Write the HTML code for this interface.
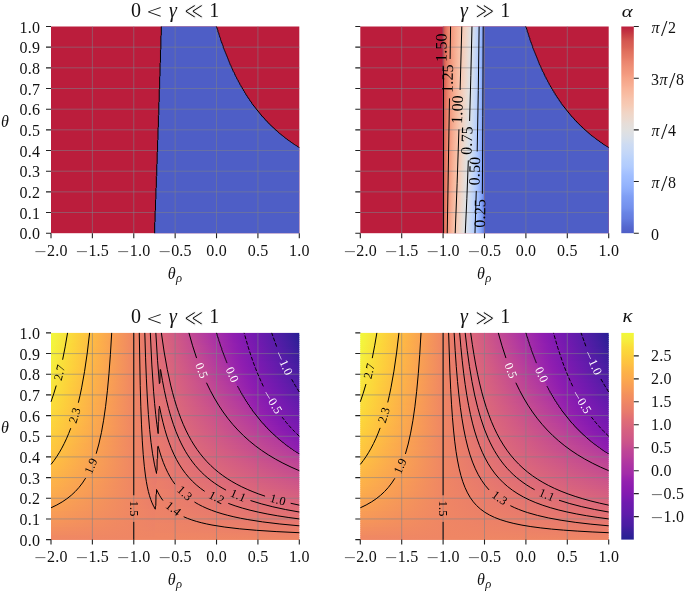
<!DOCTYPE html><html><head><meta charset="utf-8"><title>figure</title><style>html,body{margin:0;padding:0;background:#fff}svg{display:block}</style></head><body><svg width="685" height="592" viewBox="0 0 685 592" font-family='"Liberation Serif", "DejaVu Serif", serif'>
<defs><linearGradient id="Btr0" gradientUnits="userSpaceOnUse" x1="443.1" x2="484.5" y1="0" y2="0"/><linearGradient id="g1" href="#Btr0"><stop offset="0" stop-color="#bb1d3c"/><stop offset=".0127" stop-color="#cc4a49"/><stop offset=".0253" stop-color="#d2554e"/><stop offset=".0506" stop-color="#db6557"/><stop offset=".076" stop-color="#e1715f"/><stop offset=".1013" stop-color="#e67b66"/><stop offset=".1392" stop-color="#ec876f"/><stop offset=".2152" stop-color="#f39a7f"/><stop offset=".3038" stop-color="#f7ae92"/><stop offset=".4304" stop-color="#f7c3ac"/><stop offset=".5696" stop-color="#eed7ca"/><stop offset=".6582" stop-color="#e2dfde"/><stop offset=".7215" stop-color="#d6deeb"/><stop offset=".7848" stop-color="#c8d9f5"/><stop offset=".8354" stop-color="#bad1fb"/><stop offset=".8987" stop-color="#a3c0ff"/><stop offset=".9367" stop-color="#90b0fc"/><stop offset=".962" stop-color="#809ff5"/><stop offset=".9747" stop-color="#7694ef"/><stop offset=".9873" stop-color="#6984e5"/><stop offset="1" stop-color="#4e5ec6"/></linearGradient><linearGradient id="g2" href="#Btr0"><stop offset="0" stop-color="#bb1d3c"/><stop offset=".0127" stop-color="#cc4a49"/><stop offset=".0253" stop-color="#d2554e"/><stop offset=".0506" stop-color="#db6557"/><stop offset=".1013" stop-color="#e67b66"/><stop offset=".1266" stop-color="#ea846c"/><stop offset=".2405" stop-color="#f5a186"/><stop offset=".3165" stop-color="#f7b095"/><stop offset=".4051" stop-color="#f8c0a7"/><stop offset=".5316" stop-color="#f1d2c2"/><stop offset=".5949" stop-color="#ebdad0"/><stop offset=".6582" stop-color="#e2dfde"/><stop offset=".7215" stop-color="#d6deeb"/><stop offset=".8101" stop-color="#c1d5f9"/><stop offset=".8734" stop-color="#adc8ff"/><stop offset=".9114" stop-color="#9cbbfe"/><stop offset=".9494" stop-color="#89a8f9"/><stop offset=".9747" stop-color="#7694ef"/><stop offset=".9873" stop-color="#6984e5"/><stop offset="1" stop-color="#4e5ec6"/></linearGradient><linearGradient id="g3" href="#Btr0"><stop offset="0" stop-color="#bb1d3c"/><stop offset=".0127" stop-color="#cc4a49"/><stop offset=".0253" stop-color="#d2554e"/><stop offset=".0506" stop-color="#db6557"/><stop offset=".1013" stop-color="#e67b66"/><stop offset=".1266" stop-color="#ea846c"/><stop offset=".1772" stop-color="#f09278"/><stop offset=".2532" stop-color="#f5a488"/><stop offset=".3544" stop-color="#f8b89d"/><stop offset=".4177" stop-color="#f7c2aa"/><stop offset=".4937" stop-color="#f4cebb"/><stop offset=".557" stop-color="#efd5c8"/><stop offset=".6582" stop-color="#e1e0df"/><stop offset=".7342" stop-color="#d3dded"/><stop offset=".8101" stop-color="#c1d5f9"/><stop offset=".8481" stop-color="#b5cefd"/><stop offset=".9114" stop-color="#9cbbfe"/><stop offset=".9494" stop-color="#89a8f9"/><stop offset=".9747" stop-color="#7694ef"/><stop offset=".9873" stop-color="#6984e5"/><stop offset="1" stop-color="#4e5ec6"/></linearGradient><linearGradient id="g4" href="#Btr0"><stop offset="0" stop-color="#bb1d3c"/><stop offset=".0127" stop-color="#cc4a49"/><stop offset=".038" stop-color="#d85f54"/><stop offset=".076" stop-color="#e27260"/><stop offset=".1646" stop-color="#ef8f75"/><stop offset=".3038" stop-color="#f7af94"/><stop offset=".4177" stop-color="#f7c2aa"/><stop offset=".557" stop-color="#efd6c9"/><stop offset=".6203" stop-color="#e7ddd6"/><stop offset=".6582" stop-color="#e1e0df"/><stop offset=".7468" stop-color="#d0dcf0"/><stop offset=".7848" stop-color="#c6d8f6"/><stop offset=".8354" stop-color="#b9d0fc"/><stop offset=".8987" stop-color="#a1bfff"/><stop offset=".924" stop-color="#96b6fd"/><stop offset=".9367" stop-color="#8faffc"/><stop offset=".962" stop-color="#809ff5"/><stop offset=".9747" stop-color="#7694ef"/><stop offset=".9873" stop-color="#6984e5"/><stop offset="1" stop-color="#4e5ec6"/></linearGradient><linearGradient id="g5" href="#Btr0"><stop offset="0" stop-color="#bb1d3c"/><stop offset=".0127" stop-color="#cc4a49"/><stop offset=".038" stop-color="#d85f54"/><stop offset=".076" stop-color="#e27260"/><stop offset=".1519" stop-color="#ee8c73"/><stop offset=".2911" stop-color="#f7ac91"/><stop offset=".4051" stop-color="#f8c1a9"/><stop offset=".519" stop-color="#f2d2c1"/><stop offset=".6076" stop-color="#e9dbd4"/><stop offset=".6582" stop-color="#e1e0df"/><stop offset=".7215" stop-color="#d5deeb"/><stop offset=".7848" stop-color="#c6d8f6"/><stop offset=".8354" stop-color="#b9d0fc"/><stop offset=".8987" stop-color="#a1bfff"/><stop offset=".9367" stop-color="#8faffc"/><stop offset=".962" stop-color="#7f9ef5"/><stop offset=".9747" stop-color="#7593ef"/><stop offset=".9873" stop-color="#6984e5"/><stop offset="1" stop-color="#4e5ec6"/></linearGradient><linearGradient id="g6" href="#Btr0"><stop offset="0" stop-color="#bb1d3c"/><stop offset=".0127" stop-color="#cc4a49"/><stop offset=".038" stop-color="#d85f54"/><stop offset=".0886" stop-color="#e57864"/><stop offset=".1392" stop-color="#ec8970"/><stop offset=".2532" stop-color="#f5a488"/><stop offset=".3544" stop-color="#f8b99f"/><stop offset=".4051" stop-color="#f8c1a9"/><stop offset=".481" stop-color="#f5ccb8"/><stop offset=".557" stop-color="#efd6c9"/><stop offset=".6582" stop-color="#e0e0e1"/><stop offset=".7342" stop-color="#d2ddee"/><stop offset=".8101" stop-color="#c0d5f9"/><stop offset=".8734" stop-color="#abc7ff"/><stop offset=".9114" stop-color="#9bbafe"/><stop offset=".9494" stop-color="#87a7f9"/><stop offset=".9747" stop-color="#7593ef"/><stop offset=".9873" stop-color="#6984e5"/><stop offset="1" stop-color="#4e5ec6"/></linearGradient><linearGradient id="g7" href="#Btr0"><stop offset="0" stop-color="#bb1d3c"/><stop offset=".0127" stop-color="#cc4a49"/><stop offset=".038" stop-color="#d85f54"/><stop offset=".0506" stop-color="#dc6759"/><stop offset=".0886" stop-color="#e57864"/><stop offset=".1392" stop-color="#ec8970"/><stop offset=".2532" stop-color="#f6a68a"/><stop offset=".4051" stop-color="#f8c1a9"/><stop offset=".519" stop-color="#f1d2c2"/><stop offset=".6076" stop-color="#e8dcd5"/><stop offset=".6456" stop-color="#e2dfde"/><stop offset=".7089" stop-color="#d7deea"/><stop offset=".7342" stop-color="#d1ddef"/><stop offset=".8101" stop-color="#c0d5f9"/><stop offset=".8481" stop-color="#b4cdfd"/><stop offset=".9114" stop-color="#9bbafe"/><stop offset=".9494" stop-color="#87a7f9"/><stop offset=".9747" stop-color="#7593ef"/><stop offset=".9873" stop-color="#6984e5"/><stop offset="1" stop-color="#4e5ec6"/></linearGradient><linearGradient id="g8" href="#Btr0"><stop offset="0" stop-color="#bb1d3c"/><stop offset=".0127" stop-color="#cc4a49"/><stop offset=".0253" stop-color="#d45750"/><stop offset=".0506" stop-color="#dc6759"/><stop offset=".1013" stop-color="#e77d67"/><stop offset=".1266" stop-color="#eb856e"/><stop offset=".1772" stop-color="#f09479"/><stop offset=".2532" stop-color="#f6a68a"/><stop offset=".4051" stop-color="#f7c2aa"/><stop offset=".519" stop-color="#f1d2c2"/><stop offset=".6076" stop-color="#e8dcd5"/><stop offset=".6456" stop-color="#e2dfde"/><stop offset=".7215" stop-color="#d4deec"/><stop offset=".7975" stop-color="#c2d6f8"/><stop offset=".8608" stop-color="#afcafe"/><stop offset=".9114" stop-color="#9bbafe"/><stop offset=".9494" stop-color="#87a7f9"/><stop offset=".9747" stop-color="#7593ef"/><stop offset=".9873" stop-color="#6984e5"/><stop offset="1" stop-color="#4e5ec6"/></linearGradient><linearGradient id="g9" href="#Btr0"><stop offset="0" stop-color="#bb1d3c"/><stop offset=".0127" stop-color="#cc4a49"/><stop offset=".0253" stop-color="#d45750"/><stop offset=".0506" stop-color="#dc6759"/><stop offset=".1013" stop-color="#e77d67"/><stop offset=".1266" stop-color="#eb856e"/><stop offset=".1646" stop-color="#ef9177"/><stop offset=".2532" stop-color="#f6a68a"/><stop offset=".3291" stop-color="#f8b59b"/><stop offset=".4051" stop-color="#f7c2aa"/><stop offset=".519" stop-color="#f1d2c2"/><stop offset=".5823" stop-color="#ebdad0"/><stop offset=".6456" stop-color="#e2dfde"/><stop offset=".7089" stop-color="#d6deeb"/><stop offset=".7722" stop-color="#c9d9f5"/><stop offset=".8354" stop-color="#b7d0fc"/><stop offset=".8987" stop-color="#a0beff"/><stop offset=".9367" stop-color="#8dadfb"/><stop offset=".962" stop-color="#7f9ef5"/><stop offset=".9747" stop-color="#7593ef"/><stop offset=".9873" stop-color="#6984e5"/><stop offset="1" stop-color="#4e5ec6"/></linearGradient><linearGradient id="g10" href="#Btr0"><stop offset="0" stop-color="#bb1d3c"/><stop offset=".0127" stop-color="#cc4a49"/><stop offset=".0253" stop-color="#d45750"/><stop offset=".0506" stop-color="#dc6759"/><stop offset=".076" stop-color="#e27260"/><stop offset=".1013" stop-color="#e77d67"/><stop offset=".1519" stop-color="#ee8d74"/><stop offset=".2911" stop-color="#f7ae92"/><stop offset=".4051" stop-color="#f7c2aa"/><stop offset=".5443" stop-color="#efd6c9"/><stop offset=".6076" stop-color="#e7ddd6"/><stop offset=".6456" stop-color="#e1e0df"/><stop offset=".7342" stop-color="#d1ddef"/><stop offset=".7848" stop-color="#c5d7f7"/><stop offset=".8481" stop-color="#b3ccfd"/><stop offset=".8987" stop-color="#a0beff"/><stop offset=".9367" stop-color="#8dadfb"/><stop offset=".962" stop-color="#7f9ef5"/><stop offset=".9747" stop-color="#7593ef"/><stop offset=".9873" stop-color="#6883e4"/><stop offset="1" stop-color="#4e5ec6"/></linearGradient><linearGradient id="g11" href="#Btr0"><stop offset="0" stop-color="#bb1d3c"/><stop offset=".0127" stop-color="#cc4a49"/><stop offset=".0253" stop-color="#d45750"/><stop offset=".0506" stop-color="#dc6759"/><stop offset=".076" stop-color="#e27260"/><stop offset=".1139" stop-color="#e9826b"/><stop offset=".1519" stop-color="#ee8d74"/><stop offset=".2911" stop-color="#f7ae92"/><stop offset=".4051" stop-color="#f7c2aa"/><stop offset=".5443" stop-color="#efd6c9"/><stop offset=".6076" stop-color="#e7ddd6"/><stop offset=".6456" stop-color="#e1e0df"/><stop offset=".7215" stop-color="#d3dded"/><stop offset=".7975" stop-color="#c1d5f9"/><stop offset=".8481" stop-color="#b3ccfd"/><stop offset=".9114" stop-color="#9ab9fe"/><stop offset=".9494" stop-color="#86a6f8"/><stop offset=".9747" stop-color="#7593ef"/><stop offset=".9873" stop-color="#6883e4"/><stop offset="1" stop-color="#4e5ec6"/></linearGradient><linearGradient id="g12" href="#Btr0"><stop offset="0" stop-color="#bb1d3c"/><stop offset=".0127" stop-color="#cc4a49"/><stop offset=".0253" stop-color="#d45750"/><stop offset=".0506" stop-color="#dc6759"/><stop offset=".076" stop-color="#e37461"/><stop offset=".1392" stop-color="#ed8a71"/><stop offset=".2405" stop-color="#f5a488"/><stop offset=".3924" stop-color="#f8c1a9"/><stop offset=".5063" stop-color="#f2d2c1"/><stop offset=".5949" stop-color="#e9dbd4"/><stop offset=".6456" stop-color="#e1e0df"/><stop offset=".7342" stop-color="#d0dcf0"/><stop offset=".7975" stop-color="#c1d5f9"/><stop offset=".8608" stop-color="#aec9fe"/><stop offset=".9114" stop-color="#9ab9fe"/><stop offset=".9494" stop-color="#86a6f8"/><stop offset=".9747" stop-color="#7593ef"/><stop offset=".9873" stop-color="#6883e4"/><stop offset="1" stop-color="#4e5ec6"/></linearGradient><linearGradient id="g13" href="#Btr0"><stop offset="0" stop-color="#bb1d3c"/><stop offset=".0127" stop-color="#cc4a49"/><stop offset=".0253" stop-color="#d45750"/><stop offset=".0633" stop-color="#e06f5d"/><stop offset=".0886" stop-color="#e57965"/><stop offset=".1392" stop-color="#ed8a71"/><stop offset=".1772" stop-color="#f1957b"/><stop offset=".2405" stop-color="#f5a488"/><stop offset=".3291" stop-color="#f8b79c"/><stop offset=".3924" stop-color="#f8c1a9"/><stop offset=".4937" stop-color="#f3d1bf"/><stop offset=".5443" stop-color="#efd6c9"/><stop offset=".6456" stop-color="#e0e0e1"/><stop offset=".7089" stop-color="#d5deeb"/><stop offset=".7722" stop-color="#c8d9f5"/><stop offset=".8228" stop-color="#bad1fb"/><stop offset=".8608" stop-color="#adc8ff"/><stop offset=".8987" stop-color="#9fbdff"/><stop offset=".924" stop-color="#94b3fd"/><stop offset=".9494" stop-color="#86a6f8"/><stop offset=".9747" stop-color="#7491ee"/><stop offset=".9873" stop-color="#6883e4"/><stop offset="1" stop-color="#4e5ec6"/></linearGradient><linearGradient id="g14" href="#Btr0"><stop offset="0" stop-color="#bb1d3c"/><stop offset=".0127" stop-color="#cc4a49"/><stop offset=".0253" stop-color="#d45750"/><stop offset=".0633" stop-color="#e06f5d"/><stop offset=".1266" stop-color="#ec876f"/><stop offset=".1646" stop-color="#f09278"/><stop offset=".2405" stop-color="#f5a488"/><stop offset=".3418" stop-color="#f8b99f"/><stop offset=".3924" stop-color="#f8c1a9"/><stop offset=".5063" stop-color="#f1d2c2"/><stop offset=".5949" stop-color="#e8dcd5"/><stop offset=".6329" stop-color="#e2dfde"/><stop offset=".6962" stop-color="#d7deea"/><stop offset=".7722" stop-color="#c6d8f6"/><stop offset=".8481" stop-color="#b1cbfe"/><stop offset=".8987" stop-color="#9fbdff"/><stop offset=".9494" stop-color="#86a6f8"/><stop offset=".9747" stop-color="#7491ee"/><stop offset=".9873" stop-color="#6883e4"/><stop offset="1" stop-color="#4e5ec6"/></linearGradient><linearGradient id="g15" href="#Btr0"><stop offset="0" stop-color="#bb1d3c"/><stop offset=".0127" stop-color="#cc4a49"/><stop offset=".0253" stop-color="#d45750"/><stop offset=".038" stop-color="#d96155"/><stop offset=".0633" stop-color="#e06f5d"/><stop offset=".1013" stop-color="#e87f68"/><stop offset=".1266" stop-color="#ec876f"/><stop offset=".1646" stop-color="#f09278"/><stop offset=".2405" stop-color="#f5a488"/><stop offset=".3291" stop-color="#f8b79c"/><stop offset=".3924" stop-color="#f7c2aa"/><stop offset=".5063" stop-color="#f1d2c2"/><stop offset=".5949" stop-color="#e8dcd5"/><stop offset=".6329" stop-color="#e2dfde"/><stop offset=".7215" stop-color="#d2ddee"/><stop offset=".7975" stop-color="#c0d5f9"/><stop offset=".8608" stop-color="#adc8ff"/><stop offset=".9114" stop-color="#99b8fe"/><stop offset=".9494" stop-color="#85a4f8"/><stop offset=".962" stop-color="#7e9cf4"/><stop offset=".9747" stop-color="#7491ee"/><stop offset=".9873" stop-color="#6883e4"/><stop offset="1" stop-color="#4e5ec6"/></linearGradient><linearGradient id="g16" href="#Btr0"><stop offset="0" stop-color="#bb1d3c"/><stop offset=".0127" stop-color="#cc4a49"/><stop offset=".0253" stop-color="#d45750"/><stop offset=".038" stop-color="#d96155"/><stop offset=".0633" stop-color="#e06f5d"/><stop offset=".1013" stop-color="#e87f68"/><stop offset=".1519" stop-color="#ef8f75"/><stop offset=".2152" stop-color="#f4a084"/><stop offset=".2785" stop-color="#f7ae92"/><stop offset=".3924" stop-color="#f7c2aa"/><stop offset=".5063" stop-color="#f1d2c2"/><stop offset=".557" stop-color="#ecd9cf"/><stop offset=".6329" stop-color="#e2dfde"/><stop offset=".7089" stop-color="#d4deec"/><stop offset=".7975" stop-color="#c0d5f9"/><stop offset=".8608" stop-color="#adc8ff"/><stop offset=".9114" stop-color="#99b8fe"/><stop offset=".9494" stop-color="#85a4f8"/><stop offset=".962" stop-color="#7e9cf4"/><stop offset=".9747" stop-color="#7491ee"/><stop offset=".9873" stop-color="#6883e4"/><stop offset="1" stop-color="#4e5ec6"/></linearGradient><linearGradient id="g17" href="#Btr0"><stop offset="0" stop-color="#bb1d3c"/><stop offset=".0127" stop-color="#cc4a49"/><stop offset=".0253" stop-color="#d45750"/><stop offset=".038" stop-color="#d96155"/><stop offset=".0506" stop-color="#dd695a"/><stop offset=".1139" stop-color="#ea846c"/><stop offset=".1899" stop-color="#f39a7f"/><stop offset=".2405" stop-color="#f6a68a"/><stop offset=".3291" stop-color="#f8b89d"/><stop offset=".3924" stop-color="#f7c2aa"/><stop offset=".5316" stop-color="#efd6c9"/><stop offset=".5949" stop-color="#e7ddd6"/><stop offset=".6329" stop-color="#e1e0df"/><stop offset=".7215" stop-color="#d1ddef"/><stop offset=".7975" stop-color="#c0d5f9"/><stop offset=".8481" stop-color="#b0cbfe"/><stop offset=".8987" stop-color="#9ebcfe"/><stop offset=".9367" stop-color="#8cacfb"/><stop offset=".962" stop-color="#7e9cf4"/><stop offset=".9747" stop-color="#7491ee"/><stop offset=".9873" stop-color="#6883e4"/><stop offset="1" stop-color="#4e5ec6"/></linearGradient><linearGradient id="g18" href="#Btr0"><stop offset="0" stop-color="#bb1d3c"/><stop offset=".0127" stop-color="#cc4a49"/><stop offset=".0253" stop-color="#d45750"/><stop offset=".038" stop-color="#d96155"/><stop offset=".0506" stop-color="#dd695a"/><stop offset=".076" stop-color="#e37461"/><stop offset=".1392" stop-color="#ee8c73"/><stop offset=".1772" stop-color="#f2977c"/><stop offset=".2785" stop-color="#f7ae92"/><stop offset=".3797" stop-color="#f8c1a9"/><stop offset=".4051" stop-color="#f7c4ad"/><stop offset=".5316" stop-color="#efd6c9"/><stop offset=".5949" stop-color="#e7ddd6"/><stop offset=".6329" stop-color="#e1e0df"/><stop offset=".6835" stop-color="#d8dfe9"/><stop offset=".7595" stop-color="#c9d9f5"/><stop offset=".8481" stop-color="#b0cbfe"/><stop offset=".8987" stop-color="#9ebcfe"/><stop offset=".924" stop-color="#92b2fc"/><stop offset=".9494" stop-color="#85a4f8"/><stop offset=".9747" stop-color="#7491ee"/><stop offset=".9873" stop-color="#6883e4"/><stop offset="1" stop-color="#4e5ec6"/></linearGradient><linearGradient id="g19" href="#Btr0"><stop offset="0" stop-color="#bb1d3c"/><stop offset=".0127" stop-color="#cc4a49"/><stop offset=".0253" stop-color="#d45750"/><stop offset=".038" stop-color="#d96155"/><stop offset=".0506" stop-color="#dd695a"/><stop offset=".1013" stop-color="#e87f68"/><stop offset=".1646" stop-color="#f09479"/><stop offset=".2785" stop-color="#f7ae92"/><stop offset=".3924" stop-color="#f7c3ac"/><stop offset=".4684" stop-color="#f4cebb"/><stop offset=".5316" stop-color="#efd6c9"/><stop offset=".6329" stop-color="#e1e0df"/><stop offset=".7089" stop-color="#d3dded"/><stop offset=".7975" stop-color="#bfd4fa"/><stop offset=".8608" stop-color="#abc7ff"/><stop offset=".9114" stop-color="#97b7fe"/><stop offset=".9494" stop-color="#85a4f8"/><stop offset=".9747" stop-color="#7491ee"/><stop offset=".9873" stop-color="#6883e4"/><stop offset="1" stop-color="#4e5ec6"/></linearGradient><linearGradient id="g20" href="#Btr0"><stop offset="0" stop-color="#bb1d3c"/><stop offset=".0127" stop-color="#ce4c4a"/><stop offset=".0253" stop-color="#d45750"/><stop offset=".038" stop-color="#d96155"/><stop offset=".076" stop-color="#e47662"/><stop offset=".1266" stop-color="#ec8970"/><stop offset=".2278" stop-color="#f5a488"/><stop offset=".3291" stop-color="#f8b99f"/><stop offset=".3797" stop-color="#f8c1a9"/><stop offset=".443" stop-color="#f5cbb7"/><stop offset=".5316" stop-color="#eed7ca"/><stop offset=".6329" stop-color="#e0e0e1"/><stop offset=".7215" stop-color="#d0dcf0"/><stop offset=".7975" stop-color="#bfd4fa"/><stop offset=".8608" stop-color="#abc7ff"/><stop offset=".9114" stop-color="#97b7fe"/><stop offset=".9494" stop-color="#84a3f7"/><stop offset=".962" stop-color="#7c9bf3"/><stop offset=".9747" stop-color="#7390ed"/><stop offset=".9873" stop-color="#6883e4"/><stop offset="1" stop-color="#4e5ec6"/></linearGradient><linearGradient id="g21" href="#Btr0"><stop offset="0" stop-color="#bb1d3c"/><stop offset=".0127" stop-color="#ce4c4a"/><stop offset=".0253" stop-color="#d55951"/><stop offset=".0633" stop-color="#e1715f"/><stop offset=".1013" stop-color="#e9806a"/><stop offset=".1519" stop-color="#ef9177"/><stop offset=".2025" stop-color="#f49e83"/><stop offset=".2785" stop-color="#f7af94"/><stop offset=".3924" stop-color="#f7c3ac"/><stop offset=".5316" stop-color="#eed7ca"/><stop offset=".6203" stop-color="#e2dfde"/><stop offset=".6835" stop-color="#d7deea"/><stop offset=".7595" stop-color="#c8d9f5"/><stop offset=".8481" stop-color="#afcafe"/><stop offset=".8987" stop-color="#9cbbfe"/><stop offset=".9367" stop-color="#8babfa"/><stop offset=".962" stop-color="#7c9bf3"/><stop offset=".9747" stop-color="#7390ed"/><stop offset=".9873" stop-color="#6781e3"/><stop offset="1" stop-color="#4e5ec6"/></linearGradient><linearGradient id="g22" href="#Btr0"><stop offset="0" stop-color="#bb1d3c"/><stop offset=".0127" stop-color="#ce4c4a"/><stop offset=".0253" stop-color="#d55951"/><stop offset=".0633" stop-color="#e1715f"/><stop offset=".1013" stop-color="#e9806a"/><stop offset=".1519" stop-color="#ef9177"/><stop offset=".1899" stop-color="#f39b80"/><stop offset=".2785" stop-color="#f7af94"/><stop offset=".3797" stop-color="#f7c2aa"/><stop offset=".4937" stop-color="#f1d2c2"/><stop offset=".5443" stop-color="#ecd8cd"/><stop offset=".6203" stop-color="#e2dfde"/><stop offset=".7089" stop-color="#d2ddee"/><stop offset=".7722" stop-color="#c4d7f7"/><stop offset=".8354" stop-color="#b3ccfd"/><stop offset=".8987" stop-color="#9cbbfe"/><stop offset=".9367" stop-color="#8babfa"/><stop offset=".962" stop-color="#7c9bf3"/><stop offset=".9747" stop-color="#7390ed"/><stop offset=".9873" stop-color="#6781e3"/><stop offset="1" stop-color="#4e5ec6"/></linearGradient><linearGradient id="g23" href="#Btr0"><stop offset="0" stop-color="#bb1d3c"/><stop offset=".0127" stop-color="#ce4c4a"/><stop offset=".0253" stop-color="#d55951"/><stop offset=".0633" stop-color="#e1715f"/><stop offset=".1139" stop-color="#eb856e"/><stop offset=".1392" stop-color="#ee8d74"/><stop offset=".1772" stop-color="#f2987d"/><stop offset=".2658" stop-color="#f7ac91"/><stop offset=".3797" stop-color="#f7c2aa"/><stop offset=".519" stop-color="#efd6c9"/><stop offset=".5823" stop-color="#e7ddd6"/><stop offset=".6203" stop-color="#e1e0df"/><stop offset=".6962" stop-color="#d4deec"/><stop offset=".7848" stop-color="#c1d5f9"/><stop offset=".8608" stop-color="#aac6ff"/><stop offset=".8987" stop-color="#9bbafe"/><stop offset=".9494" stop-color="#84a3f7"/><stop offset=".962" stop-color="#7c9bf3"/><stop offset=".9747" stop-color="#7390ed"/><stop offset=".9873" stop-color="#6781e3"/><stop offset="1" stop-color="#4e5ec6"/></linearGradient><linearGradient id="g24" href="#Btr0"><stop offset="0" stop-color="#bb1d3c"/><stop offset=".0127" stop-color="#ce4c4a"/><stop offset=".0253" stop-color="#d55951"/><stop offset=".0633" stop-color="#e1715f"/><stop offset=".1139" stop-color="#eb856e"/><stop offset=".1392" stop-color="#ee8d74"/><stop offset=".2278" stop-color="#f6a68a"/><stop offset=".3165" stop-color="#f8b89d"/><stop offset=".3797" stop-color="#f7c2aa"/><stop offset=".519" stop-color="#efd6c9"/><stop offset=".5823" stop-color="#e7ddd6"/><stop offset=".6203" stop-color="#e1e0df"/><stop offset=".6835" stop-color="#d6deeb"/><stop offset=".7595" stop-color="#c6d8f6"/><stop offset=".8481" stop-color="#aec9fe"/><stop offset=".8987" stop-color="#9bbafe"/><stop offset=".9494" stop-color="#84a3f7"/><stop offset=".9747" stop-color="#7390ed"/><stop offset=".9873" stop-color="#6781e3"/><stop offset="1" stop-color="#4e5ec6"/></linearGradient><linearGradient id="g25" href="#Btr0"><stop offset="0" stop-color="#bb1d3c"/><stop offset=".0127" stop-color="#ce4c4a"/><stop offset=".0253" stop-color="#d55951"/><stop offset=".0506" stop-color="#de6b5b"/><stop offset=".1266" stop-color="#ed8a71"/><stop offset=".2278" stop-color="#f6a68a"/><stop offset=".3671" stop-color="#f8c1a9"/><stop offset=".481" stop-color="#f2d2c1"/><stop offset=".5316" stop-color="#edd8cc"/><stop offset=".6203" stop-color="#e1e0df"/><stop offset=".7089" stop-color="#d1ddef"/><stop offset=".7722" stop-color="#c3d6f8"/><stop offset=".8481" stop-color="#aec9fe"/><stop offset=".8987" stop-color="#9bbafe"/><stop offset=".9367" stop-color="#8aaafa"/><stop offset=".962" stop-color="#7b9af3"/><stop offset=".9747" stop-color="#7390ed"/><stop offset=".9873" stop-color="#6781e3"/><stop offset="1" stop-color="#4e5ec6"/></linearGradient><linearGradient id="g26" href="#Btr0"><stop offset="0" stop-color="#bb1d3c"/><stop offset=".0127" stop-color="#ce4c4a"/><stop offset=".0253" stop-color="#d55951"/><stop offset=".038" stop-color="#da6356"/><stop offset=".076" stop-color="#e57864"/><stop offset=".1266" stop-color="#ed8a71"/><stop offset=".1899" stop-color="#f39d82"/><stop offset=".2278" stop-color="#f6a68a"/><stop offset=".3671" stop-color="#f8c1a9"/><stop offset=".4304" stop-color="#f5cbb7"/><stop offset=".519" stop-color="#eed7ca"/><stop offset=".6203" stop-color="#e0e0e1"/><stop offset=".6962" stop-color="#d3dded"/><stop offset=".7848" stop-color="#c0d5f9"/><stop offset=".8354" stop-color="#b1cbfe"/><stop offset=".8987" stop-color="#9ab9fe"/><stop offset=".9367" stop-color="#8aaafa"/><stop offset=".962" stop-color="#7b9af3"/><stop offset=".9747" stop-color="#7390ed"/><stop offset=".9873" stop-color="#6781e3"/><stop offset="1" stop-color="#4e5ec6"/></linearGradient><linearGradient id="g27" href="#Btr0"><stop offset="0" stop-color="#bb1d3c"/><stop offset=".0127" stop-color="#ce4c4a"/><stop offset=".0253" stop-color="#d55951"/><stop offset=".038" stop-color="#da6356"/><stop offset=".076" stop-color="#e57864"/><stop offset=".1266" stop-color="#ed8a71"/><stop offset=".1772" stop-color="#f39a7f"/><stop offset=".2532" stop-color="#f7ac91"/><stop offset=".3671" stop-color="#f8c1a9"/><stop offset=".481" stop-color="#f1d2c2"/><stop offset=".5696" stop-color="#e8dcd5"/><stop offset=".6076" stop-color="#e2dfde"/><stop offset=".6835" stop-color="#d5deeb"/><stop offset=".7595" stop-color="#c5d7f7"/><stop offset=".8481" stop-color="#adc8ff"/><stop offset=".8861" stop-color="#9fbdff"/><stop offset=".9367" stop-color="#8aaafa"/><stop offset=".962" stop-color="#7b9af3"/><stop offset=".9873" stop-color="#6781e3"/><stop offset="1" stop-color="#4e5ec6"/></linearGradient><linearGradient id="g28" href="#Btr0"><stop offset="0" stop-color="#bb1d3c"/><stop offset=".0127" stop-color="#ce4c4a"/><stop offset=".0253" stop-color="#d55951"/><stop offset=".038" stop-color="#da6356"/><stop offset=".0633" stop-color="#e27260"/><stop offset=".1139" stop-color="#ec876f"/><stop offset=".1392" stop-color="#ef8f75"/><stop offset=".2278" stop-color="#f6a78b"/><stop offset=".3671" stop-color="#f7c2aa"/><stop offset=".4684" stop-color="#f2d2c1"/><stop offset=".6076" stop-color="#e2dfde"/><stop offset=".7089" stop-color="#d0dcf0"/><stop offset=".7722" stop-color="#c2d6f8"/><stop offset=".8481" stop-color="#adc8ff"/><stop offset=".8861" stop-color="#9fbdff"/><stop offset=".924" stop-color="#8faffc"/><stop offset=".962" stop-color="#7b9af3"/><stop offset=".9873" stop-color="#6781e3"/><stop offset="1" stop-color="#4e5ec6"/></linearGradient><linearGradient id="g29" href="#Btr0"><stop offset="0" stop-color="#bb1d3c"/><stop offset=".0127" stop-color="#ce4c4a"/><stop offset=".0253" stop-color="#d55951"/><stop offset=".038" stop-color="#da6356"/><stop offset=".0633" stop-color="#e27260"/><stop offset=".1139" stop-color="#ec876f"/><stop offset=".2025" stop-color="#f5a186"/><stop offset=".2658" stop-color="#f7af94"/><stop offset=".3671" stop-color="#f7c2aa"/><stop offset=".5063" stop-color="#efd6c9"/><stop offset=".5696" stop-color="#e7ddd6"/><stop offset=".6076" stop-color="#e1e0df"/><stop offset=".6582" stop-color="#d9dfe8"/><stop offset=".7468" stop-color="#c8d9f5"/><stop offset=".8228" stop-color="#b4cdfd"/><stop offset=".8861" stop-color="#9fbdff"/><stop offset=".924" stop-color="#8faffc"/><stop offset=".9494" stop-color="#82a2f7"/><stop offset=".9747" stop-color="#728fec"/><stop offset=".9873" stop-color="#6781e3"/><stop offset="1" stop-color="#4e5ec6"/></linearGradient><linearGradient id="g30" href="#Btr0"><stop offset="0" stop-color="#bb1d3c"/><stop offset=".0127" stop-color="#ce4c4a"/><stop offset=".0253" stop-color="#d55951"/><stop offset=".038" stop-color="#da6356"/><stop offset=".0633" stop-color="#e27260"/><stop offset=".1266" stop-color="#ee8c73"/><stop offset=".1899" stop-color="#f49e83"/><stop offset=".2911" stop-color="#f8b59b"/><stop offset=".3671" stop-color="#f7c2aa"/><stop offset=".5063" stop-color="#efd6c9"/><stop offset=".6076" stop-color="#e1e0df"/><stop offset=".6835" stop-color="#d4deec"/><stop offset=".7595" stop-color="#c4d7f7"/><stop offset=".8101" stop-color="#b6cffd"/><stop offset=".8734" stop-color="#a3c0ff"/><stop offset=".924" stop-color="#8faffc"/><stop offset=".9494" stop-color="#81a0f6"/><stop offset=".9747" stop-color="#728fec"/><stop offset=".9873" stop-color="#6680e2"/><stop offset="1" stop-color="#4e5ec6"/></linearGradient><linearGradient id="g31" href="#Btr0"><stop offset="0" stop-color="#bb1d3c"/><stop offset=".0127" stop-color="#ce4c4a"/><stop offset=".0253" stop-color="#d55951"/><stop offset=".038" stop-color="#da6356"/><stop offset=".0633" stop-color="#e27260"/><stop offset=".1266" stop-color="#ee8c73"/><stop offset=".1772" stop-color="#f39b80"/><stop offset=".2405" stop-color="#f7ab8f"/><stop offset=".3544" stop-color="#f8c1a9"/><stop offset=".4684" stop-color="#f1d2c2"/><stop offset=".6076" stop-color="#e1e0df"/><stop offset=".6962" stop-color="#d1ddef"/><stop offset=".7722" stop-color="#c1d5f9"/><stop offset=".8354" stop-color="#afcafe"/><stop offset=".8734" stop-color="#a3c0ff"/><stop offset=".8987" stop-color="#99b8fe"/><stop offset=".9367" stop-color="#89a8f9"/><stop offset=".962" stop-color="#7a98f2"/><stop offset=".9747" stop-color="#728fec"/><stop offset=".9873" stop-color="#6680e2"/><stop offset="1" stop-color="#4e5ec6"/></linearGradient><linearGradient id="g32" href="#Btr0"><stop offset="0" stop-color="#bb1d3c"/><stop offset=".0127" stop-color="#ce4c4a"/><stop offset=".0253" stop-color="#d65b52"/><stop offset=".0633" stop-color="#e27260"/><stop offset=".0886" stop-color="#e87f68"/><stop offset=".1392" stop-color="#ef9177"/><stop offset=".2152" stop-color="#f6a68a"/><stop offset=".3038" stop-color="#f8b89d"/><stop offset=".3671" stop-color="#f7c3ac"/><stop offset=".5063" stop-color="#eed7ca"/><stop offset=".6076" stop-color="#e0e0e1"/><stop offset=".6835" stop-color="#d3dded"/><stop offset=".7468" stop-color="#c6d8f6"/><stop offset=".8228" stop-color="#b3ccfd"/><stop offset=".8861" stop-color="#9ebcfe"/><stop offset=".9114" stop-color="#94b3fd"/><stop offset=".9367" stop-color="#87a7f9"/><stop offset=".962" stop-color="#7a98f2"/><stop offset=".9747" stop-color="#728fec"/><stop offset=".9873" stop-color="#6680e2"/><stop offset="1" stop-color="#4e5ec6"/></linearGradient><linearGradient id="g33" href="#Btr0"><stop offset="0" stop-color="#bb1d3c"/><stop offset=".0127" stop-color="#ce4c4a"/><stop offset=".0253" stop-color="#d65b52"/><stop offset=".0506" stop-color="#df6d5c"/><stop offset=".076" stop-color="#e57965"/><stop offset=".1139" stop-color="#ec8970"/><stop offset=".2025" stop-color="#f5a387"/><stop offset=".3165" stop-color="#f8baa0"/><stop offset=".3291" stop-color="#f8bea5"/><stop offset=".3544" stop-color="#f8c1a9"/><stop offset=".4684" stop-color="#f1d2c2"/><stop offset=".5443" stop-color="#e9dbd3"/><stop offset=".5949" stop-color="#e2dfde"/><stop offset=".6709" stop-color="#d5deeb"/><stop offset=".7595" stop-color="#c3d6f8"/><stop offset=".8101" stop-color="#b5cefd"/><stop offset=".8861" stop-color="#9ebcfe"/><stop offset=".9367" stop-color="#87a7f9"/><stop offset=".962" stop-color="#7a98f2"/><stop offset=".9747" stop-color="#728fec"/><stop offset=".9873" stop-color="#6680e2"/><stop offset="1" stop-color="#4e5ec6"/></linearGradient><linearGradient id="g34" href="#Btr0"><stop offset="0" stop-color="#bb1d3c"/><stop offset=".0127" stop-color="#ce4c4a"/><stop offset=".0253" stop-color="#d65b52"/><stop offset=".0506" stop-color="#df6d5c"/><stop offset=".076" stop-color="#e57965"/><stop offset=".1139" stop-color="#ec8970"/><stop offset=".1899" stop-color="#f4a084"/><stop offset=".2532" stop-color="#f7af94"/><stop offset=".3544" stop-color="#f7c2aa"/><stop offset=".4557" stop-color="#f2d2c1"/><stop offset=".5949" stop-color="#e2dfde"/><stop offset=".6582" stop-color="#d7deea"/><stop offset=".7468" stop-color="#c5d7f7"/><stop offset=".8101" stop-color="#b5cefd"/><stop offset=".8734" stop-color="#a1bfff"/><stop offset=".924" stop-color="#8dadfb"/><stop offset=".962" stop-color="#7a98f2"/><stop offset=".9873" stop-color="#6680e2"/><stop offset="1" stop-color="#4e5ec6"/></linearGradient><linearGradient id="g35" href="#Btr0"><stop offset="0" stop-color="#bb1d3c"/><stop offset=".0127" stop-color="#cf4f4b"/><stop offset=".0253" stop-color="#d65b52"/><stop offset=".038" stop-color="#db6557"/><stop offset=".0633" stop-color="#e37461"/><stop offset=".1266" stop-color="#ee8d74"/><stop offset=".2278" stop-color="#f6aa8e"/><stop offset=".3544" stop-color="#f7c2aa"/><stop offset=".4937" stop-color="#efd6c9"/><stop offset=".557" stop-color="#e7ddd6"/><stop offset=".5949" stop-color="#e1e0df"/><stop offset=".6835" stop-color="#d2ddee"/><stop offset=".7595" stop-color="#c2d6f8"/><stop offset=".8101" stop-color="#b5cefd"/><stop offset=".8734" stop-color="#a1bfff"/><stop offset=".924" stop-color="#8dadfb"/><stop offset=".962" stop-color="#7997f1"/><stop offset=".9747" stop-color="#708deb"/><stop offset=".9873" stop-color="#6680e2"/><stop offset="1" stop-color="#4e5ec6"/></linearGradient><linearGradient id="g36" href="#Btr0"><stop offset="0" stop-color="#bb1d3c"/><stop offset=".0127" stop-color="#cf4f4b"/><stop offset=".0253" stop-color="#d65b52"/><stop offset=".038" stop-color="#db6557"/><stop offset=".0633" stop-color="#e37461"/><stop offset=".1266" stop-color="#ee8d74"/><stop offset=".2152" stop-color="#f6a78b"/><stop offset=".3418" stop-color="#f8c1a9"/><stop offset=".4557" stop-color="#f2d2c1"/><stop offset=".5063" stop-color="#ecd8cd"/><stop offset=".5949" stop-color="#e1e0df"/><stop offset=".6709" stop-color="#d4deec"/><stop offset=".7722" stop-color="#bfd4fa"/><stop offset=".8354" stop-color="#adc8ff"/><stop offset=".8861" stop-color="#9cbbfe"/><stop offset=".9114" stop-color="#92b2fc"/><stop offset=".9367" stop-color="#86a6f8"/><stop offset=".962" stop-color="#7997f1"/><stop offset=".9747" stop-color="#708deb"/><stop offset=".9873" stop-color="#6680e2"/><stop offset="1" stop-color="#4e5ec6"/></linearGradient><linearGradient id="g37" href="#Btr0"><stop offset="0" stop-color="#bb1d3c"/><stop offset=".0127" stop-color="#cf4f4b"/><stop offset=".0253" stop-color="#d65b52"/><stop offset=".0506" stop-color="#df6d5c"/><stop offset=".0886" stop-color="#e9806a"/><stop offset=".1392" stop-color="#f09278"/><stop offset=".2025" stop-color="#f5a488"/><stop offset=".2658" stop-color="#f8b398"/><stop offset=".3544" stop-color="#f7c3ac"/><stop offset=".4937" stop-color="#eed7ca"/><stop offset=".5949" stop-color="#e1e0df"/><stop offset=".6835" stop-color="#d1ddef"/><stop offset=".7468" stop-color="#c4d7f7"/><stop offset=".8101" stop-color="#b4cdfd"/><stop offset=".8734" stop-color="#a0beff"/><stop offset=".924" stop-color="#8cacfb"/><stop offset=".962" stop-color="#7997f1"/><stop offset=".9747" stop-color="#708deb"/><stop offset=".9873" stop-color="#6680e2"/><stop offset="1" stop-color="#4e5ec6"/></linearGradient><linearGradient id="g38" href="#Btr0"><stop offset="0" stop-color="#bb1d3c"/><stop offset=".0127" stop-color="#cf4f4b"/><stop offset=".0253" stop-color="#d65b52"/><stop offset=".038" stop-color="#db6557"/><stop offset=".076" stop-color="#e67b66"/><stop offset=".1139" stop-color="#ed8a71"/><stop offset=".1899" stop-color="#f5a186"/><stop offset=".2405" stop-color="#f7ae92"/><stop offset=".3418" stop-color="#f8c1a9"/><stop offset=".4557" stop-color="#f1d2c2"/><stop offset=".5443" stop-color="#e8dcd5"/><stop offset=".5823" stop-color="#e2dfde"/><stop offset=".6329" stop-color="#dadfe7"/><stop offset=".7342" stop-color="#c6d8f6"/><stop offset=".7975" stop-color="#b7d0fc"/><stop offset=".8734" stop-color="#a0beff"/><stop offset=".924" stop-color="#8cacfb"/><stop offset=".962" stop-color="#7997f1"/><stop offset=".9747" stop-color="#708deb"/><stop offset=".9873" stop-color="#6680e2"/><stop offset="1" stop-color="#4e5ec6"/></linearGradient><linearGradient id="g39" href="#Btr0"><stop offset="0" stop-color="#bb1d3c"/><stop offset=".0127" stop-color="#cf4f4b"/><stop offset=".0253" stop-color="#d65b52"/><stop offset=".038" stop-color="#db6557"/><stop offset=".076" stop-color="#e67b66"/><stop offset=".1266" stop-color="#ef8f75"/><stop offset=".2152" stop-color="#f6a88d"/><stop offset=".3418" stop-color="#f7c2aa"/><stop offset=".443" stop-color="#f2d2c1"/><stop offset=".5823" stop-color="#e2dfde"/><stop offset=".6582" stop-color="#d5deeb"/><stop offset=".7468" stop-color="#c3d6f8"/><stop offset=".8228" stop-color="#afcafe"/><stop offset=".8861" stop-color="#9bbafe"/><stop offset=".9367" stop-color="#86a6f8"/><stop offset=".962" stop-color="#7997f1"/><stop offset=".9747" stop-color="#708deb"/><stop offset=".9873" stop-color="#6680e2"/><stop offset="1" stop-color="#4e5ec6"/></linearGradient><linearGradient id="g40" href="#Btr0"><stop offset="0" stop-color="#bb1d3c"/><stop offset=".0127" stop-color="#cf4f4b"/><stop offset=".0253" stop-color="#d65b52"/><stop offset=".0506" stop-color="#e06f5d"/><stop offset=".076" stop-color="#e67b66"/><stop offset=".1266" stop-color="#ef8f75"/><stop offset=".2025" stop-color="#f6a68a"/><stop offset=".2658" stop-color="#f8b499"/><stop offset=".3418" stop-color="#f7c2aa"/><stop offset=".481" stop-color="#efd6c9"/><stop offset=".5443" stop-color="#e7ddd6"/><stop offset=".5823" stop-color="#e1e0df"/><stop offset=".6835" stop-color="#d0dcf0"/><stop offset=".7468" stop-color="#c3d6f8"/><stop offset=".8354" stop-color="#abc7ff"/><stop offset=".8987" stop-color="#96b6fd"/><stop offset=".9367" stop-color="#86a6f8"/><stop offset=".962" stop-color="#7896f0"/><stop offset=".9747" stop-color="#6f8cea"/><stop offset=".9873" stop-color="#657ee1"/><stop offset="1" stop-color="#4e5ec6"/></linearGradient><linearGradient id="g41" href="#Btr0"><stop offset="0" stop-color="#bb1d3c"/><stop offset=".0127" stop-color="#cf4f4b"/><stop offset=".0253" stop-color="#d65b52"/><stop offset=".0506" stop-color="#e06f5d"/><stop offset=".0633" stop-color="#e47662"/><stop offset=".1392" stop-color="#f09479"/><stop offset=".1899" stop-color="#f5a387"/><stop offset=".2405" stop-color="#f7af94"/><stop offset=".3418" stop-color="#f7c2aa"/><stop offset=".481" stop-color="#efd6c9"/><stop offset=".5823" stop-color="#e1e0df"/><stop offset=".6709" stop-color="#d2ddee"/><stop offset=".7595" stop-color="#c0d5f9"/><stop offset=".8228" stop-color="#afcafe"/><stop offset=".8734" stop-color="#9fbdff"/><stop offset=".924" stop-color="#8babfa"/><stop offset=".962" stop-color="#7896f0"/><stop offset=".9747" stop-color="#6f8cea"/><stop offset=".9873" stop-color="#657ee1"/><stop offset="1" stop-color="#4e5ec6"/></linearGradient><linearGradient id="g42" href="#Btr0"><stop offset="0" stop-color="#bb1d3c"/><stop offset=".0127" stop-color="#cf4f4b"/><stop offset=".0253" stop-color="#d75d53"/><stop offset=".0506" stop-color="#e06f5d"/><stop offset=".0886" stop-color="#e9826b"/><stop offset=".1519" stop-color="#f2987d"/><stop offset=".2405" stop-color="#f7af94"/><stop offset=".3038" stop-color="#f8bda3"/><stop offset=".3797" stop-color="#f6cab4"/><stop offset=".481" stop-color="#eed7ca"/><stop offset=".5823" stop-color="#e1e0df"/><stop offset=".6709" stop-color="#d1ddef"/><stop offset=".7468" stop-color="#c2d6f8"/><stop offset=".8228" stop-color="#aec9fe"/><stop offset=".8861" stop-color="#9ab9fe"/><stop offset=".9367" stop-color="#85a4f8"/><stop offset=".962" stop-color="#7896f0"/><stop offset=".9747" stop-color="#6f8cea"/><stop offset=".9873" stop-color="#657ee1"/><stop offset="1" stop-color="#4e5ec6"/></linearGradient><linearGradient id="g43" href="#Btr0"><stop offset="0" stop-color="#bb1d3c"/><stop offset=".0127" stop-color="#cf4f4b"/><stop offset=".0253" stop-color="#d75d53"/><stop offset=".038" stop-color="#dc6759"/><stop offset=".0633" stop-color="#e47662"/><stop offset=".0886" stop-color="#e9826b"/><stop offset=".1266" stop-color="#ef9177"/><stop offset=".2152" stop-color="#f6aa8e"/><stop offset=".2658" stop-color="#f8b59b"/><stop offset=".3418" stop-color="#f7c3ac"/><stop offset=".481" stop-color="#eed7ca"/><stop offset=".5696" stop-color="#e2dfde"/><stop offset=".6709" stop-color="#d1ddef"/><stop offset=".7595" stop-color="#bfd4fa"/><stop offset=".8228" stop-color="#aec9fe"/><stop offset=".8861" stop-color="#9ab9fe"/><stop offset=".9367" stop-color="#85a4f8"/><stop offset=".962" stop-color="#7896f0"/><stop offset=".9747" stop-color="#6f8cea"/><stop offset=".9873" stop-color="#657ee1"/><stop offset="1" stop-color="#4e5ec6"/></linearGradient><linearGradient id="g44" href="#Btr0"><stop offset="0" stop-color="#bb1d3c"/><stop offset=".0127" stop-color="#cf4f4b"/><stop offset=".0253" stop-color="#d75d53"/><stop offset=".038" stop-color="#dc6759"/><stop offset=".076" stop-color="#e77d67"/><stop offset=".1266" stop-color="#ef9177"/><stop offset=".1646" stop-color="#f39d82"/><stop offset=".2405" stop-color="#f7b095"/><stop offset=".3418" stop-color="#f7c3ac"/><stop offset=".3797" stop-color="#f5cab6"/><stop offset=".4684" stop-color="#efd6c9"/><stop offset=".5696" stop-color="#e2dfde"/><stop offset=".6582" stop-color="#d3dded"/><stop offset=".7468" stop-color="#c1d5f9"/><stop offset=".8228" stop-color="#aec9fe"/><stop offset=".8734" stop-color="#9ebcfe"/><stop offset=".9114" stop-color="#90b0fc"/><stop offset=".9367" stop-color="#85a4f8"/><stop offset=".962" stop-color="#7896f0"/><stop offset=".9747" stop-color="#6f8cea"/><stop offset=".9873" stop-color="#657ee1"/><stop offset="1" stop-color="#4e5ec6"/></linearGradient><linearGradient id="g45" href="#Btr0"><stop offset="0" stop-color="#bb1d3c"/><stop offset=".0127" stop-color="#cf4f4b"/><stop offset=".0253" stop-color="#d75d53"/><stop offset=".038" stop-color="#dc6759"/><stop offset=".076" stop-color="#e77d67"/><stop offset=".1392" stop-color="#f1957b"/><stop offset=".2278" stop-color="#f7ae92"/><stop offset=".3291" stop-color="#f7c2aa"/><stop offset=".4684" stop-color="#efd6c9"/><stop offset=".5316" stop-color="#e7ddd6"/><stop offset=".5696" stop-color="#e1e0df"/><stop offset=".6709" stop-color="#d0dcf0"/><stop offset=".7468" stop-color="#c1d5f9"/><stop offset=".8228" stop-color="#adc8ff"/><stop offset=".8861" stop-color="#99b8fe"/><stop offset=".924" stop-color="#8aaafa"/><stop offset=".962" stop-color="#7896f0"/><stop offset=".9747" stop-color="#6f8cea"/><stop offset=".9873" stop-color="#657ee1"/><stop offset="1" stop-color="#4e5ec6"/></linearGradient><linearGradient id="g46" href="#Btr0"><stop offset="0" stop-color="#bb1d3c"/><stop offset=".0127" stop-color="#cf4f4b"/><stop offset=".0253" stop-color="#d75d53"/><stop offset=".0506" stop-color="#e1715f"/><stop offset=".1013" stop-color="#ec8970"/><stop offset=".1519" stop-color="#f39a7f"/><stop offset=".2152" stop-color="#f7ab8f"/><stop offset=".2658" stop-color="#f8b79c"/><stop offset=".3291" stop-color="#f7c2aa"/><stop offset=".443" stop-color="#f1d3c4"/><stop offset=".4557" stop-color="#efd5c8"/><stop offset=".5696" stop-color="#e1e0df"/><stop offset=".6709" stop-color="#d0dcf0"/><stop offset=".7595" stop-color="#bdd3fa"/><stop offset=".8228" stop-color="#adc8ff"/><stop offset=".8861" stop-color="#99b8fe"/><stop offset=".924" stop-color="#8aaafa"/><stop offset=".9494" stop-color="#7e9cf4"/><stop offset=".9747" stop-color="#6f8cea"/><stop offset=".9873" stop-color="#657ee1"/><stop offset="1" stop-color="#4e5ec6"/></linearGradient><linearGradient id="g47" href="#Btr0"><stop offset="0" stop-color="#bb1d3c"/><stop offset=".0127" stop-color="#cf4f4b"/><stop offset=".0253" stop-color="#d75d53"/><stop offset=".0506" stop-color="#e1715f"/><stop offset=".0633" stop-color="#e57864"/><stop offset=".0886" stop-color="#ea846c"/><stop offset=".1266" stop-color="#f09278"/><stop offset=".1772" stop-color="#f5a186"/><stop offset=".2405" stop-color="#f8b296"/><stop offset=".3291" stop-color="#f7c3ac"/><stop offset=".4684" stop-color="#eed7ca"/><stop offset=".5696" stop-color="#e1e0df"/><stop offset=".6456" stop-color="#d4deec"/><stop offset=".7468" stop-color="#c0d5f9"/><stop offset=".8228" stop-color="#abc7ff"/><stop offset=".8734" stop-color="#9cbbfe"/><stop offset=".9114" stop-color="#8faffc"/><stop offset=".9367" stop-color="#84a3f7"/><stop offset=".962" stop-color="#7694ef"/><stop offset=".9873" stop-color="#657ee1"/><stop offset="1" stop-color="#4e5ec6"/></linearGradient><linearGradient id="g48" href="#Btr0"><stop offset="0" stop-color="#bb1d3c"/><stop offset=".0127" stop-color="#d0514c"/><stop offset=".038" stop-color="#dd695a"/><stop offset=".0886" stop-color="#ea846c"/><stop offset=".1392" stop-color="#f2977c"/><stop offset=".2278" stop-color="#f7af94"/><stop offset=".2785" stop-color="#f8baa0"/><stop offset=".3671" stop-color="#f6cab4"/><stop offset=".4684" stop-color="#eed7ca"/><stop offset=".557" stop-color="#e2dfde"/><stop offset=".6203" stop-color="#d8dfe9"/><stop offset=".7089" stop-color="#c8d9f5"/><stop offset=".7848" stop-color="#b6cffd"/><stop offset=".8608" stop-color="#a0beff"/><stop offset=".8987" stop-color="#92b2fc"/><stop offset=".9367" stop-color="#84a3f7"/><stop offset=".962" stop-color="#7694ef"/><stop offset=".9873" stop-color="#657ee1"/><stop offset="1" stop-color="#4e5ec6"/></linearGradient><linearGradient id="g49" href="#Btr0"><stop offset="0" stop-color="#bb1d3c"/><stop offset=".0127" stop-color="#d0514c"/><stop offset=".038" stop-color="#dd695a"/><stop offset=".076" stop-color="#e87f68"/><stop offset=".1519" stop-color="#f39b80"/><stop offset=".2532" stop-color="#f8b59b"/><stop offset=".3418" stop-color="#f7c5af"/><stop offset=".4177" stop-color="#f2d2c1"/><stop offset=".557" stop-color="#e2dfde"/><stop offset=".6456" stop-color="#d3dded"/><stop offset=".7468" stop-color="#bfd4fa"/><stop offset=".8228" stop-color="#abc7ff"/><stop offset=".8861" stop-color="#97b7fe"/><stop offset=".924" stop-color="#89a8f9"/><stop offset=".962" stop-color="#7694ef"/><stop offset=".9747" stop-color="#6e8ae9"/><stop offset=".9873" stop-color="#647de0"/><stop offset="1" stop-color="#4e5ec6"/></linearGradient><linearGradient id="g50" href="#Btr0"><stop offset="0" stop-color="#bb1d3c"/><stop offset=".0127" stop-color="#d0514c"/><stop offset=".0253" stop-color="#d85f54"/><stop offset=".038" stop-color="#dd695a"/><stop offset=".076" stop-color="#e87f68"/><stop offset=".1519" stop-color="#f39b80"/><stop offset=".2405" stop-color="#f8b398"/><stop offset=".3038" stop-color="#f8c0a7"/><stop offset=".3671" stop-color="#f5cab6"/><stop offset=".4684" stop-color="#edd8cc"/><stop offset=".557" stop-color="#e1e0df"/><stop offset=".6582" stop-color="#d0dcf0"/><stop offset=".7342" stop-color="#c1d5f9"/><stop offset=".7848" stop-color="#b5cefd"/><stop offset=".8734" stop-color="#9bbafe"/><stop offset=".924" stop-color="#89a8f9"/><stop offset=".962" stop-color="#7694ef"/><stop offset=".9747" stop-color="#6e8ae9"/><stop offset=".9873" stop-color="#647de0"/><stop offset="1" stop-color="#4e5ec6"/></linearGradient><linearGradient id="g51" href="#Btr0"><stop offset="0" stop-color="#bb1d3c"/><stop offset=".0127" stop-color="#d0514c"/><stop offset=".0253" stop-color="#d85f54"/><stop offset=".038" stop-color="#dd695a"/><stop offset=".0886" stop-color="#eb856e"/><stop offset=".1266" stop-color="#f09479"/><stop offset=".1646" stop-color="#f4a084"/><stop offset=".2278" stop-color="#f7b095"/><stop offset=".3165" stop-color="#f7c2aa"/><stop offset=".3797" stop-color="#f5ccb8"/><stop offset=".4557" stop-color="#eed7ca"/><stop offset=".557" stop-color="#e1e0df"/><stop offset=".6582" stop-color="#d0dcf0"/><stop offset=".7342" stop-color="#c1d5f9"/><stop offset=".7975" stop-color="#b1cbfe"/><stop offset=".8608" stop-color="#9fbdff"/><stop offset=".9114" stop-color="#8dadfb"/><stop offset=".9494" stop-color="#7c9bf3"/><stop offset=".9747" stop-color="#6e8ae9"/><stop offset=".9873" stop-color="#647de0"/><stop offset="1" stop-color="#4e5ec6"/></linearGradient><linearGradient id="g52" href="#Btr0"><stop offset="0" stop-color="#bb1d3c"/><stop offset=".0127" stop-color="#d0514c"/><stop offset=".0253" stop-color="#d85f54"/><stop offset=".0506" stop-color="#e27260"/><stop offset=".0633" stop-color="#e57965"/><stop offset=".0886" stop-color="#eb856e"/><stop offset=".1392" stop-color="#f2987d"/><stop offset=".1772" stop-color="#f5a488"/><stop offset=".2532" stop-color="#f8b79c"/><stop offset=".3544" stop-color="#f6cab4"/><stop offset=".4557" stop-color="#eed7ca"/><stop offset=".5443" stop-color="#e2dfde"/><stop offset=".6329" stop-color="#d4deec"/><stop offset=".7215" stop-color="#c3d6f8"/><stop offset=".7722" stop-color="#b7d0fc"/><stop offset=".8481" stop-color="#a3c0ff"/><stop offset=".8861" stop-color="#96b6fd"/><stop offset=".924" stop-color="#87a7f9"/><stop offset=".9494" stop-color="#7c9bf3"/><stop offset=".9747" stop-color="#6e8ae9"/><stop offset=".9873" stop-color="#647de0"/><stop offset="1" stop-color="#4e5ec6"/></linearGradient><linearGradient id="g53" href="#Btr0"><stop offset="0" stop-color="#bb1d3c"/><stop offset=".0127" stop-color="#d0514c"/><stop offset=".0253" stop-color="#d85f54"/><stop offset=".0506" stop-color="#e27260"/><stop offset=".076" stop-color="#e9806a"/><stop offset=".1392" stop-color="#f2987d"/><stop offset=".2278" stop-color="#f8b296"/><stop offset=".2911" stop-color="#f8bfa6"/><stop offset=".3544" stop-color="#f6cab4"/><stop offset=".4557" stop-color="#edd8cc"/><stop offset=".5443" stop-color="#e2dfde"/><stop offset=".6456" stop-color="#d1ddef"/><stop offset=".7342" stop-color="#c0d5f9"/><stop offset=".7975" stop-color="#b0cbfe"/><stop offset=".8734" stop-color="#9ab9fe"/><stop offset=".924" stop-color="#87a7f9"/><stop offset=".962" stop-color="#7593ef"/><stop offset=".9873" stop-color="#647de0"/><stop offset="1" stop-color="#4e5ec6"/></linearGradient><linearGradient id="g54" href="#Btr0"><stop offset="0" stop-color="#bb1d3c"/><stop offset=".0127" stop-color="#d0514c"/><stop offset=".0253" stop-color="#d85f54"/><stop offset=".0506" stop-color="#e27260"/><stop offset=".076" stop-color="#e9806a"/><stop offset=".1266" stop-color="#f1957b"/><stop offset=".2152" stop-color="#f7af94"/><stop offset=".2658" stop-color="#f8baa0"/><stop offset=".3291" stop-color="#f7c5af"/><stop offset=".3544" stop-color="#f5cab6"/><stop offset=".4557" stop-color="#edd8cc"/><stop offset=".5443" stop-color="#e1e0df"/><stop offset=".6329" stop-color="#d3dded"/><stop offset=".7215" stop-color="#c2d6f8"/><stop offset=".8101" stop-color="#adc8ff"/><stop offset=".8608" stop-color="#9ebcfe"/><stop offset=".924" stop-color="#87a7f9"/><stop offset=".962" stop-color="#7593ef"/><stop offset=".9873" stop-color="#647de0"/><stop offset="1" stop-color="#4e5ec6"/></linearGradient><linearGradient id="g55" href="#Btr0"><stop offset="0" stop-color="#bb1d3c"/><stop offset=".0127" stop-color="#d0514c"/><stop offset=".0253" stop-color="#d85f54"/><stop offset=".038" stop-color="#de6b5b"/><stop offset=".0886" stop-color="#ec876f"/><stop offset=".1392" stop-color="#f39a7f"/><stop offset=".1772" stop-color="#f6a68a"/><stop offset=".2405" stop-color="#f8b59b"/><stop offset=".3544" stop-color="#f5cab6"/><stop offset=".443" stop-color="#eed7ca"/><stop offset=".5443" stop-color="#e1e0df"/><stop offset=".6456" stop-color="#d0dcf0"/><stop offset=".7342" stop-color="#bfd4fa"/><stop offset=".8101" stop-color="#abc7ff"/><stop offset=".8861" stop-color="#95b4fd"/><stop offset=".9367" stop-color="#81a0f6"/><stop offset=".962" stop-color="#7593ef"/><stop offset=".9873" stop-color="#647de0"/><stop offset="1" stop-color="#4e5ec6"/></linearGradient><linearGradient id="g56" href="#Btr0"><stop offset="0" stop-color="#bb1d3c"/><stop offset=".0127" stop-color="#d0514c"/><stop offset=".0253" stop-color="#d85f54"/><stop offset=".038" stop-color="#de6b5b"/><stop offset=".0633" stop-color="#e67b66"/><stop offset=".0886" stop-color="#ec876f"/><stop offset=".1392" stop-color="#f39a7f"/><stop offset=".2278" stop-color="#f8b398"/><stop offset=".2658" stop-color="#f8bba2"/><stop offset=".3418" stop-color="#f6c8b3"/><stop offset=".443" stop-color="#eed7ca"/><stop offset=".5443" stop-color="#e1e0df"/><stop offset=".6456" stop-color="#cfdcf0"/><stop offset=".7215" stop-color="#c1d5f9"/><stop offset=".7975" stop-color="#afcafe"/><stop offset=".8734" stop-color="#99b8fe"/><stop offset=".9367" stop-color="#81a0f6"/><stop offset=".9747" stop-color="#6d89e8"/><stop offset=".9873" stop-color="#647de0"/><stop offset="1" stop-color="#4e5ec6"/></linearGradient><linearGradient id="g57" href="#Btr0"><stop offset="0" stop-color="#bb1d3c"/><stop offset=".0127" stop-color="#d0514c"/><stop offset=".0253" stop-color="#d96155"/><stop offset=".0506" stop-color="#e37461"/><stop offset=".076" stop-color="#e9826b"/><stop offset=".1266" stop-color="#f1957b"/><stop offset=".1646" stop-color="#f5a387"/><stop offset=".2152" stop-color="#f7b095"/><stop offset=".3038" stop-color="#f7c3ac"/><stop offset=".4304" stop-color="#efd5c8"/><stop offset=".443" stop-color="#edd8cc"/><stop offset=".5316" stop-color="#e2dfde"/><stop offset=".5949" stop-color="#d8dfe9"/><stop offset=".6709" stop-color="#cadaf4"/><stop offset=".7089" stop-color="#c3d6f8"/><stop offset=".7848" stop-color="#b1cbfe"/><stop offset=".8608" stop-color="#9cbbfe"/><stop offset=".924" stop-color="#86a6f8"/><stop offset=".9494" stop-color="#7b9af3"/><stop offset=".962" stop-color="#7491ee"/><stop offset=".9747" stop-color="#6d89e8"/><stop offset=".9873" stop-color="#637bdf"/><stop offset="1" stop-color="#4e5ec6"/></linearGradient><linearGradient id="g58" href="#Btr0"><stop offset="0" stop-color="#bb1d3c"/><stop offset=".0127" stop-color="#d1534d"/><stop offset=".0253" stop-color="#d96155"/><stop offset=".0506" stop-color="#e37461"/><stop offset=".076" stop-color="#e9826b"/><stop offset=".1266" stop-color="#f2977c"/><stop offset=".2025" stop-color="#f7ae92"/><stop offset=".2911" stop-color="#f8c1a9"/><stop offset=".3924" stop-color="#f2d2c1"/><stop offset=".5316" stop-color="#e2dfde"/><stop offset=".5443" stop-color="#dfe0e2"/><stop offset=".6329" stop-color="#d1ddef"/><stop offset=".7215" stop-color="#c0d5f9"/><stop offset=".7975" stop-color="#aec9fe"/><stop offset=".8734" stop-color="#97b7fe"/><stop offset=".9367" stop-color="#809ff5"/><stop offset=".9747" stop-color="#6d89e8"/><stop offset=".9873" stop-color="#637bdf"/><stop offset="1" stop-color="#4e5ec6"/></linearGradient><linearGradient id="g59" href="#Btr0"><stop offset="0" stop-color="#bb1d3c"/><stop offset=".0127" stop-color="#d1534d"/><stop offset=".0253" stop-color="#d96155"/><stop offset=".0506" stop-color="#e37461"/><stop offset=".076" stop-color="#e9826b"/><stop offset=".0886" stop-color="#ec8970"/><stop offset=".1266" stop-color="#f2977c"/><stop offset=".2152" stop-color="#f8b296"/><stop offset=".3165" stop-color="#f6c6b0"/><stop offset=".4304" stop-color="#efd6c9"/><stop offset=".5316" stop-color="#e1e0df"/><stop offset=".5949" stop-color="#d7deea"/><stop offset=".7089" stop-color="#c2d6f8"/><stop offset=".8101" stop-color="#aac6ff"/><stop offset=".8734" stop-color="#97b7fe"/><stop offset=".924" stop-color="#85a4f8"/><stop offset=".962" stop-color="#7491ee"/><stop offset=".9873" stop-color="#637bdf"/><stop offset="1" stop-color="#4e5ec6"/></linearGradient><linearGradient id="g60" href="#Btr0"><stop offset="0" stop-color="#bb1d3c"/><stop offset=".0127" stop-color="#d1534d"/><stop offset=".0253" stop-color="#d96155"/><stop offset=".038" stop-color="#df6d5c"/><stop offset=".076" stop-color="#e9826b"/><stop offset=".0886" stop-color="#ec8970"/><stop offset=".1266" stop-color="#f2977c"/><stop offset=".1899" stop-color="#f7ab8f"/><stop offset=".2911" stop-color="#f7c2aa"/><stop offset=".3544" stop-color="#f5ccb8"/><stop offset=".4304" stop-color="#eed7ca"/><stop offset=".5316" stop-color="#e1e0df"/><stop offset=".6329" stop-color="#d0dcf0"/><stop offset=".7215" stop-color="#bfd4fa"/><stop offset=".7975" stop-color="#adc8ff"/><stop offset=".8608" stop-color="#9bbafe"/><stop offset=".8987" stop-color="#8faffc"/><stop offset=".924" stop-color="#85a4f8"/><stop offset=".962" stop-color="#7491ee"/><stop offset=".9873" stop-color="#637bdf"/><stop offset="1" stop-color="#4e5ec6"/></linearGradient><linearGradient id="g61" href="#Btr0"><stop offset="0" stop-color="#bb1d3c"/><stop offset=".0127" stop-color="#d1534d"/><stop offset=".0253" stop-color="#d96155"/><stop offset=".038" stop-color="#df6d5c"/><stop offset=".0633" stop-color="#e77d67"/><stop offset=".1013" stop-color="#ef8f75"/><stop offset=".1772" stop-color="#f6a88d"/><stop offset=".2658" stop-color="#f8bea5"/><stop offset=".3165" stop-color="#f6c7b1"/><stop offset=".3924" stop-color="#f1d2c2"/><stop offset=".443" stop-color="#ecd9cf"/><stop offset=".519" stop-color="#e2dfde"/><stop offset=".5949" stop-color="#d6deeb"/><stop offset=".7089" stop-color="#c1d5f9"/><stop offset=".8101" stop-color="#a9c5ff"/><stop offset=".8734" stop-color="#96b6fd"/><stop offset=".924" stop-color="#85a4f8"/><stop offset=".9494" stop-color="#7a98f2"/><stop offset=".9747" stop-color="#6c87e7"/><stop offset=".9873" stop-color="#637bdf"/><stop offset="1" stop-color="#4e5ec6"/></linearGradient><linearGradient id="g62" href="#Btr0"><stop offset="0" stop-color="#bb1d3c"/><stop offset=".0127" stop-color="#d1534d"/><stop offset=".0253" stop-color="#d96155"/><stop offset=".0506" stop-color="#e47662"/><stop offset=".1013" stop-color="#ef8f75"/><stop offset=".1646" stop-color="#f6a68a"/><stop offset=".2405" stop-color="#f8b99f"/><stop offset=".2911" stop-color="#f7c3ac"/><stop offset=".3544" stop-color="#f4cdba"/><stop offset=".4177" stop-color="#efd6c9"/><stop offset=".519" stop-color="#e2dfde"/><stop offset=".5316" stop-color="#dfe0e2"/><stop offset=".6203" stop-color="#d1ddef"/><stop offset=".6962" stop-color="#c3d6f8"/><stop offset=".7848" stop-color="#afcafe"/><stop offset=".8734" stop-color="#96b6fd"/><stop offset=".9367" stop-color="#7f9ef5"/><stop offset=".9747" stop-color="#6c87e7"/><stop offset=".9873" stop-color="#637bdf"/><stop offset="1" stop-color="#4e5ec6"/></linearGradient><linearGradient id="g63" href="#Btr0"><stop offset="0" stop-color="#bb1d3c"/><stop offset=".0127" stop-color="#d1534d"/><stop offset=".0253" stop-color="#d96155"/><stop offset=".0506" stop-color="#e47662"/><stop offset=".0886" stop-color="#ed8a71"/><stop offset=".1013" stop-color="#ef8f75"/><stop offset=".1772" stop-color="#f6aa8e"/><stop offset=".2658" stop-color="#f8bfa6"/><stop offset=".3797" stop-color="#f2d2c1"/><stop offset=".4304" stop-color="#ecd8cd"/><stop offset=".519" stop-color="#e1e0df"/><stop offset=".5949" stop-color="#d5deeb"/><stop offset=".7089" stop-color="#c0d5f9"/><stop offset=".7975" stop-color="#abc7ff"/><stop offset=".8608" stop-color="#99b8fe"/><stop offset=".8987" stop-color="#8dadfb"/><stop offset=".9367" stop-color="#7f9ef5"/><stop offset=".962" stop-color="#7390ed"/><stop offset=".9747" stop-color="#6c87e7"/><stop offset=".9873" stop-color="#637bdf"/><stop offset="1" stop-color="#4e5ec6"/></linearGradient><linearGradient id="g64" href="#Btr0"><stop offset="0" stop-color="#bb1d3c"/><stop offset=".0127" stop-color="#d1534d"/><stop offset=".0253" stop-color="#da6356"/><stop offset=".0506" stop-color="#e47662"/><stop offset=".0886" stop-color="#ed8a71"/><stop offset=".1139" stop-color="#f1957b"/><stop offset=".1899" stop-color="#f7ae92"/><stop offset=".2911" stop-color="#f7c4ad"/><stop offset=".3544" stop-color="#f3cfbd"/><stop offset=".4177" stop-color="#eed7ca"/><stop offset=".519" stop-color="#e0e0e1"/><stop offset=".6203" stop-color="#d0dcf0"/><stop offset=".7342" stop-color="#bad1fb"/><stop offset=".7848" stop-color="#aec9fe"/><stop offset=".8608" stop-color="#99b8fe"/><stop offset=".9114" stop-color="#89a8f9"/><stop offset=".962" stop-color="#7390ed"/><stop offset=".9747" stop-color="#6c87e7"/><stop offset=".9873" stop-color="#637bdf"/><stop offset="1" stop-color="#4e5ec6"/></linearGradient><linearGradient id="g65" href="#Btr0"><stop offset="0" stop-color="#bb1d3c"/><stop offset=".0127" stop-color="#d1534d"/><stop offset=".0253" stop-color="#da6356"/><stop offset=".038" stop-color="#e06f5d"/><stop offset=".0633" stop-color="#e87f68"/><stop offset=".1013" stop-color="#ef9177"/><stop offset=".1646" stop-color="#f6a78b"/><stop offset=".2278" stop-color="#f8b89d"/><stop offset=".2658" stop-color="#f8c0a7"/><stop offset=".3165" stop-color="#f6cab4"/><stop offset=".3797" stop-color="#f1d2c2"/><stop offset=".4177" stop-color="#edd8cc"/><stop offset=".5063" stop-color="#e2dfde"/><stop offset=".5823" stop-color="#d6deeb"/><stop offset=".6076" stop-color="#d1ddef"/><stop offset=".7089" stop-color="#bfd4fa"/><stop offset=".7975" stop-color="#aac6ff"/><stop offset=".8608" stop-color="#99b8fe"/><stop offset=".8987" stop-color="#8cacfb"/><stop offset=".9494" stop-color="#7997f1"/><stop offset=".9747" stop-color="#6b86e6"/><stop offset=".9873" stop-color="#627ade"/><stop offset="1" stop-color="#4e5ec6"/></linearGradient><linearGradient id="g66" href="#Btr0"><stop offset="0" stop-color="#bb1d3c"/><stop offset=".0127" stop-color="#d1534d"/><stop offset=".0253" stop-color="#da6356"/><stop offset=".0506" stop-color="#e57864"/><stop offset=".0886" stop-color="#ee8c73"/><stop offset=".1772" stop-color="#f7ab8f"/><stop offset=".2532" stop-color="#f8bea5"/><stop offset=".3671" stop-color="#f2d2c1"/><stop offset=".4557" stop-color="#e9dbd4"/><stop offset=".5063" stop-color="#e1e0df"/><stop offset=".6076" stop-color="#d1ddef"/><stop offset=".6835" stop-color="#c3d6f8"/><stop offset=".7848" stop-color="#adc8ff"/><stop offset=".8608" stop-color="#97b7fe"/><stop offset=".9114" stop-color="#87a7f9"/><stop offset=".9367" stop-color="#7e9cf4"/><stop offset=".962" stop-color="#728fec"/><stop offset=".9747" stop-color="#6b86e6"/><stop offset=".9873" stop-color="#627ade"/><stop offset="1" stop-color="#4e5ec6"/></linearGradient><linearGradient id="g67" href="#Btr0"><stop offset="0" stop-color="#bb1d3c"/><stop offset=".0127" stop-color="#d2554e"/><stop offset=".0253" stop-color="#da6356"/><stop offset=".0506" stop-color="#e57864"/><stop offset=".0886" stop-color="#ee8c73"/><stop offset=".1139" stop-color="#f2977c"/><stop offset=".1646" stop-color="#f6a88d"/><stop offset=".2658" stop-color="#f8c1a9"/><stop offset=".3165" stop-color="#f5cab6"/><stop offset=".3924" stop-color="#f0d5c6"/><stop offset=".4051" stop-color="#eed7ca"/><stop offset=".5063" stop-color="#e1e0df"/><stop offset=".6076" stop-color="#d0dcf0"/><stop offset=".7089" stop-color="#bdd3fa"/><stop offset=".7975" stop-color="#a9c5ff"/><stop offset=".8608" stop-color="#97b7fe"/><stop offset=".9114" stop-color="#87a7f9"/><stop offset=".9367" stop-color="#7e9cf4"/><stop offset=".962" stop-color="#728fec"/><stop offset=".9747" stop-color="#6b86e6"/><stop offset=".9873" stop-color="#627ade"/><stop offset="1" stop-color="#4e5ec6"/></linearGradient><linearGradient id="g68" href="#Btr0"><stop offset="0" stop-color="#bb1d3c"/><stop offset=".0127" stop-color="#d2554e"/><stop offset=".0253" stop-color="#da6356"/><stop offset=".0506" stop-color="#e57864"/><stop offset=".076" stop-color="#ec876f"/><stop offset=".1013" stop-color="#f09278"/><stop offset=".1772" stop-color="#f7ac91"/><stop offset=".2278" stop-color="#f8b99f"/><stop offset=".2911" stop-color="#f6c6b0"/><stop offset=".4051" stop-color="#eed7ca"/><stop offset=".4937" stop-color="#e2dfde"/><stop offset=".5949" stop-color="#d2ddee"/><stop offset=".6835" stop-color="#c2d6f8"/><stop offset=".7848" stop-color="#abc7ff"/><stop offset=".8481" stop-color="#9ab9fe"/><stop offset=".8987" stop-color="#8babfa"/><stop offset=".9367" stop-color="#7c9bf3"/><stop offset=".962" stop-color="#728fec"/><stop offset=".9747" stop-color="#6b86e6"/><stop offset=".9873" stop-color="#627ade"/><stop offset="1" stop-color="#4e5ec6"/></linearGradient><linearGradient id="g69" href="#Btr0"><stop offset="0" stop-color="#bb1d3c"/><stop offset=".0127" stop-color="#d2554e"/><stop offset=".0253" stop-color="#da6356"/><stop offset=".038" stop-color="#e06f5d"/><stop offset=".0633" stop-color="#e9806a"/><stop offset=".0886" stop-color="#ee8d74"/><stop offset=".1266" stop-color="#f39d82"/><stop offset=".1899" stop-color="#f7b095"/><stop offset=".2658" stop-color="#f7c2aa"/><stop offset=".3797" stop-color="#f0d4c5"/><stop offset=".3924" stop-color="#efd6c9"/><stop offset=".4937" stop-color="#e2dfde"/><stop offset=".557" stop-color="#d7deea"/><stop offset=".6582" stop-color="#c6d8f6"/><stop offset=".7468" stop-color="#b4cdfd"/><stop offset=".8228" stop-color="#a1bfff"/><stop offset=".8481" stop-color="#9ab9fe"/><stop offset=".9114" stop-color="#86a6f8"/><stop offset=".962" stop-color="#728fec"/><stop offset=".9747" stop-color="#6b86e6"/><stop offset=".9873" stop-color="#627ade"/><stop offset="1" stop-color="#4e5ec6"/></linearGradient><linearGradient id="Bbl70" gradientUnits="userSpaceOnUse" x1="51" x2="299.3" y1="0" y2="0"/><linearGradient id="g70" href="#Bbl70"><stop offset="0" stop-color="#f1f938"/><stop offset=".0071" stop-color="#f2f63b"/><stop offset=".0213" stop-color="#f4f23d"/><stop offset=".078" stop-color="#fbdb3a"/><stop offset=".1206" stop-color="#fdcc3d"/><stop offset=".1631" stop-color="#febd43"/><stop offset=".234" stop-color="#faa550"/><stop offset=".3333" stop-color="#ef8664"/><stop offset=".4443" stop-color="#dc687a"/><stop offset=".5632" stop-color="#c24a93"/><stop offset=".6679" stop-color="#a62ea8"/><stop offset=".7315" stop-color="#901eb0"/><stop offset=".7668" stop-color="#841bb1"/><stop offset=".8163" stop-color="#741ab0"/><stop offset=".8799" stop-color="#5d1caa"/><stop offset=".9505" stop-color="#411e9f"/><stop offset=".9859" stop-color="#301f97"/><stop offset="1" stop-color="#252093"/></linearGradient><linearGradient id="g71" href="#Bbl70"><stop offset="0" stop-color="#f1f938"/><stop offset=".0142" stop-color="#f3f33c"/><stop offset=".0993" stop-color="#fcd33b"/><stop offset=".156" stop-color="#febe42"/><stop offset=".2411" stop-color="#faa252"/><stop offset=".3333" stop-color="#ef8664"/><stop offset=".4441" stop-color="#dc687a"/><stop offset=".55" stop-color="#c64e8f"/><stop offset=".6174" stop-color="#b53c9e"/><stop offset=".6703" stop-color="#a62ea8"/><stop offset=".7335" stop-color="#901eb0"/><stop offset=".7826" stop-color="#801ab1"/><stop offset=".8317" stop-color="#701aaf"/><stop offset=".9299" stop-color="#4b1da3"/><stop offset=".9649" stop-color="#3c1e9c"/><stop offset=".993" stop-color="#2d1f96"/><stop offset="1" stop-color="#282094"/></linearGradient><linearGradient id="g72" href="#Bbl70"><stop offset="0" stop-color="#f2f83a"/><stop offset=".0213" stop-color="#f5f03d"/><stop offset=".0922" stop-color="#fcd53b"/><stop offset=".156" stop-color="#febe42"/><stop offset=".2482" stop-color="#f9a053"/><stop offset=".3333" stop-color="#ef8664"/><stop offset=".4438" stop-color="#dc687a"/><stop offset=".4438" stop-color="#dd6979"/><stop offset=".5559" stop-color="#c54d90"/><stop offset=".6241" stop-color="#b43b9e"/><stop offset=".6729" stop-color="#a62ea8"/><stop offset=".6729" stop-color="#a42da8"/><stop offset=".7077" stop-color="#9b25ad"/><stop offset=".7355" stop-color="#901eb0"/><stop offset=".7773" stop-color="#831ab1"/><stop offset=".826" stop-color="#721ab0"/><stop offset=".8817" stop-color="#5e1caa"/><stop offset=".9443" stop-color="#461ea1"/><stop offset=".9722" stop-color="#3a1e9c"/><stop offset="1" stop-color="#2b2095"/></linearGradient><linearGradient id="g73" href="#Bbl70"><stop offset="0" stop-color="#f2f83a"/><stop offset=".0142" stop-color="#f4f23d"/><stop offset=".0922" stop-color="#fcd53b"/><stop offset=".156" stop-color="#febe42"/><stop offset=".2482" stop-color="#f9a053"/><stop offset=".3333" stop-color="#ef8664"/><stop offset=".4436" stop-color="#dc687a"/><stop offset=".4436" stop-color="#dd6979"/><stop offset=".562" stop-color="#c44c91"/><stop offset=".6754" stop-color="#a72fa7"/><stop offset=".6754" stop-color="#a42da8"/><stop offset=".7376" stop-color="#901eb0"/><stop offset=".779" stop-color="#831ab1"/><stop offset=".8204" stop-color="#751ab0"/><stop offset=".8964" stop-color="#5a1ca9"/><stop offset=".9517" stop-color="#441ea0"/><stop offset=".9793" stop-color="#381f9b"/><stop offset="1" stop-color="#2b2095"/></linearGradient><linearGradient id="g74" href="#Bbl70"><stop offset="0" stop-color="#f2f83a"/><stop offset=".0142" stop-color="#f4f23d"/><stop offset=".0922" stop-color="#fcd53b"/><stop offset=".1206" stop-color="#fec93e"/><stop offset=".156" stop-color="#febe42"/><stop offset=".1844" stop-color="#fdb348"/><stop offset=".2553" stop-color="#f89d55"/><stop offset=".3333" stop-color="#ef8664"/><stop offset=".4434" stop-color="#dd6979"/><stop offset=".5482" stop-color="#c8508e"/><stop offset=".6181" stop-color="#b63d9d"/><stop offset=".678" stop-color="#a72fa7"/><stop offset=".678" stop-color="#a42da8"/><stop offset=".7397" stop-color="#901eb0"/><stop offset=".7808" stop-color="#831ab1"/><stop offset=".8219" stop-color="#751ab0"/><stop offset=".8904" stop-color="#5d1caa"/><stop offset=".9589" stop-color="#431ea0"/><stop offset=".9863" stop-color="#361f9a"/><stop offset="1" stop-color="#2d1f96"/></linearGradient><linearGradient id="g75" href="#Bbl70"><stop offset="0" stop-color="#f2f63b"/><stop offset=".0142" stop-color="#f4f23d"/><stop offset=".0851" stop-color="#fcd63a"/><stop offset=".1631" stop-color="#febb44"/><stop offset=".1915" stop-color="#fdb149"/><stop offset=".2553" stop-color="#f89d55"/><stop offset=".3333" stop-color="#ef8664"/><stop offset=".4431" stop-color="#dd6979"/><stop offset=".4431" stop-color="#dd6a78"/><stop offset=".5543" stop-color="#c74f8e"/><stop offset=".6807" stop-color="#a72fa7"/><stop offset=".6807" stop-color="#a42da8"/><stop offset=".735" stop-color="#9320af"/><stop offset=".7622" stop-color="#8a1cb1"/><stop offset=".8369" stop-color="#711aaf"/><stop offset=".8981" stop-color="#5b1ca9"/><stop offset=".9456" stop-color="#491ea2"/><stop offset=".9864" stop-color="#381f9b"/><stop offset="1" stop-color="#301f97"/></linearGradient><linearGradient id="g76" href="#Bbl70"><stop offset="0" stop-color="#f2f63b"/><stop offset=".0142" stop-color="#f5f03d"/><stop offset=".0851" stop-color="#fcd63a"/><stop offset=".1489" stop-color="#febf42"/><stop offset=".227" stop-color="#fba64f"/><stop offset=".2553" stop-color="#f89c56"/><stop offset=".3333" stop-color="#ef8664"/><stop offset=".4429" stop-color="#dd6979"/><stop offset=".4429" stop-color="#dd6a78"/><stop offset=".5861" stop-color="#c14894"/><stop offset=".6834" stop-color="#a72fa7"/><stop offset=".6834" stop-color="#a32ca9"/><stop offset=".7238" stop-color="#9722ae"/><stop offset=".7642" stop-color="#8a1cb1"/><stop offset=".8316" stop-color="#741ab0"/><stop offset=".9124" stop-color="#571ca8"/><stop offset=".9731" stop-color="#3f1e9e"/><stop offset="1" stop-color="#321f98"/></linearGradient><linearGradient id="g77" href="#Bbl70"><stop offset="0" stop-color="#f3f53c"/><stop offset=".0709" stop-color="#fbdb3a"/><stop offset=".1206" stop-color="#fec93e"/><stop offset=".1702" stop-color="#fdb746"/><stop offset=".234" stop-color="#faa451"/><stop offset=".3333" stop-color="#ef8664"/><stop offset=".4426" stop-color="#dd6979"/><stop offset=".4426" stop-color="#dd6a78"/><stop offset=".5929" stop-color="#c04795"/><stop offset=".6861" stop-color="#a72fa7"/><stop offset=".6861" stop-color="#a32ca9"/><stop offset=".7462" stop-color="#901eb0"/><stop offset=".7796" stop-color="#861bb1"/><stop offset=".8264" stop-color="#771ab0"/><stop offset=".9199" stop-color="#551da7"/><stop offset=".9733" stop-color="#411e9f"/><stop offset="1" stop-color="#341f99"/></linearGradient><linearGradient id="g78" href="#Bbl70"><stop offset="0" stop-color="#f3f53c"/><stop offset=".078" stop-color="#fcd83a"/><stop offset=".1277" stop-color="#fec63f"/><stop offset=".1773" stop-color="#fdb447"/><stop offset=".2128" stop-color="#fbaa4d"/><stop offset=".3333" stop-color="#ef8664"/><stop offset=".4424" stop-color="#dd6979"/><stop offset=".4424" stop-color="#de6b78"/><stop offset=".5788" stop-color="#c34b92"/><stop offset=".6889" stop-color="#a830a6"/><stop offset=".6889" stop-color="#a32ca9"/><stop offset=".7485" stop-color="#901eb0"/><stop offset=".7816" stop-color="#861bb1"/><stop offset=".8213" stop-color="#791ab1"/><stop offset=".9073" stop-color="#5b1ca9"/><stop offset=".9603" stop-color="#481ea2"/><stop offset="1" stop-color="#361f9a"/></linearGradient><linearGradient id="g79" href="#Bbl70"><stop offset="0" stop-color="#f3f33c"/><stop offset=".0638" stop-color="#fbdc3a"/><stop offset=".1135" stop-color="#fdcb3d"/><stop offset=".1844" stop-color="#fdb249"/><stop offset=".2128" stop-color="#fbaa4d"/><stop offset=".2624" stop-color="#f79a57"/><stop offset=".3333" stop-color="#ef8664"/><stop offset=".4422" stop-color="#dd6a78"/><stop offset=".4422" stop-color="#de6b78"/><stop offset=".5856" stop-color="#c24a93"/><stop offset=".6918" stop-color="#a830a6"/><stop offset=".6918" stop-color="#a32ca9"/><stop offset=".7311" stop-color="#9722ae"/><stop offset=".7639" stop-color="#8c1db0"/><stop offset=".8361" stop-color="#751ab0"/><stop offset=".9016" stop-color="#5e1caa"/><stop offset=".9475" stop-color="#4e1da4"/><stop offset="1" stop-color="#381f9b"/></linearGradient><linearGradient id="g80" href="#Bbl70"><stop offset="0" stop-color="#f3f33c"/><stop offset=".0709" stop-color="#fbd93a"/><stop offset=".1206" stop-color="#fec83e"/><stop offset=".1631" stop-color="#fdb945"/><stop offset=".2199" stop-color="#fba74f"/><stop offset=".3333" stop-color="#ef8664"/><stop offset=".4419" stop-color="#dd6a78"/><stop offset=".4419" stop-color="#de6b78"/><stop offset=".571" stop-color="#c64e8f"/><stop offset=".6947" stop-color="#a830a6"/><stop offset=".6947" stop-color="#a32ca9"/><stop offset=".7532" stop-color="#901eb0"/><stop offset=".7986" stop-color="#821ab1"/><stop offset=".8311" stop-color="#781ab0"/><stop offset=".922" stop-color="#581ca8"/><stop offset="1" stop-color="#3a1e9c"/></linearGradient><linearGradient id="g81" href="#Bbl70"><stop offset="0" stop-color="#f4f23d"/><stop offset=".0638" stop-color="#fbdb3a"/><stop offset=".1277" stop-color="#fec53f"/><stop offset=".1702" stop-color="#fdb646"/><stop offset=".2199" stop-color="#fba74f"/><stop offset=".3333" stop-color="#ef8664"/><stop offset=".4417" stop-color="#dd6a78"/><stop offset=".4417" stop-color="#df6c77"/><stop offset=".5778" stop-color="#c54d90"/><stop offset=".6977" stop-color="#a830a6"/><stop offset=".6977" stop-color="#a22baa"/><stop offset=".7684" stop-color="#8c1db0"/><stop offset=".8328" stop-color="#781ab0"/><stop offset=".9164" stop-color="#5b1ca9"/><stop offset="1" stop-color="#3c1e9c"/></linearGradient><linearGradient id="g82" href="#Bbl70"><stop offset="0" stop-color="#f4f23d"/><stop offset=".0567" stop-color="#fbdc3a"/><stop offset=".1064" stop-color="#fdcc3d"/><stop offset=".1277" stop-color="#fec440"/><stop offset=".2057" stop-color="#fcab4c"/><stop offset=".2766" stop-color="#f69659"/><stop offset=".3333" stop-color="#ef8664"/><stop offset=".4414" stop-color="#dd6a78"/><stop offset=".4414" stop-color="#df6c77"/><stop offset=".5849" stop-color="#c44c91"/><stop offset=".7007" stop-color="#a830a6"/><stop offset=".7007" stop-color="#a22baa"/><stop offset=".7453" stop-color="#9421af"/><stop offset=".7708" stop-color="#8c1db0"/><stop offset=".8408" stop-color="#771ab0"/><stop offset=".9236" stop-color="#5a1ca9"/><stop offset=".9873" stop-color="#431ea0"/><stop offset="1" stop-color="#3c1e9c"/></linearGradient><linearGradient id="g83" href="#Bbl70"><stop offset="0" stop-color="#f4f23d"/><stop offset=".0567" stop-color="#fbdc3a"/><stop offset=".1135" stop-color="#fec93e"/><stop offset=".1348" stop-color="#fec141"/><stop offset=".2057" stop-color="#fcab4c"/><stop offset=".227" stop-color="#faa451"/><stop offset=".3333" stop-color="#ef8664"/><stop offset=".4412" stop-color="#dd6a78"/><stop offset=".4412" stop-color="#df6c77"/><stop offset=".5697" stop-color="#c8508e"/><stop offset=".7038" stop-color="#a931a6"/><stop offset=".7038" stop-color="#a22baa"/><stop offset=".7605" stop-color="#901eb0"/><stop offset=".8109" stop-color="#801ab1"/><stop offset=".9055" stop-color="#611bab"/><stop offset=".9685" stop-color="#4b1da3"/><stop offset="1" stop-color="#3d1e9d"/></linearGradient><linearGradient id="g84" href="#Bbl70"><stop offset="0" stop-color="#f5f03d"/><stop offset=".0638" stop-color="#fbd93a"/><stop offset=".1206" stop-color="#fec63f"/><stop offset=".1418" stop-color="#febe42"/><stop offset=".2128" stop-color="#fba94e"/><stop offset=".3333" stop-color="#ef8664"/><stop offset=".4409" stop-color="#de6b78"/><stop offset=".4409" stop-color="#df6c77"/><stop offset=".5768" stop-color="#c74f8e"/><stop offset=".707" stop-color="#a931a6"/><stop offset=".707" stop-color="#a22baa"/><stop offset=".7631" stop-color="#901eb0"/><stop offset=".8067" stop-color="#831ab1"/><stop offset=".8504" stop-color="#751ab0"/><stop offset=".9065" stop-color="#631bac"/><stop offset="1" stop-color="#3f1e9e"/></linearGradient><linearGradient id="g85" href="#Bbl70"><stop offset="0" stop-color="#f5f03d"/><stop offset=".0567" stop-color="#fbdb3a"/><stop offset=".1064" stop-color="#fdcb3d"/><stop offset=".1631" stop-color="#fdb746"/><stop offset=".2128" stop-color="#fba94e"/><stop offset=".3333" stop-color="#ef8664"/><stop offset=".4407" stop-color="#de6b78"/><stop offset=".4407" stop-color="#e06d76"/><stop offset=".584" stop-color="#c64e8f"/><stop offset=".7102" stop-color="#a931a6"/><stop offset=".7102" stop-color="#a22baa"/><stop offset=".7657" stop-color="#901eb0"/><stop offset=".8089" stop-color="#831ab1"/><stop offset=".9013" stop-color="#661bad"/><stop offset=".9692" stop-color="#4e1da4"/><stop offset="1" stop-color="#411e9f"/></linearGradient><linearGradient id="g86" href="#Bbl70"><stop offset="0" stop-color="#f5ef3c"/><stop offset=".0567" stop-color="#fbdb3a"/><stop offset=".1135" stop-color="#fec83e"/><stop offset=".1702" stop-color="#fdb447"/><stop offset=".2199" stop-color="#fba64f"/><stop offset=".3333" stop-color="#ef8664"/><stop offset=".4404" stop-color="#de6b78"/><stop offset=".4404" stop-color="#e06d76"/><stop offset=".5915" stop-color="#c54d90"/><stop offset=".7135" stop-color="#a931a6"/><stop offset=".7135" stop-color="#a12aaa"/><stop offset=".7684" stop-color="#901eb0"/><stop offset=".811" stop-color="#831ab1"/><stop offset=".8964" stop-color="#681bad"/><stop offset=".9817" stop-color="#4b1da3"/><stop offset="1" stop-color="#431ea0"/></linearGradient><linearGradient id="g87" href="#Bbl70"><stop offset="0" stop-color="#f5ef3c"/><stop offset=".0638" stop-color="#fcd83a"/><stop offset=".1206" stop-color="#fec53f"/><stop offset=".1773" stop-color="#fdb249"/><stop offset=".2199" stop-color="#fba64f"/><stop offset=".3333" stop-color="#ef8664"/><stop offset=".4402" stop-color="#de6b78"/><stop offset=".4402" stop-color="#e06d76"/><stop offset=".5756" stop-color="#c9518d"/><stop offset=".7169" stop-color="#aa32a5"/><stop offset=".7169" stop-color="#a12aaa"/><stop offset=".7711" stop-color="#901eb0"/><stop offset=".8193" stop-color="#821ab1"/><stop offset=".9036" stop-color="#671bad"/><stop offset="1" stop-color="#441ea0"/></linearGradient><linearGradient id="g88" href="#Bbl70"><stop offset="0" stop-color="#f6ed3c"/><stop offset=".0567" stop-color="#fbd93a"/><stop offset=".1064" stop-color="#fec93e"/><stop offset=".1631" stop-color="#fdb646"/><stop offset=".2057" stop-color="#fbaa4d"/><stop offset=".2411" stop-color="#f99f54"/><stop offset=".3333" stop-color="#ef8664"/><stop offset=".4399" stop-color="#df6c77"/><stop offset=".4399" stop-color="#e06e75"/><stop offset=".5831" stop-color="#c8508e"/><stop offset=".7203" stop-color="#aa32a5"/><stop offset=".7203" stop-color="#a12aaa"/><stop offset=".7739" stop-color="#901eb0"/><stop offset=".8215" stop-color="#821ab1"/><stop offset=".9167" stop-color="#641bac"/><stop offset="1" stop-color="#461ea1"/></linearGradient><linearGradient id="g89" href="#Bbl70"><stop offset="0" stop-color="#f6ed3c"/><stop offset=".0355" stop-color="#fadf3a"/><stop offset=".0567" stop-color="#fbd93a"/><stop offset=".0922" stop-color="#fdcc3d"/><stop offset=".1135" stop-color="#fec63f"/><stop offset=".1489" stop-color="#fdba44"/><stop offset=".227" stop-color="#faa451"/><stop offset=".3333" stop-color="#ef8664"/><stop offset=".4397" stop-color="#df6c77"/><stop offset=".4397" stop-color="#e06e75"/><stop offset=".5908" stop-color="#c74f8e"/><stop offset=".7238" stop-color="#aa32a5"/><stop offset=".7238" stop-color="#a12aaa"/><stop offset=".7767" stop-color="#901eb0"/><stop offset=".8296" stop-color="#801ab1"/><stop offset=".906" stop-color="#681bad"/><stop offset="1" stop-color="#481ea2"/></linearGradient><linearGradient id="g90" href="#Bbl70"><stop offset="0" stop-color="#f6eb3c"/><stop offset=".0638" stop-color="#fcd63a"/><stop offset=".0993" stop-color="#fec93e"/><stop offset=".1206" stop-color="#fec440"/><stop offset=".1915" stop-color="#fcad4c"/><stop offset=".2128" stop-color="#fba74f"/><stop offset=".3333" stop-color="#ef8664"/><stop offset=".4394" stop-color="#df6c77"/><stop offset=".4394" stop-color="#e06e75"/><stop offset=".5988" stop-color="#c64e8f"/><stop offset=".7274" stop-color="#aa32a5"/><stop offset=".7274" stop-color="#a029ab"/><stop offset=".7796" stop-color="#901eb0"/><stop offset=".8202" stop-color="#841bb1"/><stop offset=".9014" stop-color="#6b1aae"/><stop offset="1" stop-color="#491ea2"/></linearGradient><linearGradient id="g91" href="#Bbl70"><stop offset="0" stop-color="#f6eb3c"/><stop offset=".0567" stop-color="#fcd83a"/><stop offset=".1064" stop-color="#fec83e"/><stop offset=".1418" stop-color="#febb44"/><stop offset=".2199" stop-color="#faa550"/><stop offset=".3333" stop-color="#ef8664"/><stop offset=".4392" stop-color="#df6c77"/><stop offset=".4392" stop-color="#e16f75"/><stop offset=".5634" stop-color="#cd5689"/><stop offset=".7311" stop-color="#ab33a4"/><stop offset=".7311" stop-color="#a029ab"/><stop offset=".7883" stop-color="#8f1eb0"/><stop offset=".8227" stop-color="#841bb1"/><stop offset=".9142" stop-color="#681bad"/><stop offset="1" stop-color="#4b1da3"/></linearGradient><linearGradient id="g92" href="#Bbl70"><stop offset="0" stop-color="#f7ea3c"/><stop offset=".0496" stop-color="#fbd93a"/><stop offset=".1135" stop-color="#fec53f"/><stop offset=".1631" stop-color="#fdb447"/><stop offset=".2199" stop-color="#faa550"/><stop offset=".3333" stop-color="#ef8664"/><stop offset=".4389" stop-color="#df6c77"/><stop offset=".4389" stop-color="#e16f75"/><stop offset=".5712" stop-color="#cc5589"/><stop offset=".7349" stop-color="#ab33a4"/><stop offset=".7349" stop-color="#a029ab"/><stop offset=".7913" stop-color="#8f1eb0"/><stop offset=".8308" stop-color="#831ab1"/><stop offset=".9098" stop-color="#6b1aae"/><stop offset="1" stop-color="#4c1da4"/></linearGradient><linearGradient id="g93" href="#Bbl70"><stop offset="0" stop-color="#f7ea3c"/><stop offset=".0496" stop-color="#fcd83a"/><stop offset=".0709" stop-color="#fdd23b"/><stop offset=".156" stop-color="#fdb746"/><stop offset=".2199" stop-color="#faa451"/><stop offset=".2553" stop-color="#f79b56"/><stop offset=".3333" stop-color="#ef8664"/><stop offset=".4387" stop-color="#e06d76"/><stop offset=".4387" stop-color="#e16f75"/><stop offset=".5791" stop-color="#cc548a"/><stop offset=".7388" stop-color="#ab33a4"/><stop offset=".7388" stop-color="#a029ab"/><stop offset=".7943" stop-color="#8f1eb0"/><stop offset=".8388" stop-color="#821ab1"/><stop offset=".9277" stop-color="#671bad"/><stop offset="1" stop-color="#4e1da4"/></linearGradient><linearGradient id="g94" href="#Bbl70"><stop offset="0" stop-color="#f7e83c"/><stop offset=".0638" stop-color="#fcd33b"/><stop offset=".1489" stop-color="#fdb945"/><stop offset=".2411" stop-color="#f99f54"/><stop offset=".3333" stop-color="#ef8664"/><stop offset=".4384" stop-color="#e06d76"/><stop offset=".4384" stop-color="#e27074"/><stop offset=".5873" stop-color="#cb538b"/><stop offset=".6844" stop-color="#b93f9b"/><stop offset=".7427" stop-color="#ab33a4"/><stop offset=".7427" stop-color="#9e28ab"/><stop offset=".7975" stop-color="#8f1eb0"/><stop offset=".8467" stop-color="#801ab1"/><stop offset=".9179" stop-color="#6b1aae"/><stop offset="1" stop-color="#4f1da5"/></linearGradient><linearGradient id="g95" href="#Bbl70"><stop offset="0" stop-color="#f8e73b"/><stop offset=".0709" stop-color="#fdd03b"/><stop offset=".1631" stop-color="#fdb447"/><stop offset=".227" stop-color="#faa252"/><stop offset=".3333" stop-color="#ef8664"/><stop offset=".4382" stop-color="#e06d76"/><stop offset=".4382" stop-color="#e27074"/><stop offset=".5958" stop-color="#ca528c"/><stop offset=".6942" stop-color="#b73e9c"/><stop offset=".7468" stop-color="#ab33a4"/><stop offset=".7468" stop-color="#9e28ab"/><stop offset=".8006" stop-color="#8f1eb0"/><stop offset=".8384" stop-color="#841bb1"/><stop offset=".9084" stop-color="#701aaf"/><stop offset="1" stop-color="#521da6"/></linearGradient><linearGradient id="g96" href="#Bbl70"><stop offset="0" stop-color="#f8e73b"/><stop offset=".0638" stop-color="#fdd23b"/><stop offset=".156" stop-color="#fdb646"/><stop offset=".2482" stop-color="#f89c56"/><stop offset=".3333" stop-color="#ef8664"/><stop offset=".4379" stop-color="#e06d76"/><stop offset=".4379" stop-color="#e27074"/><stop offset=".6044" stop-color="#c9518d"/><stop offset=".7509" stop-color="#ad34a4"/><stop offset=".7509" stop-color="#9e28ab"/><stop offset=".8039" stop-color="#8f1eb0"/><stop offset=".841" stop-color="#841bb1"/><stop offset=".9258" stop-color="#6b1aae"/><stop offset="1" stop-color="#541da7"/></linearGradient><linearGradient id="g97" href="#Bbl70"><stop offset="0" stop-color="#f8e53b"/><stop offset=".0638" stop-color="#fdd23b"/><stop offset=".078" stop-color="#fdcc3d"/><stop offset=".156" stop-color="#fdb646"/><stop offset=".1844" stop-color="#fcad4c"/><stop offset=".2482" stop-color="#f89c56"/><stop offset=".3333" stop-color="#ef8664"/><stop offset=".4377" stop-color="#e06e75"/><stop offset=".4377" stop-color="#e27173"/><stop offset=".6133" stop-color="#c8508e"/><stop offset=".7552" stop-color="#ad34a4"/><stop offset=".7552" stop-color="#9e28ab"/><stop offset=".8072" stop-color="#8f1eb0"/><stop offset=".8489" stop-color="#831ab1"/><stop offset=".9219" stop-color="#6e1aaf"/><stop offset="1" stop-color="#551da7"/></linearGradient><linearGradient id="g98" href="#Bbl70"><stop offset="0" stop-color="#f8e53b"/><stop offset=".0709" stop-color="#fdcf3c"/><stop offset=".0993" stop-color="#fec53f"/><stop offset=".1489" stop-color="#fdb746"/><stop offset=".234" stop-color="#f9a053"/><stop offset=".3333" stop-color="#ef8664"/><stop offset=".4374" stop-color="#e06e75"/><stop offset=".4374" stop-color="#e27173"/><stop offset=".6224" stop-color="#c74f8e"/><stop offset=".7595" stop-color="#ad34a4"/><stop offset=".7595" stop-color="#9e28ab"/><stop offset=".8158" stop-color="#8e1db0"/><stop offset=".8516" stop-color="#841bb1"/><stop offset=".913" stop-color="#721ab0"/><stop offset="1" stop-color="#571ca8"/></linearGradient><linearGradient id="g99" href="#Bbl70"><stop offset="0" stop-color="#f9e43b"/><stop offset=".0638" stop-color="#fdd03b"/><stop offset=".1489" stop-color="#fdb746"/><stop offset=".1631" stop-color="#fdb249"/><stop offset=".2411" stop-color="#f89d55"/><stop offset=".3333" stop-color="#ef8664"/><stop offset=".4372" stop-color="#e06e75"/><stop offset=".4372" stop-color="#e27173"/><stop offset=".6319" stop-color="#c64e8f"/><stop offset=".764" stop-color="#ad34a4"/><stop offset=".764" stop-color="#9d27ac"/><stop offset=".8192" stop-color="#8e1db0"/><stop offset=".8544" stop-color="#841bb1"/><stop offset=".9297" stop-color="#6e1aaf"/><stop offset="1" stop-color="#581ca8"/></linearGradient><linearGradient id="g100" href="#Bbl70"><stop offset="0" stop-color="#f9e43b"/><stop offset=".0709" stop-color="#fdcd3c"/><stop offset=".156" stop-color="#fdb447"/><stop offset=".2411" stop-color="#f89d55"/><stop offset=".3333" stop-color="#ef8664"/><stop offset=".4369" stop-color="#e06e75"/><stop offset=".4369" stop-color="#e27173"/><stop offset=".6133" stop-color="#ca528c"/><stop offset=".7686" stop-color="#ae35a3"/><stop offset=".7686" stop-color="#9d27ac"/><stop offset=".8326" stop-color="#8b1cb0"/><stop offset=".8572" stop-color="#841bb1"/><stop offset=".9311" stop-color="#701aaf"/><stop offset="1" stop-color="#5a1ca9"/></linearGradient><linearGradient id="g101" href="#Bbl70"><stop offset="0" stop-color="#f9e23b"/><stop offset=".0638" stop-color="#fdcf3c"/><stop offset=".1489" stop-color="#fdb646"/><stop offset=".2411" stop-color="#f89d55"/><stop offset=".3333" stop-color="#ef8664"/><stop offset=".4367" stop-color="#e06e75"/><stop offset=".4367" stop-color="#e37372"/><stop offset=".6229" stop-color="#c9518d"/><stop offset=".7733" stop-color="#ae35a3"/><stop offset=".7733" stop-color="#9d27ac"/><stop offset=".8215" stop-color="#901eb0"/><stop offset=".8649" stop-color="#841bb1"/><stop offset=".9276" stop-color="#711aaf"/><stop offset="1" stop-color="#5b1ca9"/></linearGradient><linearGradient id="g102" href="#Bbl70"><stop offset="0" stop-color="#f9e23b"/><stop offset=".0567" stop-color="#fdd03b"/><stop offset=".1206" stop-color="#febd43"/><stop offset=".1489" stop-color="#fdb646"/><stop offset=".234" stop-color="#f99f54"/><stop offset=".3333" stop-color="#ef8664"/><stop offset=".4364" stop-color="#e16f75"/><stop offset=".4364" stop-color="#e37372"/><stop offset=".6327" stop-color="#c8508e"/><stop offset=".7781" stop-color="#ae35a3"/><stop offset=".7781" stop-color="#9d27ac"/><stop offset=".8253" stop-color="#901eb0"/><stop offset=".8678" stop-color="#841bb1"/><stop offset=".9292" stop-color="#721ab0"/><stop offset="1" stop-color="#5d1caa"/></linearGradient><linearGradient id="g103" href="#Bbl70"><stop offset="0" stop-color="#fae13a"/><stop offset=".0638" stop-color="#fdcd3c"/><stop offset=".156" stop-color="#fdb348"/><stop offset=".234" stop-color="#f99f54"/><stop offset=".3333" stop-color="#ef8664"/><stop offset=".4361" stop-color="#e16f75"/><stop offset=".4361" stop-color="#e37372"/><stop offset=".5395" stop-color="#d66180"/><stop offset=".6428" stop-color="#c74f8e"/><stop offset=".783" stop-color="#ae35a3"/><stop offset=".783" stop-color="#9c26ac"/><stop offset=".8338" stop-color="#8f1eb0"/><stop offset=".8707" stop-color="#841bb1"/><stop offset=".9308" stop-color="#741ab0"/><stop offset=".9954" stop-color="#601cab"/><stop offset="1" stop-color="#601cab"/></linearGradient><linearGradient id="g104" href="#Bbl70"><stop offset="0" stop-color="#fadf3a"/><stop offset=".0709" stop-color="#fdcb3d"/><stop offset=".1702" stop-color="#fcaf4a"/><stop offset=".2482" stop-color="#f79b56"/><stop offset=".3333" stop-color="#ef8664"/><stop offset=".4359" stop-color="#e16f75"/><stop offset=".4359" stop-color="#e47471"/><stop offset=".6008" stop-color="#ce5788"/><stop offset=".7881" stop-color="#af36a2"/><stop offset=".7881" stop-color="#9c26ac"/><stop offset=".8107" stop-color="#9622ae"/><stop offset=".8693" stop-color="#861bb1"/><stop offset=".9324" stop-color="#751ab0"/><stop offset="1" stop-color="#611bab"/></linearGradient><linearGradient id="g105" href="#Bbl70"><stop offset="0" stop-color="#fadf3a"/><stop offset=".0638" stop-color="#fdcc3d"/><stop offset=".1489" stop-color="#fdb447"/><stop offset=".1844" stop-color="#fbaa4d"/><stop offset=".2624" stop-color="#f69759"/><stop offset=".3333" stop-color="#ef8664"/><stop offset=".4356" stop-color="#e16f75"/><stop offset=".4356" stop-color="#e47471"/><stop offset=".6107" stop-color="#cd5689"/><stop offset=".7934" stop-color="#af36a2"/><stop offset=".7934" stop-color="#9c26ac"/><stop offset=".8198" stop-color="#9421af"/><stop offset=".8813" stop-color="#841bb1"/><stop offset=".9472" stop-color="#721ab0"/><stop offset="1" stop-color="#631bac"/></linearGradient><linearGradient id="g106" href="#Bbl70"><stop offset="0" stop-color="#fade3a"/><stop offset=".078" stop-color="#fec83e"/><stop offset=".156" stop-color="#fdb249"/><stop offset=".2411" stop-color="#f89c56"/><stop offset=".3333" stop-color="#ef8664"/><stop offset=".4354" stop-color="#e27074"/><stop offset=".4354" stop-color="#e47471"/><stop offset=".6209" stop-color="#cc5589"/><stop offset=".7988" stop-color="#af36a2"/><stop offset=".7988" stop-color="#9c26ac"/><stop offset=".8245" stop-color="#9421af"/><stop offset=".8844" stop-color="#841bb1"/><stop offset=".9529" stop-color="#721ab0"/><stop offset="1" stop-color="#641bac"/></linearGradient><linearGradient id="g107" href="#Bbl70"><stop offset="0" stop-color="#fade3a"/><stop offset=".0638" stop-color="#fdcb3d"/><stop offset=".1489" stop-color="#fdb348"/><stop offset=".2411" stop-color="#f89c56"/><stop offset=".3333" stop-color="#ef8664"/><stop offset=".4351" stop-color="#e27074"/><stop offset=".4351" stop-color="#e47571"/><stop offset=".6315" stop-color="#cc548a"/><stop offset=".8043" stop-color="#af36a2"/><stop offset=".8043" stop-color="#9b25ad"/><stop offset=".8792" stop-color="#871bb1"/><stop offset=".9334" stop-color="#791ab1"/><stop offset="1" stop-color="#661bad"/></linearGradient><linearGradient id="g108" href="#Bbl70"><stop offset="0" stop-color="#fbdc3a"/><stop offset=".0567" stop-color="#fdcc3d"/><stop offset=".1489" stop-color="#fdb348"/><stop offset=".2057" stop-color="#faa451"/><stop offset=".2553" stop-color="#f79958"/><stop offset=".3333" stop-color="#ef8664"/><stop offset=".4348" stop-color="#e27074"/><stop offset=".4348" stop-color="#e47571"/><stop offset=".6424" stop-color="#cb538b"/><stop offset=".81" stop-color="#b037a1"/><stop offset=".81" stop-color="#9b25ad"/><stop offset=".8585" stop-color="#8e1db0"/><stop offset=".8949" stop-color="#841bb1"/><stop offset="1" stop-color="#681bad"/></linearGradient><linearGradient id="g109" href="#Bbl70"><stop offset="0" stop-color="#fbdb3a"/><stop offset=".0638" stop-color="#fec93e"/><stop offset=".156" stop-color="#fdb149"/><stop offset=".234" stop-color="#f89d55"/><stop offset=".3333" stop-color="#ef8664"/><stop offset=".4346" stop-color="#e27074"/><stop offset=".4346" stop-color="#e47571"/><stop offset=".6536" stop-color="#ca528c"/><stop offset=".8159" stop-color="#b037a1"/><stop offset=".8159" stop-color="#9b25ad"/><stop offset=".8433" stop-color="#9320af"/><stop offset=".8942" stop-color="#861bb1"/><stop offset="1" stop-color="#6a1bae"/></linearGradient><linearGradient id="g110" href="#Bbl70"><stop offset="0" stop-color="#fbdb3a"/><stop offset=".0567" stop-color="#fdcb3d"/><stop offset=".1489" stop-color="#fdb249"/><stop offset=".2482" stop-color="#f79a57"/><stop offset=".3333" stop-color="#ef8664"/><stop offset=".4343" stop-color="#e27173"/><stop offset=".4343" stop-color="#e47571"/><stop offset=".6323" stop-color="#cd5689"/><stop offset=".8219" stop-color="#b037a1"/><stop offset=".8219" stop-color="#9b25ad"/><stop offset=".8485" stop-color="#9320af"/><stop offset=".8901" stop-color="#881bb1"/><stop offset="1" stop-color="#6b1aae"/></linearGradient><linearGradient id="g111" href="#Bbl70"><stop offset="0" stop-color="#fbd93a"/><stop offset=".0496" stop-color="#fdcc3d"/><stop offset=".0709" stop-color="#fec53f"/><stop offset=".1489" stop-color="#fdb249"/><stop offset=".1702" stop-color="#fcab4c"/><stop offset=".227" stop-color="#f99f54"/><stop offset=".3333" stop-color="#ef8664"/><stop offset=".4341" stop-color="#e27173"/><stop offset=".4341" stop-color="#e57670"/><stop offset=".6437" stop-color="#cc5589"/><stop offset=".8282" stop-color="#b037a1"/><stop offset=".8282" stop-color="#9924ad"/><stop offset=".9013" stop-color="#871bb1"/><stop offset="1" stop-color="#6d1aaf"/></linearGradient><linearGradient id="g112" href="#Bbl70"><stop offset="0" stop-color="#fcd83a"/><stop offset=".0567" stop-color="#fec93e"/><stop offset=".156" stop-color="#fcaf4a"/><stop offset=".2411" stop-color="#f79b56"/><stop offset=".3333" stop-color="#ef8664"/><stop offset=".4338" stop-color="#e27173"/><stop offset=".4338" stop-color="#e57670"/><stop offset=".6555" stop-color="#cc548a"/><stop offset=".8346" stop-color="#b138a1"/><stop offset=".8346" stop-color="#9924ad"/><stop offset=".9015" stop-color="#881bb1"/><stop offset="1" stop-color="#701aaf"/></linearGradient><linearGradient id="g113" href="#Bbl70"><stop offset="0" stop-color="#fcd83a"/><stop offset=".0638" stop-color="#fec63f"/><stop offset=".1489" stop-color="#fdb149"/><stop offset=".234" stop-color="#f89c56"/><stop offset=".3333" stop-color="#ef8664"/><stop offset=".4335" stop-color="#e27173"/><stop offset=".4335" stop-color="#e57670"/><stop offset=".6678" stop-color="#cb538b"/><stop offset=".8412" stop-color="#b138a1"/><stop offset=".8412" stop-color="#9924ad"/><stop offset=".875" stop-color="#901eb0"/><stop offset=".9122" stop-color="#871bb1"/><stop offset="1" stop-color="#711aaf"/></linearGradient><linearGradient id="g114" href="#Bbl70"><stop offset="0" stop-color="#fcd63a"/><stop offset=".0567" stop-color="#fec83e"/><stop offset=".1631" stop-color="#fcad4c"/><stop offset=".2553" stop-color="#f69759"/><stop offset=".3333" stop-color="#ef8664"/><stop offset=".4333" stop-color="#e37372"/><stop offset=".4333" stop-color="#e6776f"/><stop offset=".6804" stop-color="#ca528c"/><stop offset=".8481" stop-color="#b138a1"/><stop offset=".8481" stop-color="#9924ad"/><stop offset=".8707" stop-color="#9320af"/><stop offset=".9192" stop-color="#871bb1"/><stop offset="1" stop-color="#721ab0"/></linearGradient><linearGradient id="g115" href="#Bbl70"><stop offset="0" stop-color="#fcd53b"/><stop offset=".0638" stop-color="#fec53f"/><stop offset=".156" stop-color="#fcae4b"/><stop offset=".2553" stop-color="#f69759"/><stop offset=".3333" stop-color="#ef8664"/><stop offset=".433" stop-color="#e37372"/><stop offset=".433" stop-color="#e6776f"/><stop offset=".6935" stop-color="#c9518d"/><stop offset=".8552" stop-color="#b138a1"/><stop offset=".8552" stop-color="#9823ae"/><stop offset=".9199" stop-color="#881bb1"/><stop offset="1" stop-color="#751ab0"/></linearGradient><linearGradient id="g116" href="#Bbl70"><stop offset="0" stop-color="#fcd53b"/><stop offset=".078" stop-color="#fec141"/><stop offset=".1489" stop-color="#fcaf4a"/><stop offset=".2482" stop-color="#f79958"/><stop offset=".3333" stop-color="#ef8664"/><stop offset=".4328" stop-color="#e37372"/><stop offset=".4328" stop-color="#e6776f"/><stop offset=".6431" stop-color="#d05986"/><stop offset=".8625" stop-color="#b239a0"/><stop offset=".8625" stop-color="#9823ae"/><stop offset=".921" stop-color="#8a1cb1"/><stop offset="1" stop-color="#771ab0"/></linearGradient><linearGradient id="g117" href="#Bbl70"><stop offset="0" stop-color="#fcd33b"/><stop offset=".0638" stop-color="#fec440"/><stop offset=".0922" stop-color="#febb44"/><stop offset=".1631" stop-color="#fcab4c"/><stop offset=".2411" stop-color="#f79a57"/><stop offset=".3333" stop-color="#ef8664"/><stop offset=".4325" stop-color="#e37372"/><stop offset=".4325" stop-color="#e6776f"/><stop offset=".6559" stop-color="#cf5887"/><stop offset=".8701" stop-color="#b239a0"/><stop offset=".8701" stop-color="#9823ae"/><stop offset=".9281" stop-color="#8a1cb1"/><stop offset="1" stop-color="#781ab0"/></linearGradient><linearGradient id="g118" href="#Bbl70"><stop offset="0" stop-color="#fdd23b"/><stop offset=".0496" stop-color="#fec63f"/><stop offset=".078" stop-color="#febe42"/><stop offset=".156" stop-color="#fcad4c"/><stop offset=".2411" stop-color="#f79a57"/><stop offset=".3333" stop-color="#ef8664"/><stop offset=".4322" stop-color="#e47471"/><stop offset=".4322" stop-color="#e7786e"/><stop offset=".6693" stop-color="#ce5788"/><stop offset=".8779" stop-color="#b239a0"/><stop offset=".8779" stop-color="#9722ae"/><stop offset=".9403" stop-color="#881bb1"/><stop offset="1" stop-color="#7b1ab1"/></linearGradient><linearGradient id="g119" href="#Bbl70"><stop offset="0" stop-color="#fdd23b"/><stop offset=".0922" stop-color="#fdba44"/><stop offset=".1489" stop-color="#fcae4b"/><stop offset=".234" stop-color="#f79b56"/><stop offset=".3333" stop-color="#ef8664"/><stop offset=".432" stop-color="#e47471"/><stop offset=".432" stop-color="#e7786e"/><stop offset=".6832" stop-color="#cd5689"/><stop offset=".8861" stop-color="#b239a0"/><stop offset=".8861" stop-color="#9722ae"/><stop offset=".9418" stop-color="#8a1cb1"/><stop offset="1" stop-color="#7c1ab1"/></linearGradient><linearGradient id="g120" href="#Bbl70"><stop offset="0" stop-color="#fdd03b"/><stop offset=".0709" stop-color="#febf42"/><stop offset=".1064" stop-color="#fdb646"/><stop offset=".1631" stop-color="#fbaa4d"/><stop offset=".3333" stop-color="#ef8664"/><stop offset=".4317" stop-color="#e47471"/><stop offset=".4317" stop-color="#e7786e"/><stop offset=".6286" stop-color="#d45e82"/><stop offset=".8945" stop-color="#b33a9f"/><stop offset=".8945" stop-color="#9722ae"/><stop offset=".9439" stop-color="#8b1cb0"/><stop offset="1" stop-color="#7f1ab1"/></linearGradient><linearGradient id="g121" href="#Bbl70"><stop offset="0" stop-color="#fdcf3c"/><stop offset=".0496" stop-color="#fec440"/><stop offset=".1489" stop-color="#fcad4c"/><stop offset=".2553" stop-color="#f69659"/><stop offset=".3333" stop-color="#ef8664"/><stop offset=".4314" stop-color="#e47471"/><stop offset=".4314" stop-color="#e7796e"/><stop offset=".6723" stop-color="#d05986"/><stop offset=".9032" stop-color="#b33a9f"/><stop offset=".9032" stop-color="#9722ae"/><stop offset=".9403" stop-color="#8e1db0"/><stop offset="1" stop-color="#801ab1"/></linearGradient><linearGradient id="g122" href="#Bbl70"><stop offset="0" stop-color="#fdcd3c"/><stop offset=".0922" stop-color="#fdb945"/><stop offset=".1773" stop-color="#fba64f"/><stop offset=".3333" stop-color="#ef8664"/><stop offset=".4312" stop-color="#e47571"/><stop offset=".4312" stop-color="#e7796e"/><stop offset=".6871" stop-color="#cf5887"/><stop offset=".9123" stop-color="#b33a9f"/><stop offset=".9123" stop-color="#9622ae"/><stop offset=".9533" stop-color="#8c1db0"/><stop offset="1" stop-color="#831ab1"/></linearGradient><linearGradient id="g123" href="#Bbl70"><stop offset="0" stop-color="#fdcd3c"/><stop offset=".0496" stop-color="#fec141"/><stop offset=".1631" stop-color="#fba94e"/><stop offset=".2057" stop-color="#f99f54"/><stop offset=".3333" stop-color="#ef8664"/><stop offset=".4309" stop-color="#e47571"/><stop offset=".4309" stop-color="#e7796e"/><stop offset=".7024" stop-color="#ce5788"/><stop offset=".9217" stop-color="#b43b9e"/><stop offset=".9217" stop-color="#9622ae"/><stop offset="1" stop-color="#841bb1"/></linearGradient><linearGradient id="g124" href="#Bbl70"><stop offset="0" stop-color="#fdcc3d"/><stop offset=".1418" stop-color="#fcad4c"/><stop offset=".1915" stop-color="#f9a152"/><stop offset=".3333" stop-color="#ef8664"/><stop offset=".4306" stop-color="#e47571"/><stop offset=".4306" stop-color="#e7796e"/><stop offset=".7183" stop-color="#cd5689"/><stop offset=".9315" stop-color="#b43b9e"/><stop offset=".9315" stop-color="#9622ae"/><stop offset="1" stop-color="#871bb1"/></linearGradient><linearGradient id="g125" href="#Bbl70"><stop offset="0" stop-color="#fdcb3d"/><stop offset=".078" stop-color="#fdba44"/><stop offset=".1277" stop-color="#fcae4b"/><stop offset=".1702" stop-color="#fba64f"/><stop offset=".3333" stop-color="#ef8664"/><stop offset=".4303" stop-color="#e47571"/><stop offset=".4303" stop-color="#e87a6d"/><stop offset=".7349" stop-color="#cc5589"/><stop offset=".9416" stop-color="#b43b9e"/><stop offset=".9416" stop-color="#9622ae"/><stop offset="1" stop-color="#881bb1"/></linearGradient><linearGradient id="g126" href="#Bbl70"><stop offset="0" stop-color="#fec93e"/><stop offset=".1489" stop-color="#fbaa4d"/><stop offset=".2128" stop-color="#f89c56"/><stop offset=".3333" stop-color="#ef8664"/><stop offset=".4301" stop-color="#e57670"/><stop offset=".4301" stop-color="#e87a6d"/><stop offset=".7523" stop-color="#cc548a"/><stop offset=".9523" stop-color="#b43b9e"/><stop offset=".9523" stop-color="#9421af"/><stop offset="1" stop-color="#8b1cb0"/></linearGradient><linearGradient id="g127" href="#Bbl70"><stop offset="0" stop-color="#fec93e"/><stop offset=".0709" stop-color="#fdb945"/><stop offset=".1773" stop-color="#faa451"/><stop offset=".3333" stop-color="#ef8664"/><stop offset=".4298" stop-color="#e57670"/><stop offset=".4298" stop-color="#e87a6d"/><stop offset=".6909" stop-color="#d25c84"/><stop offset=".9633" stop-color="#b53c9e"/><stop offset=".9633" stop-color="#9421af"/><stop offset="1" stop-color="#8c1db0"/></linearGradient><linearGradient id="g128" href="#Bbl70"><stop offset="0" stop-color="#fec83e"/><stop offset=".0993" stop-color="#fdb249"/><stop offset=".1631" stop-color="#fba64f"/><stop offset=".3333" stop-color="#ef8664"/><stop offset=".4295" stop-color="#e57670"/><stop offset=".4295" stop-color="#e87a6d"/><stop offset=".708" stop-color="#d25b84"/><stop offset=".9748" stop-color="#b53c9e"/><stop offset=".9748" stop-color="#9421af"/><stop offset="1" stop-color="#8f1eb0"/></linearGradient><linearGradient id="g129" href="#Bbl70"><stop offset="0" stop-color="#fec63f"/><stop offset=".1277" stop-color="#fcad4c"/><stop offset=".2199" stop-color="#f79a57"/><stop offset=".3333" stop-color="#ef8664"/><stop offset=".4293" stop-color="#e6776f"/><stop offset=".4293" stop-color="#e87b6c"/><stop offset=".7259" stop-color="#d15a85"/><stop offset=".9869" stop-color="#b53c9e"/><stop offset=".9869" stop-color="#9320af"/><stop offset="1" stop-color="#901eb0"/></linearGradient><linearGradient id="g130" href="#Bbl70"><stop offset="0" stop-color="#fec53f"/><stop offset=".1702" stop-color="#faa451"/><stop offset=".3333" stop-color="#ef8664"/><stop offset=".429" stop-color="#e6776f"/><stop offset=".429" stop-color="#e87b6c"/><stop offset=".7446" stop-color="#d05986"/><stop offset=".9995" stop-color="#b53c9e"/><stop offset=".9995" stop-color="#9320af"/></linearGradient><linearGradient id="g131" href="#Bbl70"><stop offset="0" stop-color="#fec440"/><stop offset=".1277" stop-color="#fcab4c"/><stop offset=".3333" stop-color="#ef8664"/><stop offset=".4287" stop-color="#e6776f"/><stop offset=".4287" stop-color="#e87b6c"/><stop offset=".7447" stop-color="#d15a85"/><stop offset="1" stop-color="#b73e9c"/></linearGradient><linearGradient id="g132" href="#Bbl70"><stop offset="0" stop-color="#fec440"/><stop offset=".0142" stop-color="#febf42"/><stop offset=".1631" stop-color="#faa451"/><stop offset=".3333" stop-color="#ef8664"/><stop offset=".4284" stop-color="#e6776f"/><stop offset=".4284" stop-color="#e97c6b"/><stop offset=".7446" stop-color="#d25b84"/><stop offset="1" stop-color="#ba409a"/></linearGradient><linearGradient id="g133" href="#Bbl70"><stop offset="0" stop-color="#fec240"/><stop offset=".156" stop-color="#faa451"/><stop offset=".3333" stop-color="#ef8664"/><stop offset=".4282" stop-color="#e7786e"/><stop offset=".4282" stop-color="#e97c6b"/><stop offset=".7445" stop-color="#d25c84"/><stop offset="1" stop-color="#bb4199"/></linearGradient><linearGradient id="g134" href="#Bbl70"><stop offset="0" stop-color="#fec141"/><stop offset=".156" stop-color="#faa451"/><stop offset=".3333" stop-color="#ef8664"/><stop offset=".4279" stop-color="#e7786e"/><stop offset=".4279" stop-color="#e97c6b"/><stop offset=".7444" stop-color="#d35d83"/><stop offset="1" stop-color="#bd4398"/></linearGradient><linearGradient id="g135" href="#Bbl70"><stop offset="0" stop-color="#febf42"/><stop offset=".156" stop-color="#faa451"/><stop offset=".3333" stop-color="#ef8664"/><stop offset=".4276" stop-color="#e7786e"/><stop offset=".4276" stop-color="#e97c6b"/><stop offset=".7443" stop-color="#d45e82"/><stop offset="1" stop-color="#bf4696"/></linearGradient><linearGradient id="g136" href="#Bbl70"><stop offset="0" stop-color="#febe42"/><stop offset=".1489" stop-color="#faa451"/><stop offset=".3333" stop-color="#ef8664"/><stop offset=".4273" stop-color="#e7796e"/><stop offset=".4273" stop-color="#ea7d6b"/><stop offset=".7563" stop-color="#d45e82"/><stop offset="1" stop-color="#c04795"/></linearGradient><linearGradient id="g137" href="#Bbl70"><stop offset="0" stop-color="#febd43"/><stop offset=".156" stop-color="#faa252"/><stop offset=".3333" stop-color="#ef8664"/><stop offset=".4271" stop-color="#e7796e"/><stop offset=".4271" stop-color="#ea7d6b"/><stop offset=".7684" stop-color="#d45e82"/><stop offset="1" stop-color="#c14994"/></linearGradient><linearGradient id="g138" href="#Bbl70"><stop offset="0" stop-color="#febb44"/><stop offset=".1986" stop-color="#f79b56"/><stop offset=".3333" stop-color="#ef8664"/><stop offset=".4268" stop-color="#e7796e"/><stop offset=".4268" stop-color="#ea7d6b"/><stop offset=".7805" stop-color="#d45e82"/><stop offset="1" stop-color="#c34b92"/></linearGradient><linearGradient id="g139" href="#Bbl70"><stop offset="0" stop-color="#fdba44"/><stop offset=".156" stop-color="#f9a152"/><stop offset=".3333" stop-color="#ef8664"/><stop offset=".4265" stop-color="#e7796e"/><stop offset=".4265" stop-color="#ea7d6b"/><stop offset=".756" stop-color="#d66180"/><stop offset="1" stop-color="#c44c91"/></linearGradient><linearGradient id="g140" href="#Bbl70"><stop offset="0" stop-color="#fdb945"/><stop offset=".1844" stop-color="#f89c56"/><stop offset=".3333" stop-color="#ef8664"/><stop offset=".4262" stop-color="#e87a6d"/><stop offset=".4262" stop-color="#ea7e6a"/><stop offset=".7192" stop-color="#da657c"/><stop offset="1" stop-color="#c64e8f"/></linearGradient><linearGradient id="g141" href="#Bbl70"><stop offset="0" stop-color="#fdb746"/><stop offset=".156" stop-color="#f9a053"/><stop offset=".3333" stop-color="#ef8664"/><stop offset=".4259" stop-color="#e87a6d"/><stop offset=".4259" stop-color="#ea7e6a"/><stop offset=".6458" stop-color="#df6c77"/><stop offset="1" stop-color="#c8508e"/></linearGradient><linearGradient id="g142" href="#Bbl70"><stop offset="0" stop-color="#fdb646"/><stop offset=".1773" stop-color="#f89c56"/><stop offset=".3333" stop-color="#ef8664"/><stop offset=".4257" stop-color="#e87a6d"/><stop offset=".4257" stop-color="#ea7e6a"/><stop offset=".6823" stop-color="#dd6a78"/><stop offset="1" stop-color="#c9518d"/></linearGradient><linearGradient id="g143" href="#Bbl70"><stop offset="0" stop-color="#fdb447"/><stop offset=".156" stop-color="#f99f54"/><stop offset=".3333" stop-color="#ef8664"/><stop offset=".4254" stop-color="#e87b6c"/><stop offset=".4254" stop-color="#ea7e6a"/><stop offset=".7066" stop-color="#dd6979"/><stop offset="1" stop-color="#cb538b"/></linearGradient><linearGradient id="g144" href="#Bbl70"><stop offset="0" stop-color="#fdb348"/><stop offset=".1773" stop-color="#f79b56"/><stop offset=".3333" stop-color="#ef8664"/><stop offset=".4251" stop-color="#e87b6c"/><stop offset=".4251" stop-color="#eb7f69"/><stop offset=".6086" stop-color="#e27074"/><stop offset="1" stop-color="#cc5589"/></linearGradient><linearGradient id="g145" href="#Bbl70"><stop offset="0" stop-color="#fdb249"/><stop offset=".1631" stop-color="#f89c56"/><stop offset=".3333" stop-color="#ef8664"/><stop offset=".4248" stop-color="#e87b6c"/><stop offset=".4248" stop-color="#eb7f69"/><stop offset=".792" stop-color="#da657c"/><stop offset="1" stop-color="#cd5689"/></linearGradient><linearGradient id="g146" href="#Bbl70"><stop offset="0" stop-color="#fdb149"/><stop offset=".1489" stop-color="#f89d55"/><stop offset=".3333" stop-color="#ef8664"/><stop offset=".4245" stop-color="#e97c6b"/><stop offset=".4245" stop-color="#eb7f69"/><stop offset=".7184" stop-color="#de6b78"/><stop offset="1" stop-color="#cf5887"/></linearGradient><linearGradient id="g147" href="#Bbl70"><stop offset="0" stop-color="#fcaf4a"/><stop offset=".1631" stop-color="#f79b56"/><stop offset=".3333" stop-color="#ef8664"/><stop offset=".4242" stop-color="#e97c6b"/><stop offset=".4242" stop-color="#eb7f69"/><stop offset=".7182" stop-color="#df6c77"/><stop offset="1" stop-color="#d05986"/></linearGradient><linearGradient id="g148" href="#Bbl70"><stop offset="0" stop-color="#fcae4b"/><stop offset=".1773" stop-color="#f79958"/><stop offset=".3333" stop-color="#ef8664"/><stop offset=".424" stop-color="#e97c6b"/><stop offset=".424" stop-color="#ec8168"/><stop offset="1" stop-color="#d25b84"/></linearGradient><linearGradient id="g149" href="#Bbl70"><stop offset="0" stop-color="#fcad4c"/><stop offset=".1631" stop-color="#f79a57"/><stop offset=".3333" stop-color="#ef8664"/><stop offset=".4237" stop-color="#e97c6b"/><stop offset=".4237" stop-color="#ec8168"/><stop offset="1" stop-color="#d35d83"/></linearGradient><linearGradient id="g150" href="#Bbl70"><stop offset="0" stop-color="#fcab4c"/><stop offset=".156" stop-color="#f79a57"/><stop offset=".3333" stop-color="#ef8664"/><stop offset=".4234" stop-color="#ea7d6b"/><stop offset=".4234" stop-color="#ec8168"/><stop offset=".8037" stop-color="#dd6a78"/><stop offset="1" stop-color="#d45e82"/></linearGradient><linearGradient id="g151" href="#Bbl70"><stop offset="0" stop-color="#fbaa4d"/><stop offset=".1489" stop-color="#f79a57"/><stop offset=".3333" stop-color="#ef8664"/><stop offset=".4231" stop-color="#ea7d6b"/><stop offset=".4231" stop-color="#ec8168"/><stop offset="1" stop-color="#d66080"/></linearGradient><linearGradient id="g152" href="#Bbl70"><stop offset="0" stop-color="#fba94e"/><stop offset=".3333" stop-color="#ef8664"/><stop offset=".4228" stop-color="#ea7d6b"/><stop offset=".4228" stop-color="#ec8267"/><stop offset="1" stop-color="#d7627f"/></linearGradient><linearGradient id="g153" href="#Bbl70"><stop offset="0" stop-color="#fba74f"/><stop offset=".3333" stop-color="#ef8664"/><stop offset=".4225" stop-color="#ea7e6a"/><stop offset=".4225" stop-color="#ec8267"/><stop offset="1" stop-color="#d8637e"/></linearGradient><linearGradient id="g154" href="#Bbl70"><stop offset="0" stop-color="#faa550"/><stop offset=".3333" stop-color="#ef8664"/><stop offset=".4222" stop-color="#ea7e6a"/><stop offset=".4222" stop-color="#ec8267"/><stop offset="1" stop-color="#da657c"/></linearGradient><linearGradient id="g155" href="#Bbl70"><stop offset="0" stop-color="#faa451"/><stop offset=".3333" stop-color="#ef8664"/><stop offset=".4219" stop-color="#ea7e6a"/><stop offset=".422" stop-color="#ec8267"/><stop offset="1" stop-color="#db677b"/></linearGradient><linearGradient id="g156" href="#Bbl70"><stop offset="0" stop-color="#faa252"/><stop offset=".3333" stop-color="#ef8664"/><stop offset=".4217" stop-color="#eb7f69"/><stop offset=".4217" stop-color="#ec8267"/><stop offset="1" stop-color="#dc687a"/></linearGradient><linearGradient id="g157" href="#Bbl70"><stop offset="0" stop-color="#f9a152"/><stop offset=".3333" stop-color="#ef8664"/><stop offset=".4214" stop-color="#eb7f69"/><stop offset=".4214" stop-color="#ed8367"/><stop offset="1" stop-color="#dd6a78"/></linearGradient><linearGradient id="g158" href="#Bbl70"><stop offset="0" stop-color="#f9a053"/><stop offset=".3333" stop-color="#ef8664"/><stop offset=".4211" stop-color="#ec8168"/><stop offset=".4211" stop-color="#ed8367"/><stop offset="1" stop-color="#df6c77"/></linearGradient><linearGradient id="g159" href="#Bbl70"><stop offset="0" stop-color="#f89d55"/><stop offset=".3333" stop-color="#ef8664"/><stop offset=".4208" stop-color="#ec8168"/><stop offset=".4208" stop-color="#ed8367"/><stop offset="1" stop-color="#e06d76"/></linearGradient><linearGradient id="g160" href="#Bbl70"><stop offset="0" stop-color="#f89c56"/><stop offset=".3333" stop-color="#ef8664"/><stop offset=".4205" stop-color="#ec8168"/><stop offset=".4205" stop-color="#ed8367"/><stop offset="1" stop-color="#e16f75"/></linearGradient><linearGradient id="g161" href="#Bbl70"><stop offset="0" stop-color="#f79b56"/><stop offset=".3333" stop-color="#ef8664"/><stop offset=".4202" stop-color="#ec8267"/><stop offset=".4202" stop-color="#ed8466"/><stop offset="1" stop-color="#e27173"/></linearGradient><linearGradient id="g162" href="#Bbl70"><stop offset="0" stop-color="#f79958"/><stop offset=".3333" stop-color="#ef8664"/><stop offset=".4199" stop-color="#ec8267"/><stop offset=".4199" stop-color="#ed8466"/><stop offset="1" stop-color="#e37372"/></linearGradient><linearGradient id="g163" href="#Bbl70"><stop offset="0" stop-color="#f69759"/><stop offset=".3333" stop-color="#ef8664"/><stop offset=".4196" stop-color="#ec8267"/><stop offset=".4196" stop-color="#ed8466"/><stop offset="1" stop-color="#e47571"/></linearGradient><linearGradient id="g164" href="#Bbl70"><stop offset="0" stop-color="#f69659"/><stop offset=".3333" stop-color="#ef8664"/><stop offset=".4193" stop-color="#ed8367"/><stop offset=".4193" stop-color="#ed8466"/><stop offset="1" stop-color="#e6776f"/></linearGradient><linearGradient id="g165" href="#Bbl70"><stop offset="0" stop-color="#f5945b"/><stop offset=".3333" stop-color="#ef8664"/><stop offset=".419" stop-color="#ed8367"/><stop offset=".419" stop-color="#ee8565"/><stop offset="1" stop-color="#e7786e"/></linearGradient><linearGradient id="g166" href="#Bbl70"><stop offset="0" stop-color="#f4935c"/><stop offset=".3333" stop-color="#ef8664"/><stop offset=".4187" stop-color="#ed8367"/><stop offset=".4187" stop-color="#ee8565"/><stop offset="1" stop-color="#e87a6d"/></linearGradient><linearGradient id="g167" href="#Bbl70"><stop offset="0" stop-color="#f3905d"/><stop offset=".3333" stop-color="#ef8664"/><stop offset=".4184" stop-color="#ed8466"/><stop offset=".4184" stop-color="#ee8565"/><stop offset="1" stop-color="#e97c6b"/></linearGradient><linearGradient id="g168" href="#Bbl70"><stop offset="0" stop-color="#f38f5e"/><stop offset=".3333" stop-color="#ef8664"/><stop offset=".4181" stop-color="#ed8466"/><stop offset=".4181" stop-color="#ee8565"/><stop offset="1" stop-color="#ea7d6b"/></linearGradient><linearGradient id="g169" href="#Bbl70"><stop offset="0" stop-color="#f28d60"/><stop offset=".3333" stop-color="#ef8664"/><stop offset=".4178" stop-color="#ee8565"/><stop offset="1" stop-color="#eb7f69"/></linearGradient><linearGradient id="g170" href="#Bbl70"><stop offset="0" stop-color="#f18c60"/><stop offset=".3333" stop-color="#ef8664"/><stop offset=".4175" stop-color="#ee8565"/><stop offset=".4175" stop-color="#ef8664"/><stop offset="1" stop-color="#ec8168"/></linearGradient><linearGradient id="g171" href="#Bbl70"><stop offset="0" stop-color="#f08962"/><stop offset=".3333" stop-color="#ef8664"/><stop offset=".4172" stop-color="#ee8565"/><stop offset=".4172" stop-color="#ef8664"/><stop offset="1" stop-color="#ed8367"/></linearGradient><linearGradient id="g172" href="#Bbl70"><stop offset="0" stop-color="#f08863"/><stop offset=".3333" stop-color="#ef8664"/><stop offset=".4169" stop-color="#ef8664"/><stop offset="1" stop-color="#ee8565"/></linearGradient><linearGradient id="g173" href="#Bbl70"><stop offset="0" stop-color="#ef8664"/><stop offset=".3333" stop-color="#ef8664"/><stop offset=".4167" stop-color="#ef8664"/><stop offset="1" stop-color="#ef8664"/></linearGradient><linearGradient id="Bbr175" gradientUnits="userSpaceOnUse" x1="360.3" x2="608.7" y1="0" y2="0"/><linearGradient id="g174" href="#Bbr175"><stop offset="0" stop-color="#f1f938"/><stop offset=".0071" stop-color="#f2f63b"/><stop offset=".0213" stop-color="#f4f23d"/><stop offset=".078" stop-color="#fbdb3a"/><stop offset=".1206" stop-color="#fdcc3d"/><stop offset=".1631" stop-color="#febd43"/><stop offset=".234" stop-color="#faa550"/><stop offset=".3333" stop-color="#ef8664"/><stop offset=".4259" stop-color="#e06d76"/><stop offset=".5042" stop-color="#d05986"/><stop offset=".5753" stop-color="#c04795"/><stop offset=".6679" stop-color="#a62ea8"/><stop offset=".7315" stop-color="#901eb0"/><stop offset=".7668" stop-color="#841bb1"/><stop offset=".8163" stop-color="#741ab0"/><stop offset=".8799" stop-color="#5d1caa"/><stop offset=".9505" stop-color="#411e9f"/><stop offset=".9859" stop-color="#301f97"/><stop offset="1" stop-color="#252093"/></linearGradient><linearGradient id="g175" href="#Bbr175"><stop offset="0" stop-color="#f1f938"/><stop offset=".0142" stop-color="#f3f33c"/><stop offset=".0993" stop-color="#fcd33b"/><stop offset=".156" stop-color="#febe42"/><stop offset=".2411" stop-color="#faa252"/><stop offset=".3333" stop-color="#ef8664"/><stop offset=".4265" stop-color="#e06d76"/><stop offset=".5341" stop-color="#ca528c"/><stop offset=".613" stop-color="#b63d9d"/><stop offset=".6703" stop-color="#a62ea8"/><stop offset=".7335" stop-color="#901eb0"/><stop offset=".7826" stop-color="#801ab1"/><stop offset=".8317" stop-color="#701aaf"/><stop offset=".9299" stop-color="#4b1da3"/><stop offset=".9649" stop-color="#3c1e9c"/><stop offset=".993" stop-color="#2d1f96"/><stop offset="1" stop-color="#282094"/></linearGradient><linearGradient id="g176" href="#Bbr175"><stop offset="0" stop-color="#f2f83a"/><stop offset=".0213" stop-color="#f5f03d"/><stop offset=".0922" stop-color="#fcd53b"/><stop offset=".156" stop-color="#febe42"/><stop offset=".2482" stop-color="#f9a053"/><stop offset=".3333" stop-color="#ef8664"/><stop offset=".42" stop-color="#e16f75"/><stop offset=".5356" stop-color="#ca528c"/><stop offset=".6078" stop-color="#b93f9b"/><stop offset=".6729" stop-color="#a62ea8"/><stop offset=".6729" stop-color="#a42da8"/><stop offset=".7077" stop-color="#9b25ad"/><stop offset=".7355" stop-color="#901eb0"/><stop offset=".7773" stop-color="#831ab1"/><stop offset=".826" stop-color="#721ab0"/><stop offset=".8817" stop-color="#5e1caa"/><stop offset=".9443" stop-color="#461ea1"/><stop offset=".9722" stop-color="#3a1e9c"/><stop offset="1" stop-color="#2b2095"/></linearGradient><linearGradient id="g177" href="#Bbr175"><stop offset="0" stop-color="#f2f83a"/><stop offset=".0142" stop-color="#f4f23d"/><stop offset=".0922" stop-color="#fcd53b"/><stop offset=".156" stop-color="#febe42"/><stop offset=".2482" stop-color="#f9a053"/><stop offset=".3333" stop-color="#ef8664"/><stop offset=".4207" stop-color="#e16f75"/><stop offset=".4935" stop-color="#d35d83"/><stop offset=".6026" stop-color="#bb4199"/><stop offset=".6754" stop-color="#a72fa7"/><stop offset=".6754" stop-color="#a42da8"/><stop offset=".7376" stop-color="#901eb0"/><stop offset=".779" stop-color="#831ab1"/><stop offset=".8204" stop-color="#751ab0"/><stop offset=".8964" stop-color="#5a1ca9"/><stop offset=".9517" stop-color="#441ea0"/><stop offset=".9793" stop-color="#381f9b"/><stop offset="1" stop-color="#2b2095"/></linearGradient><linearGradient id="g178" href="#Bbr175"><stop offset="0" stop-color="#f2f83a"/><stop offset=".0142" stop-color="#f4f23d"/><stop offset=".0922" stop-color="#fcd53b"/><stop offset=".1206" stop-color="#fec93e"/><stop offset=".156" stop-color="#febe42"/><stop offset=".1844" stop-color="#fdb348"/><stop offset=".2553" stop-color="#f89d55"/><stop offset=".3333" stop-color="#ef8664"/><stop offset=".4213" stop-color="#e16f75"/><stop offset=".4947" stop-color="#d35d83"/><stop offset=".5973" stop-color="#bd4398"/><stop offset=".678" stop-color="#a72fa7"/><stop offset=".678" stop-color="#a42da8"/><stop offset=".7397" stop-color="#901eb0"/><stop offset=".7808" stop-color="#831ab1"/><stop offset=".8219" stop-color="#751ab0"/><stop offset=".8904" stop-color="#5d1caa"/><stop offset=".9589" stop-color="#431ea0"/><stop offset=".9863" stop-color="#361f9a"/><stop offset="1" stop-color="#2d1f96"/></linearGradient><linearGradient id="g179" href="#Bbr175"><stop offset="0" stop-color="#f2f63b"/><stop offset=".0142" stop-color="#f4f23d"/><stop offset=".0851" stop-color="#fcd63a"/><stop offset=".1631" stop-color="#febb44"/><stop offset=".1915" stop-color="#fdb149"/><stop offset=".2553" stop-color="#f89d55"/><stop offset=".3333" stop-color="#ef8664"/><stop offset=".422" stop-color="#e16f75"/><stop offset=".5255" stop-color="#cd5689"/><stop offset=".6289" stop-color="#b53c9e"/><stop offset=".6807" stop-color="#a72fa7"/><stop offset=".6807" stop-color="#a42da8"/><stop offset=".735" stop-color="#9320af"/><stop offset=".7622" stop-color="#8a1cb1"/><stop offset=".8369" stop-color="#711aaf"/><stop offset=".8981" stop-color="#5b1ca9"/><stop offset=".9456" stop-color="#491ea2"/><stop offset=".9864" stop-color="#381f9b"/><stop offset="1" stop-color="#301f97"/></linearGradient><linearGradient id="g180" href="#Bbr175"><stop offset="0" stop-color="#f2f63b"/><stop offset=".0142" stop-color="#f5f03d"/><stop offset=".0851" stop-color="#fcd63a"/><stop offset=".1489" stop-color="#febf42"/><stop offset=".227" stop-color="#fba64f"/><stop offset=".2553" stop-color="#f89c56"/><stop offset=".3333" stop-color="#ef8664"/><stop offset=".4153" stop-color="#e27173"/><stop offset=".5195" stop-color="#cf5887"/><stop offset=".594" stop-color="#bf4696"/><stop offset=".6834" stop-color="#a72fa7"/><stop offset=".6834" stop-color="#a32ca9"/><stop offset=".7238" stop-color="#9722ae"/><stop offset=".7642" stop-color="#8a1cb1"/><stop offset=".8316" stop-color="#741ab0"/><stop offset=".9124" stop-color="#571ca8"/><stop offset=".9731" stop-color="#3f1e9e"/><stop offset="1" stop-color="#321f98"/></linearGradient><linearGradient id="g181" href="#Bbr175"><stop offset="0" stop-color="#f3f53c"/><stop offset=".0709" stop-color="#fbdb3a"/><stop offset=".1206" stop-color="#fec93e"/><stop offset=".1702" stop-color="#fdb746"/><stop offset=".234" stop-color="#faa451"/><stop offset=".3333" stop-color="#ef8664"/><stop offset=".4159" stop-color="#e27173"/><stop offset=".521" stop-color="#cf5887"/><stop offset=".6261" stop-color="#b73e9c"/><stop offset=".6861" stop-color="#a72fa7"/><stop offset=".6861" stop-color="#a32ca9"/><stop offset=".7462" stop-color="#901eb0"/><stop offset=".7796" stop-color="#861bb1"/><stop offset=".8264" stop-color="#771ab0"/><stop offset=".9199" stop-color="#551da7"/><stop offset=".9733" stop-color="#411e9f"/><stop offset="1" stop-color="#341f99"/></linearGradient><linearGradient id="g182" href="#Bbr175"><stop offset="0" stop-color="#f3f53c"/><stop offset=".078" stop-color="#fcd83a"/><stop offset=".1277" stop-color="#fec63f"/><stop offset=".1773" stop-color="#fdb447"/><stop offset=".2128" stop-color="#fbaa4d"/><stop offset=".3333" stop-color="#ef8664"/><stop offset=".4166" stop-color="#e27173"/><stop offset=".5149" stop-color="#d15a85"/><stop offset=".583" stop-color="#c24a93"/><stop offset=".6889" stop-color="#a830a6"/><stop offset=".6889" stop-color="#a32ca9"/><stop offset=".7485" stop-color="#901eb0"/><stop offset=".7816" stop-color="#861bb1"/><stop offset=".8213" stop-color="#791ab1"/><stop offset=".9073" stop-color="#5b1ca9"/><stop offset=".9603" stop-color="#481ea2"/><stop offset="1" stop-color="#361f9a"/></linearGradient><linearGradient id="g183" href="#Bbr175"><stop offset="0" stop-color="#f3f33c"/><stop offset=".0638" stop-color="#fbdc3a"/><stop offset=".1135" stop-color="#fdcb3d"/><stop offset=".1844" stop-color="#fdb249"/><stop offset=".2128" stop-color="#fbaa4d"/><stop offset=".2624" stop-color="#f79a57"/><stop offset=".3333" stop-color="#ef8664"/><stop offset=".4172" stop-color="#e27173"/><stop offset=".5164" stop-color="#d15a85"/><stop offset=".6155" stop-color="#bc4299"/><stop offset=".6918" stop-color="#a830a6"/><stop offset=".6918" stop-color="#a32ca9"/><stop offset=".7311" stop-color="#9722ae"/><stop offset=".7639" stop-color="#8c1db0"/><stop offset=".8361" stop-color="#751ab0"/><stop offset=".9016" stop-color="#5e1caa"/><stop offset=".9475" stop-color="#4e1da4"/><stop offset="1" stop-color="#381f9b"/></linearGradient><linearGradient id="g184" href="#Bbr175"><stop offset="0" stop-color="#f3f33c"/><stop offset=".0709" stop-color="#fbd93a"/><stop offset=".1206" stop-color="#fec83e"/><stop offset=".1631" stop-color="#fdb945"/><stop offset=".2199" stop-color="#fba74f"/><stop offset=".3333" stop-color="#ef8664"/><stop offset=".4179" stop-color="#e27173"/><stop offset=".5179" stop-color="#d15a85"/><stop offset=".6101" stop-color="#be4497"/><stop offset=".6947" stop-color="#a830a6"/><stop offset=".6947" stop-color="#a32ca9"/><stop offset=".7532" stop-color="#901eb0"/><stop offset=".7986" stop-color="#821ab1"/><stop offset=".8311" stop-color="#781ab0"/><stop offset=".922" stop-color="#581ca8"/><stop offset="1" stop-color="#3a1e9c"/></linearGradient><linearGradient id="g185" href="#Bbr175"><stop offset="0" stop-color="#f4f23d"/><stop offset=".0638" stop-color="#fbdb3a"/><stop offset=".1277" stop-color="#fec53f"/><stop offset=".1702" stop-color="#fdb646"/><stop offset=".2199" stop-color="#fba74f"/><stop offset=".3333" stop-color="#ef8664"/><stop offset=".4109" stop-color="#e47471"/><stop offset=".5426" stop-color="#cc5589"/><stop offset=".6434" stop-color="#b63d9d"/><stop offset=".6977" stop-color="#a830a6"/><stop offset=".6977" stop-color="#a22baa"/><stop offset=".7684" stop-color="#8c1db0"/><stop offset=".8328" stop-color="#781ab0"/><stop offset=".9164" stop-color="#5b1ca9"/><stop offset="1" stop-color="#3c1e9c"/></linearGradient><linearGradient id="g186" href="#Bbr175"><stop offset="0" stop-color="#f4f23d"/><stop offset=".0567" stop-color="#fbdc3a"/><stop offset=".1064" stop-color="#fdcc3d"/><stop offset=".1277" stop-color="#fec440"/><stop offset=".2057" stop-color="#fcab4c"/><stop offset=".2766" stop-color="#f69659"/><stop offset=".3333" stop-color="#ef8664"/><stop offset=".4428" stop-color="#df6c77"/><stop offset=".5444" stop-color="#cc5589"/><stop offset=".6382" stop-color="#b93f9b"/><stop offset=".7007" stop-color="#a830a6"/><stop offset=".7007" stop-color="#a22baa"/><stop offset=".7453" stop-color="#9421af"/><stop offset=".7708" stop-color="#8c1db0"/><stop offset=".8408" stop-color="#771ab0"/><stop offset=".9236" stop-color="#5a1ca9"/><stop offset=".9873" stop-color="#431ea0"/><stop offset="1" stop-color="#3c1e9c"/></linearGradient><linearGradient id="g187" href="#Bbr175"><stop offset="0" stop-color="#f4f23d"/><stop offset=".0567" stop-color="#fbdc3a"/><stop offset=".1135" stop-color="#fec93e"/><stop offset=".1348" stop-color="#fec141"/><stop offset=".2057" stop-color="#fcab4c"/><stop offset=".227" stop-color="#faa451"/><stop offset=".3333" stop-color="#ef8664"/><stop offset=".4437" stop-color="#df6c77"/><stop offset=".5383" stop-color="#ce5788"/><stop offset=".6329" stop-color="#bb4199"/><stop offset=".7038" stop-color="#a931a6"/><stop offset=".7038" stop-color="#a22baa"/><stop offset=".7605" stop-color="#901eb0"/><stop offset=".8109" stop-color="#801ab1"/><stop offset=".9055" stop-color="#611bab"/><stop offset=".9685" stop-color="#4b1da3"/><stop offset="1" stop-color="#3d1e9d"/></linearGradient><linearGradient id="g188" href="#Bbr175"><stop offset="0" stop-color="#f5f03d"/><stop offset=".0638" stop-color="#fbd93a"/><stop offset=".1206" stop-color="#fec63f"/><stop offset=".1418" stop-color="#febe42"/><stop offset=".2128" stop-color="#fba94e"/><stop offset=".3333" stop-color="#ef8664"/><stop offset=".4446" stop-color="#df6c77"/><stop offset=".54" stop-color="#ce5788"/><stop offset=".6354" stop-color="#bb4199"/><stop offset=".707" stop-color="#a931a6"/><stop offset=".707" stop-color="#a22baa"/><stop offset=".7631" stop-color="#901eb0"/><stop offset=".8067" stop-color="#831ab1"/><stop offset=".8504" stop-color="#751ab0"/><stop offset=".9065" stop-color="#631bac"/><stop offset="1" stop-color="#3f1e9e"/></linearGradient><linearGradient id="g189" href="#Bbr175"><stop offset="0" stop-color="#f5f03d"/><stop offset=".0567" stop-color="#fbdb3a"/><stop offset=".1064" stop-color="#fdcb3d"/><stop offset=".1631" stop-color="#fdb746"/><stop offset=".2128" stop-color="#fba94e"/><stop offset=".3333" stop-color="#ef8664"/><stop offset=".4135" stop-color="#e47471"/><stop offset=".5338" stop-color="#d05986"/><stop offset=".63" stop-color="#bd4398"/><stop offset=".7102" stop-color="#a931a6"/><stop offset=".7102" stop-color="#a22baa"/><stop offset=".7657" stop-color="#901eb0"/><stop offset=".8089" stop-color="#831ab1"/><stop offset=".9013" stop-color="#661bad"/><stop offset=".9692" stop-color="#4e1da4"/><stop offset="1" stop-color="#411e9f"/></linearGradient><linearGradient id="g190" href="#Bbr175"><stop offset="0" stop-color="#f5ef3c"/><stop offset=".0567" stop-color="#fbdb3a"/><stop offset=".1135" stop-color="#fec83e"/><stop offset=".1702" stop-color="#fdb447"/><stop offset=".2199" stop-color="#fba64f"/><stop offset=".3333" stop-color="#ef8664"/><stop offset=".4385" stop-color="#e06e75"/><stop offset=".5356" stop-color="#d05986"/><stop offset=".6245" stop-color="#bf4696"/><stop offset=".7135" stop-color="#a931a6"/><stop offset=".7135" stop-color="#a12aaa"/><stop offset=".7684" stop-color="#901eb0"/><stop offset=".811" stop-color="#831ab1"/><stop offset=".8964" stop-color="#681bad"/><stop offset=".9817" stop-color="#4b1da3"/><stop offset="1" stop-color="#431ea0"/></linearGradient><linearGradient id="g191" href="#Bbr175"><stop offset="0" stop-color="#f5ef3c"/><stop offset=".0638" stop-color="#fcd83a"/><stop offset=".1206" stop-color="#fec53f"/><stop offset=".1773" stop-color="#fdb249"/><stop offset=".2199" stop-color="#fba64f"/><stop offset=".3333" stop-color="#ef8664"/><stop offset=".4068" stop-color="#e57670"/><stop offset=".5292" stop-color="#d25b84"/><stop offset=".6271" stop-color="#bf4696"/><stop offset=".7169" stop-color="#aa32a5"/><stop offset=".7169" stop-color="#a12aaa"/><stop offset=".7711" stop-color="#901eb0"/><stop offset=".8193" stop-color="#821ab1"/><stop offset=".9036" stop-color="#671bad"/><stop offset="1" stop-color="#441ea0"/></linearGradient><linearGradient id="g192" href="#Bbr175"><stop offset="0" stop-color="#f6ed3c"/><stop offset=".0567" stop-color="#fbd93a"/><stop offset=".1064" stop-color="#fec93e"/><stop offset=".1631" stop-color="#fdb646"/><stop offset=".2057" stop-color="#fbaa4d"/><stop offset=".2411" stop-color="#f99f54"/><stop offset=".3333" stop-color="#ef8664"/><stop offset=".4074" stop-color="#e57670"/><stop offset=".5309" stop-color="#d25b84"/><stop offset=".6215" stop-color="#c14894"/><stop offset=".7203" stop-color="#aa32a5"/><stop offset=".7203" stop-color="#a12aaa"/><stop offset=".7739" stop-color="#901eb0"/><stop offset=".8215" stop-color="#821ab1"/><stop offset=".9167" stop-color="#641bac"/><stop offset="1" stop-color="#461ea1"/></linearGradient><linearGradient id="g193" href="#Bbr175"><stop offset="0" stop-color="#f6ed3c"/><stop offset=".0355" stop-color="#fadf3a"/><stop offset=".0567" stop-color="#fbd93a"/><stop offset=".0922" stop-color="#fdcc3d"/><stop offset=".1135" stop-color="#fec63f"/><stop offset=".1489" stop-color="#fdba44"/><stop offset=".227" stop-color="#faa451"/><stop offset=".3333" stop-color="#ef8664"/><stop offset=".4663" stop-color="#dd6979"/><stop offset=".5577" stop-color="#cd5689"/><stop offset=".6491" stop-color="#bc4299"/><stop offset=".7238" stop-color="#aa32a5"/><stop offset=".7238" stop-color="#a12aaa"/><stop offset=".7767" stop-color="#901eb0"/><stop offset=".8296" stop-color="#801ab1"/><stop offset=".906" stop-color="#681bad"/><stop offset="1" stop-color="#481ea2"/></linearGradient><linearGradient id="g194" href="#Bbr175"><stop offset="0" stop-color="#f6eb3c"/><stop offset=".0638" stop-color="#fcd63a"/><stop offset=".0993" stop-color="#fec93e"/><stop offset=".1206" stop-color="#fec440"/><stop offset=".1915" stop-color="#fcad4c"/><stop offset=".2128" stop-color="#fba74f"/><stop offset=".3333" stop-color="#ef8664"/><stop offset=".434" stop-color="#e27074"/><stop offset=".5262" stop-color="#d35d83"/><stop offset=".6184" stop-color="#c24a93"/><stop offset=".7274" stop-color="#aa32a5"/><stop offset=".7274" stop-color="#a029ab"/><stop offset=".7796" stop-color="#901eb0"/><stop offset=".8202" stop-color="#841bb1"/><stop offset=".9014" stop-color="#6b1aae"/><stop offset="1" stop-color="#491ea2"/></linearGradient><linearGradient id="g195" href="#Bbr175"><stop offset="0" stop-color="#f6eb3c"/><stop offset=".0567" stop-color="#fcd83a"/><stop offset=".1064" stop-color="#fec83e"/><stop offset=".1418" stop-color="#febb44"/><stop offset=".2199" stop-color="#faa550"/><stop offset=".3333" stop-color="#ef8664"/><stop offset=".4349" stop-color="#e27074"/><stop offset=".5534" stop-color="#cf5887"/><stop offset=".7311" stop-color="#ab33a4"/><stop offset=".7311" stop-color="#a029ab"/><stop offset=".7883" stop-color="#8f1eb0"/><stop offset=".8227" stop-color="#841bb1"/><stop offset=".9142" stop-color="#681bad"/><stop offset="1" stop-color="#4b1da3"/></linearGradient><linearGradient id="g196" href="#Bbr175"><stop offset="0" stop-color="#f7ea3c"/><stop offset=".0496" stop-color="#fbd93a"/><stop offset=".1135" stop-color="#fec53f"/><stop offset=".1631" stop-color="#fdb447"/><stop offset=".2199" stop-color="#faa550"/><stop offset=".3333" stop-color="#ef8664"/><stop offset=".5213" stop-color="#d55f81"/><stop offset=".6409" stop-color="#c04795"/><stop offset=".7349" stop-color="#ab33a4"/><stop offset=".7349" stop-color="#a029ab"/><stop offset=".7913" stop-color="#8f1eb0"/><stop offset=".8308" stop-color="#831ab1"/><stop offset=".9098" stop-color="#6b1aae"/><stop offset="1" stop-color="#4c1da4"/></linearGradient><linearGradient id="g197" href="#Bbr175"><stop offset="0" stop-color="#f7ea3c"/><stop offset=".0496" stop-color="#fcd83a"/><stop offset=".0709" stop-color="#fdd23b"/><stop offset=".156" stop-color="#fdb746"/><stop offset=".2199" stop-color="#faa451"/><stop offset=".2553" stop-color="#f79b56"/><stop offset=".3333" stop-color="#ef8664"/><stop offset=".4023" stop-color="#e7786e"/><stop offset=".549" stop-color="#d15a85"/><stop offset=".6698" stop-color="#bb4199"/><stop offset=".7388" stop-color="#ab33a4"/><stop offset=".7388" stop-color="#a029ab"/><stop offset=".7943" stop-color="#8f1eb0"/><stop offset=".8388" stop-color="#821ab1"/><stop offset=".9277" stop-color="#671bad"/><stop offset="1" stop-color="#4e1da4"/></linearGradient><linearGradient id="g198" href="#Bbr175"><stop offset="0" stop-color="#f7e83c"/><stop offset=".0638" stop-color="#fcd33b"/><stop offset=".1489" stop-color="#fdb945"/><stop offset=".2411" stop-color="#f99f54"/><stop offset=".3333" stop-color="#ef8664"/><stop offset=".464" stop-color="#de6b78"/><stop offset=".5772" stop-color="#cc5589"/><stop offset=".6643" stop-color="#bd4398"/><stop offset=".7427" stop-color="#ab33a4"/><stop offset=".7427" stop-color="#9e28ab"/><stop offset=".7975" stop-color="#8f1eb0"/><stop offset=".8467" stop-color="#801ab1"/><stop offset=".9179" stop-color="#6b1aae"/><stop offset="1" stop-color="#4f1da5"/></linearGradient><linearGradient id="g199" href="#Bbr175"><stop offset="0" stop-color="#f8e73b"/><stop offset=".0709" stop-color="#fdd03b"/><stop offset=".1631" stop-color="#fdb447"/><stop offset=".227" stop-color="#faa252"/><stop offset=".3333" stop-color="#ef8664"/><stop offset=".4301" stop-color="#e37372"/><stop offset=".5796" stop-color="#cc5589"/><stop offset=".694" stop-color="#b73e9c"/><stop offset=".7468" stop-color="#ab33a4"/><stop offset=".7468" stop-color="#9e28ab"/><stop offset=".8006" stop-color="#8f1eb0"/><stop offset=".8384" stop-color="#841bb1"/><stop offset=".9084" stop-color="#701aaf"/><stop offset="1" stop-color="#521da6"/></linearGradient><linearGradient id="g200" href="#Bbr175"><stop offset="0" stop-color="#f8e73b"/><stop offset=".0638" stop-color="#fdd23b"/><stop offset=".156" stop-color="#fdb646"/><stop offset=".2482" stop-color="#f89c56"/><stop offset=".3333" stop-color="#ef8664"/><stop offset=".4311" stop-color="#e37372"/><stop offset=".5732" stop-color="#ce5788"/><stop offset=".7509" stop-color="#ad34a4"/><stop offset=".7509" stop-color="#9e28ab"/><stop offset=".8039" stop-color="#8f1eb0"/><stop offset=".841" stop-color="#841bb1"/><stop offset=".9258" stop-color="#6b1aae"/><stop offset="1" stop-color="#541da7"/></linearGradient><linearGradient id="g201" href="#Bbr175"><stop offset="0" stop-color="#f8e53b"/><stop offset=".0638" stop-color="#fdd23b"/><stop offset=".078" stop-color="#fdcc3d"/><stop offset=".156" stop-color="#fdb646"/><stop offset=".1844" stop-color="#fcad4c"/><stop offset=".2482" stop-color="#f89c56"/><stop offset=".3333" stop-color="#ef8664"/><stop offset=".459" stop-color="#e06d76"/><stop offset=".5757" stop-color="#ce5788"/><stop offset=".7552" stop-color="#ad34a4"/><stop offset=".7552" stop-color="#9e28ab"/><stop offset=".8072" stop-color="#8f1eb0"/><stop offset=".8489" stop-color="#831ab1"/><stop offset=".9219" stop-color="#6e1aaf"/><stop offset="1" stop-color="#551da7"/></linearGradient><linearGradient id="g202" href="#Bbr175"><stop offset="0" stop-color="#f8e53b"/><stop offset=".0709" stop-color="#fdcf3c"/><stop offset=".0993" stop-color="#fec53f"/><stop offset=".1489" stop-color="#fdb746"/><stop offset=".234" stop-color="#f9a053"/><stop offset=".3333" stop-color="#ef8664"/><stop offset=".5147" stop-color="#d8637e"/><stop offset=".6598" stop-color="#c14894"/><stop offset=".7595" stop-color="#ad34a4"/><stop offset=".7595" stop-color="#9e28ab"/><stop offset=".8158" stop-color="#8e1db0"/><stop offset=".8516" stop-color="#841bb1"/><stop offset=".913" stop-color="#721ab0"/><stop offset="1" stop-color="#571ca8"/></linearGradient><linearGradient id="g203" href="#Bbr175"><stop offset="0" stop-color="#f9e43b"/><stop offset=".0638" stop-color="#fdd03b"/><stop offset=".1489" stop-color="#fdb746"/><stop offset=".1631" stop-color="#fdb249"/><stop offset=".2411" stop-color="#f89d55"/><stop offset=".3333" stop-color="#ef8664"/><stop offset=".4341" stop-color="#e37372"/><stop offset=".5716" stop-color="#d05986"/><stop offset=".654" stop-color="#c24a93"/><stop offset=".764" stop-color="#ad34a4"/><stop offset=".764" stop-color="#9d27ac"/><stop offset=".8192" stop-color="#8e1db0"/><stop offset=".8544" stop-color="#841bb1"/><stop offset=".9297" stop-color="#6e1aaf"/><stop offset="1" stop-color="#581ca8"/></linearGradient><linearGradient id="g204" href="#Bbr175"><stop offset="0" stop-color="#f9e43b"/><stop offset=".0709" stop-color="#fdcd3c"/><stop offset=".156" stop-color="#fdb447"/><stop offset=".2411" stop-color="#f89d55"/><stop offset=".3333" stop-color="#ef8664"/><stop offset=".5463" stop-color="#d45e82"/><stop offset=".6574" stop-color="#c24a93"/><stop offset=".7686" stop-color="#ae35a3"/><stop offset=".7686" stop-color="#9d27ac"/><stop offset=".8326" stop-color="#8b1cb0"/><stop offset=".8572" stop-color="#841bb1"/><stop offset=".9311" stop-color="#701aaf"/><stop offset="1" stop-color="#5a1ca9"/></linearGradient><linearGradient id="g205" href="#Bbr175"><stop offset="0" stop-color="#f9e23b"/><stop offset=".0638" stop-color="#fdcf3c"/><stop offset=".1489" stop-color="#fdb646"/><stop offset=".2411" stop-color="#f89d55"/><stop offset=".3333" stop-color="#ef8664"/><stop offset=".4269" stop-color="#e47571"/><stop offset=".5673" stop-color="#d25b84"/><stop offset=".6797" stop-color="#c04795"/><stop offset=".7733" stop-color="#ae35a3"/><stop offset=".7733" stop-color="#9d27ac"/><stop offset=".8215" stop-color="#901eb0"/><stop offset=".8649" stop-color="#841bb1"/><stop offset=".9276" stop-color="#711aaf"/><stop offset="1" stop-color="#5b1ca9"/></linearGradient><linearGradient id="g206" href="#Bbr175"><stop offset="0" stop-color="#f9e23b"/><stop offset=".0567" stop-color="#fdd03b"/><stop offset=".1206" stop-color="#febd43"/><stop offset=".1489" stop-color="#fdb646"/><stop offset=".234" stop-color="#f99f54"/><stop offset=".3333" stop-color="#ef8664"/><stop offset=".428" stop-color="#e47571"/><stop offset=".5699" stop-color="#d25b84"/><stop offset=".6835" stop-color="#c04795"/><stop offset=".7781" stop-color="#ae35a3"/><stop offset=".7781" stop-color="#9d27ac"/><stop offset=".8253" stop-color="#901eb0"/><stop offset=".8678" stop-color="#841bb1"/><stop offset=".9292" stop-color="#721ab0"/><stop offset="1" stop-color="#5d1caa"/></linearGradient><linearGradient id="g207" href="#Bbr175"><stop offset="0" stop-color="#fae13a"/><stop offset=".0638" stop-color="#fdcd3c"/><stop offset=".156" stop-color="#fdb348"/><stop offset=".234" stop-color="#f99f54"/><stop offset=".3333" stop-color="#ef8664"/><stop offset=".4577" stop-color="#e16f75"/><stop offset=".6204" stop-color="#cb538b"/><stop offset=".783" stop-color="#ae35a3"/><stop offset=".783" stop-color="#9c26ac"/><stop offset=".8338" stop-color="#8f1eb0"/><stop offset=".8707" stop-color="#841bb1"/><stop offset=".9308" stop-color="#741ab0"/><stop offset=".9954" stop-color="#601cab"/><stop offset="1" stop-color="#601cab"/></linearGradient><linearGradient id="g208" href="#Bbr175"><stop offset="0" stop-color="#fadf3a"/><stop offset=".0709" stop-color="#fdcb3d"/><stop offset=".1702" stop-color="#fcaf4a"/><stop offset=".2482" stop-color="#f79b56"/><stop offset=".3333" stop-color="#ef8664"/><stop offset=".4301" stop-color="#e47571"/><stop offset=".5656" stop-color="#d35d83"/><stop offset=".7881" stop-color="#af36a2"/><stop offset=".7881" stop-color="#9c26ac"/><stop offset=".8107" stop-color="#9622ae"/><stop offset=".8693" stop-color="#861bb1"/><stop offset=".9324" stop-color="#751ab0"/><stop offset="1" stop-color="#611bab"/></linearGradient><linearGradient id="g209" href="#Bbr175"><stop offset="0" stop-color="#fadf3a"/><stop offset=".0638" stop-color="#fdcc3d"/><stop offset=".1489" stop-color="#fdb447"/><stop offset=".1844" stop-color="#fbaa4d"/><stop offset=".2624" stop-color="#f69759"/><stop offset=".3333" stop-color="#ef8664"/><stop offset=".4312" stop-color="#e47571"/><stop offset=".5682" stop-color="#d35d83"/><stop offset=".6759" stop-color="#c34b92"/><stop offset=".7934" stop-color="#af36a2"/><stop offset=".7934" stop-color="#9c26ac"/><stop offset=".8198" stop-color="#9421af"/><stop offset=".8813" stop-color="#841bb1"/><stop offset=".9472" stop-color="#721ab0"/><stop offset="1" stop-color="#631bac"/></linearGradient><linearGradient id="g210" href="#Bbr175"><stop offset="0" stop-color="#fade3a"/><stop offset=".078" stop-color="#fec83e"/><stop offset=".156" stop-color="#fdb249"/><stop offset=".2411" stop-color="#f89c56"/><stop offset=".3333" stop-color="#ef8664"/><stop offset=".4819" stop-color="#df6c77"/><stop offset=".5908" stop-color="#d15a85"/><stop offset=".7294" stop-color="#bc4299"/><stop offset=".7988" stop-color="#af36a2"/><stop offset=".7988" stop-color="#9c26ac"/><stop offset=".8245" stop-color="#9421af"/><stop offset=".8844" stop-color="#841bb1"/><stop offset=".9529" stop-color="#721ab0"/><stop offset="1" stop-color="#641bac"/></linearGradient><linearGradient id="g211" href="#Bbr175"><stop offset="0" stop-color="#fade3a"/><stop offset=".0638" stop-color="#fdcb3d"/><stop offset=".1489" stop-color="#fdb348"/><stop offset=".2411" stop-color="#f89c56"/><stop offset=".3333" stop-color="#ef8664"/><stop offset=".5638" stop-color="#d55f81"/><stop offset=".7041" stop-color="#c14894"/><stop offset=".8043" stop-color="#af36a2"/><stop offset=".8043" stop-color="#9b25ad"/><stop offset=".8792" stop-color="#871bb1"/><stop offset=".9334" stop-color="#791ab1"/><stop offset="1" stop-color="#661bad"/></linearGradient><linearGradient id="g212" href="#Bbr175"><stop offset="0" stop-color="#fbdc3a"/><stop offset=".0567" stop-color="#fdcc3d"/><stop offset=".1489" stop-color="#fdb348"/><stop offset=".2057" stop-color="#faa451"/><stop offset=".2553" stop-color="#f79958"/><stop offset=".3333" stop-color="#ef8664"/><stop offset=".455" stop-color="#e27173"/><stop offset=".6173" stop-color="#ce5788"/><stop offset=".81" stop-color="#b037a1"/><stop offset=".81" stop-color="#9b25ad"/><stop offset=".8585" stop-color="#8e1db0"/><stop offset=".8949" stop-color="#841bb1"/><stop offset="1" stop-color="#681bad"/></linearGradient><linearGradient id="g213" href="#Bbr175"><stop offset="0" stop-color="#fbdb3a"/><stop offset=".0638" stop-color="#fec93e"/><stop offset=".156" stop-color="#fdb149"/><stop offset=".234" stop-color="#f89d55"/><stop offset=".3333" stop-color="#ef8664"/><stop offset=".4257" stop-color="#e6776f"/><stop offset=".59" stop-color="#d25c84"/><stop offset=".8159" stop-color="#b037a1"/><stop offset=".8159" stop-color="#9b25ad"/><stop offset=".8433" stop-color="#9320af"/><stop offset=".8942" stop-color="#861bb1"/><stop offset="1" stop-color="#6a1bae"/></linearGradient><linearGradient id="g214" href="#Bbr175"><stop offset="0" stop-color="#fbdb3a"/><stop offset=".0567" stop-color="#fdcb3d"/><stop offset=".1489" stop-color="#fdb249"/><stop offset=".2482" stop-color="#f79a57"/><stop offset=".3333" stop-color="#ef8664"/><stop offset=".562" stop-color="#d66180"/><stop offset=".6972" stop-color="#c44c91"/><stop offset=".8219" stop-color="#b037a1"/><stop offset=".8219" stop-color="#9b25ad"/><stop offset=".8485" stop-color="#9320af"/><stop offset=".8901" stop-color="#881bb1"/><stop offset="1" stop-color="#6b1aae"/></linearGradient><linearGradient id="g215" href="#Bbr175"><stop offset="0" stop-color="#fbd93a"/><stop offset=".0496" stop-color="#fdcc3d"/><stop offset=".0709" stop-color="#fec53f"/><stop offset=".1489" stop-color="#fdb249"/><stop offset=".1702" stop-color="#fcab4c"/><stop offset=".227" stop-color="#f99f54"/><stop offset=".3333" stop-color="#ef8664"/><stop offset=".4807" stop-color="#e06e75"/><stop offset=".6176" stop-color="#d05986"/><stop offset=".7545" stop-color="#bd4398"/><stop offset=".8282" stop-color="#b037a1"/><stop offset=".8282" stop-color="#9924ad"/><stop offset=".9013" stop-color="#871bb1"/><stop offset="1" stop-color="#6d1aaf"/></linearGradient><linearGradient id="g216" href="#Bbr175"><stop offset="0" stop-color="#fcd83a"/><stop offset=".0567" stop-color="#fec93e"/><stop offset=".156" stop-color="#fcaf4a"/><stop offset=".2411" stop-color="#f79b56"/><stop offset=".3333" stop-color="#ef8664"/><stop offset=".5893" stop-color="#d45e82"/><stop offset=".696" stop-color="#c64e8f"/><stop offset=".8346" stop-color="#b138a1"/><stop offset=".8346" stop-color="#9924ad"/><stop offset=".9015" stop-color="#881bb1"/><stop offset="1" stop-color="#701aaf"/></linearGradient><linearGradient id="g217" href="#Bbr175"><stop offset="0" stop-color="#fcd83a"/><stop offset=".0638" stop-color="#fec63f"/><stop offset=".1489" stop-color="#fdb149"/><stop offset=".234" stop-color="#f89c56"/><stop offset=".3333" stop-color="#ef8664"/><stop offset=".4522" stop-color="#e47471"/><stop offset=".6143" stop-color="#d25b84"/><stop offset=".8412" stop-color="#b138a1"/><stop offset=".8412" stop-color="#9924ad"/><stop offset=".875" stop-color="#901eb0"/><stop offset=".9122" stop-color="#871bb1"/><stop offset="1" stop-color="#711aaf"/></linearGradient><linearGradient id="g218" href="#Bbr175"><stop offset="0" stop-color="#fcd63a"/><stop offset=".0567" stop-color="#fec83e"/><stop offset=".1631" stop-color="#fcad4c"/><stop offset=".2553" stop-color="#f69759"/><stop offset=".3333" stop-color="#ef8664"/><stop offset=".4538" stop-color="#e47471"/><stop offset=".6181" stop-color="#d25b84"/><stop offset=".8481" stop-color="#b138a1"/><stop offset=".8481" stop-color="#9924ad"/><stop offset=".8707" stop-color="#9320af"/><stop offset=".9192" stop-color="#871bb1"/><stop offset="1" stop-color="#721ab0"/></linearGradient><linearGradient id="g219" href="#Bbr175"><stop offset="0" stop-color="#fcd53b"/><stop offset=".0638" stop-color="#fec53f"/><stop offset=".156" stop-color="#fcae4b"/><stop offset=".2553" stop-color="#f69759"/><stop offset=".3333" stop-color="#ef8664"/><stop offset=".5887" stop-color="#d66080"/><stop offset=".7775" stop-color="#be4497"/><stop offset=".8552" stop-color="#b138a1"/><stop offset=".8552" stop-color="#9823ae"/><stop offset=".9199" stop-color="#881bb1"/><stop offset="1" stop-color="#751ab0"/></linearGradient><linearGradient id="g220" href="#Bbr175"><stop offset="0" stop-color="#fcd53b"/><stop offset=".078" stop-color="#fec141"/><stop offset=".1489" stop-color="#fcaf4a"/><stop offset=".2482" stop-color="#f79958"/><stop offset=".3333" stop-color="#ef8664"/><stop offset=".4797" stop-color="#e27074"/><stop offset=".6148" stop-color="#d35d83"/><stop offset=".8625" stop-color="#b239a0"/><stop offset=".8625" stop-color="#9823ae"/><stop offset=".921" stop-color="#8a1cb1"/><stop offset="1" stop-color="#771ab0"/></linearGradient><linearGradient id="g221" href="#Bbr175"><stop offset="0" stop-color="#fcd33b"/><stop offset=".0638" stop-color="#fec440"/><stop offset=".0922" stop-color="#febb44"/><stop offset=".1631" stop-color="#fcab4c"/><stop offset=".2411" stop-color="#f79a57"/><stop offset=".3333" stop-color="#ef8664"/><stop offset=".4818" stop-color="#e27074"/><stop offset=".6417" stop-color="#d15a85"/><stop offset=".8701" stop-color="#b239a0"/><stop offset=".8701" stop-color="#9823ae"/><stop offset=".9281" stop-color="#8a1cb1"/><stop offset="1" stop-color="#781ab0"/></linearGradient><linearGradient id="g222" href="#Bbr175"><stop offset="0" stop-color="#fdd23b"/><stop offset=".0496" stop-color="#fec63f"/><stop offset=".078" stop-color="#febe42"/><stop offset=".156" stop-color="#fcad4c"/><stop offset=".2411" stop-color="#f79a57"/><stop offset=".3333" stop-color="#ef8664"/><stop offset=".5883" stop-color="#d7627f"/><stop offset=".7273" stop-color="#c74f8e"/><stop offset=".8779" stop-color="#b239a0"/><stop offset=".8779" stop-color="#9722ae"/><stop offset=".9403" stop-color="#881bb1"/><stop offset="1" stop-color="#7b1ab1"/></linearGradient><linearGradient id="g223" href="#Bbr175"><stop offset="0" stop-color="#fdd23b"/><stop offset=".0922" stop-color="#fdba44"/><stop offset=".1489" stop-color="#fcae4b"/><stop offset=".234" stop-color="#f79b56"/><stop offset=".3333" stop-color="#ef8664"/><stop offset=".6156" stop-color="#d55f81"/><stop offset=".7802" stop-color="#c14994"/><stop offset=".8861" stop-color="#b239a0"/><stop offset=".8861" stop-color="#9722ae"/><stop offset=".9418" stop-color="#8a1cb1"/><stop offset="1" stop-color="#7c1ab1"/></linearGradient><linearGradient id="g224" href="#Bbr175"><stop offset="0" stop-color="#fdd03b"/><stop offset=".0709" stop-color="#febf42"/><stop offset=".1064" stop-color="#fdb646"/><stop offset=".1631" stop-color="#fbaa4d"/><stop offset=".3333" stop-color="#ef8664"/><stop offset=".4527" stop-color="#e57670"/><stop offset=".6437" stop-color="#d25c84"/><stop offset=".8945" stop-color="#b33a9f"/><stop offset=".8945" stop-color="#9722ae"/><stop offset=".9439" stop-color="#8b1cb0"/><stop offset="1" stop-color="#7f1ab1"/></linearGradient><linearGradient id="g225" href="#Bbr175"><stop offset="0" stop-color="#fdcf3c"/><stop offset=".0496" stop-color="#fec440"/><stop offset=".1489" stop-color="#fcad4c"/><stop offset=".2553" stop-color="#f69659"/><stop offset=".3333" stop-color="#ef8664"/><stop offset=".4546" stop-color="#e57670"/><stop offset=".6728" stop-color="#d05986"/><stop offset=".9032" stop-color="#b33a9f"/><stop offset=".9032" stop-color="#9722ae"/><stop offset=".9403" stop-color="#8e1db0"/><stop offset="1" stop-color="#801ab1"/></linearGradient><linearGradient id="g226" href="#Bbr175"><stop offset="0" stop-color="#fdcd3c"/><stop offset=".0922" stop-color="#fdb945"/><stop offset=".1773" stop-color="#fba64f"/><stop offset=".3333" stop-color="#ef8664"/><stop offset=".592" stop-color="#d9647d"/><stop offset=".7275" stop-color="#cb538b"/><stop offset=".9123" stop-color="#b33a9f"/><stop offset=".9123" stop-color="#9622ae"/><stop offset=".9533" stop-color="#8c1db0"/><stop offset="1" stop-color="#831ab1"/></linearGradient><linearGradient id="g227" href="#Bbr175"><stop offset="0" stop-color="#fdcd3c"/><stop offset=".0496" stop-color="#fec141"/><stop offset=".1631" stop-color="#fba94e"/><stop offset=".2057" stop-color="#f99f54"/><stop offset=".3333" stop-color="#ef8664"/><stop offset=".5086" stop-color="#e16f75"/><stop offset=".6463" stop-color="#d45e82"/><stop offset=".9217" stop-color="#b43b9e"/><stop offset=".9217" stop-color="#9622ae"/><stop offset="1" stop-color="#841bb1"/></linearGradient><linearGradient id="g228" href="#Bbr175"><stop offset="0" stop-color="#fdcc3d"/><stop offset=".1418" stop-color="#fcad4c"/><stop offset=".1915" stop-color="#f9a152"/><stop offset=".3333" stop-color="#ef8664"/><stop offset=".5115" stop-color="#e16f75"/><stop offset=".6769" stop-color="#d25b84"/><stop offset=".9315" stop-color="#b43b9e"/><stop offset=".9315" stop-color="#9622ae"/><stop offset="1" stop-color="#871bb1"/></linearGradient><linearGradient id="g229" href="#Bbr175"><stop offset="0" stop-color="#fdcb3d"/><stop offset=".078" stop-color="#fdba44"/><stop offset=".1277" stop-color="#fcae4b"/><stop offset=".1702" stop-color="#fba64f"/><stop offset=".3333" stop-color="#ef8664"/><stop offset=".5145" stop-color="#e16f75"/><stop offset=".6828" stop-color="#d25b84"/><stop offset=".9416" stop-color="#b43b9e"/><stop offset=".9416" stop-color="#9622ae"/><stop offset="1" stop-color="#881bb1"/></linearGradient><linearGradient id="g230" href="#Bbr175"><stop offset="0" stop-color="#fec93e"/><stop offset=".1489" stop-color="#fbaa4d"/><stop offset=".2128" stop-color="#f89c56"/><stop offset=".3333" stop-color="#ef8664"/><stop offset=".623" stop-color="#d8637e"/><stop offset=".8469" stop-color="#c14994"/><stop offset=".9523" stop-color="#b43b9e"/><stop offset=".9523" stop-color="#9421af"/><stop offset="1" stop-color="#8b1cb0"/></linearGradient><linearGradient id="g231" href="#Bbr175"><stop offset="0" stop-color="#fec93e"/><stop offset=".0709" stop-color="#fdb945"/><stop offset=".1773" stop-color="#faa451"/><stop offset=".3333" stop-color="#ef8664"/><stop offset=".6818" stop-color="#d35d83"/><stop offset=".9633" stop-color="#b53c9e"/><stop offset=".9633" stop-color="#9421af"/><stop offset="1" stop-color="#8c1db0"/></linearGradient><linearGradient id="g232" href="#Bbr175"><stop offset="0" stop-color="#fec83e"/><stop offset=".0993" stop-color="#fdb249"/><stop offset=".1631" stop-color="#fba64f"/><stop offset=".3333" stop-color="#ef8664"/><stop offset=".4562" stop-color="#e7786e"/><stop offset=".6882" stop-color="#d35d83"/><stop offset=".9748" stop-color="#b53c9e"/><stop offset=".9748" stop-color="#9421af"/><stop offset="1" stop-color="#8f1eb0"/></linearGradient><linearGradient id="g233" href="#Bbr175"><stop offset="0" stop-color="#fec63f"/><stop offset=".1277" stop-color="#fcad4c"/><stop offset=".2199" stop-color="#f79a57"/><stop offset=".3333" stop-color="#ef8664"/><stop offset=".5141" stop-color="#e27173"/><stop offset=".6949" stop-color="#d35d83"/><stop offset=".9869" stop-color="#b53c9e"/><stop offset=".9869" stop-color="#9320af"/><stop offset="1" stop-color="#901eb0"/></linearGradient><linearGradient id="g234" href="#Bbr175"><stop offset="0" stop-color="#fec53f"/><stop offset=".1702" stop-color="#faa451"/><stop offset=".3333" stop-color="#ef8664"/><stop offset=".6877" stop-color="#d55f81"/><stop offset=".8577" stop-color="#c54d90"/><stop offset=".9995" stop-color="#b53c9e"/><stop offset=".9995" stop-color="#9320af"/></linearGradient><linearGradient id="g235" href="#Bbr175"><stop offset="0" stop-color="#fec440"/><stop offset=".1277" stop-color="#fcab4c"/><stop offset=".3333" stop-color="#ef8664"/><stop offset=".5035" stop-color="#e47471"/><stop offset=".7447" stop-color="#d15a85"/><stop offset="1" stop-color="#b73e9c"/></linearGradient><linearGradient id="g236" href="#Bbr175"><stop offset="0" stop-color="#fec440"/><stop offset=".0142" stop-color="#febf42"/><stop offset=".1631" stop-color="#faa451"/><stop offset=".3333" stop-color="#ef8664"/><stop offset=".6454" stop-color="#da657c"/><stop offset="1" stop-color="#ba409a"/></linearGradient><linearGradient id="g237" href="#Bbr175"><stop offset="0" stop-color="#fec240"/><stop offset=".156" stop-color="#faa451"/><stop offset=".3333" stop-color="#ef8664"/><stop offset=".6738" stop-color="#d8637e"/><stop offset=".8865" stop-color="#c64e8f"/><stop offset="1" stop-color="#bb4199"/></linearGradient><linearGradient id="g238" href="#Bbr175"><stop offset="0" stop-color="#fec141"/><stop offset=".156" stop-color="#faa451"/><stop offset=".3333" stop-color="#ef8664"/><stop offset=".6312" stop-color="#dc687a"/><stop offset="1" stop-color="#bd4398"/></linearGradient><linearGradient id="g239" href="#Bbr175"><stop offset="0" stop-color="#febf42"/><stop offset=".156" stop-color="#faa451"/><stop offset=".3333" stop-color="#ef8664"/><stop offset=".6596" stop-color="#da667c"/><stop offset="1" stop-color="#bf4696"/></linearGradient><linearGradient id="g240" href="#Bbr175"><stop offset="0" stop-color="#febe42"/><stop offset=".1489" stop-color="#faa451"/><stop offset=".3333" stop-color="#ef8664"/><stop offset=".7021" stop-color="#d8637e"/><stop offset="1" stop-color="#c04795"/></linearGradient><linearGradient id="g241" href="#Bbr175"><stop offset="0" stop-color="#febd43"/><stop offset=".156" stop-color="#faa252"/><stop offset=".3333" stop-color="#ef8664"/><stop offset=".6879" stop-color="#da657c"/><stop offset="1" stop-color="#c14994"/></linearGradient><linearGradient id="g242" href="#Bbr175"><stop offset="0" stop-color="#febb44"/><stop offset=".1986" stop-color="#f79b56"/><stop offset=".3333" stop-color="#ef8664"/><stop offset=".6879" stop-color="#da667c"/><stop offset="1" stop-color="#c34b92"/></linearGradient><linearGradient id="g243" href="#Bbr175"><stop offset="0" stop-color="#fdba44"/><stop offset=".156" stop-color="#f9a152"/><stop offset=".3333" stop-color="#ef8664"/><stop offset=".6738" stop-color="#dc687a"/><stop offset="1" stop-color="#c44c91"/></linearGradient><linearGradient id="g244" href="#Bbr175"><stop offset="0" stop-color="#fdb945"/><stop offset=".1844" stop-color="#f89c56"/><stop offset=".3333" stop-color="#ef8664"/><stop offset=".6596" stop-color="#dd6a78"/><stop offset="1" stop-color="#c64e8f"/></linearGradient><linearGradient id="g245" href="#Bbr175"><stop offset="0" stop-color="#fdb746"/><stop offset=".156" stop-color="#f9a053"/><stop offset=".3333" stop-color="#ef8664"/><stop offset=".6454" stop-color="#df6c77"/><stop offset="1" stop-color="#c8508e"/></linearGradient><linearGradient id="g246" href="#Bbr175"><stop offset="0" stop-color="#fdb646"/><stop offset=".1773" stop-color="#f89c56"/><stop offset=".3333" stop-color="#ef8664"/><stop offset=".6028" stop-color="#e27074"/><stop offset="1" stop-color="#c9518d"/></linearGradient><linearGradient id="g247" href="#Bbr175"><stop offset="0" stop-color="#fdb447"/><stop offset=".156" stop-color="#f99f54"/><stop offset=".3333" stop-color="#ef8664"/><stop offset=".7305" stop-color="#db677b"/><stop offset="1" stop-color="#cb538b"/></linearGradient><linearGradient id="g248" href="#Bbr175"><stop offset="0" stop-color="#fdb348"/><stop offset=".1773" stop-color="#f79b56"/><stop offset=".3333" stop-color="#ef8664"/><stop offset=".6596" stop-color="#e06d76"/><stop offset="1" stop-color="#cc5589"/></linearGradient><linearGradient id="g249" href="#Bbr175"><stop offset="0" stop-color="#fdb249"/><stop offset=".1631" stop-color="#f89c56"/><stop offset=".3333" stop-color="#ef8664"/><stop offset=".6312" stop-color="#e27074"/><stop offset="1" stop-color="#cd5689"/></linearGradient><linearGradient id="g250" href="#Bbr175"><stop offset="0" stop-color="#fdb149"/><stop offset=".1489" stop-color="#f89d55"/><stop offset=".3333" stop-color="#ef8664"/><stop offset=".6738" stop-color="#e06e75"/><stop offset="1" stop-color="#cf5887"/></linearGradient><linearGradient id="g251" href="#Bbr175"><stop offset="0" stop-color="#fcaf4a"/><stop offset=".1631" stop-color="#f79b56"/><stop offset=".3333" stop-color="#ef8664"/><stop offset=".7021" stop-color="#e06d76"/><stop offset="1" stop-color="#d05986"/></linearGradient><linearGradient id="g252" href="#Bbr175"><stop offset="0" stop-color="#fcae4b"/><stop offset=".1773" stop-color="#f79958"/><stop offset=".3333" stop-color="#ef8664"/><stop offset=".7163" stop-color="#e06d76"/><stop offset="1" stop-color="#d25b84"/></linearGradient><linearGradient id="g253" href="#Bbr175"><stop offset="0" stop-color="#fcad4c"/><stop offset=".1631" stop-color="#f79a57"/><stop offset=".3333" stop-color="#ef8664"/><stop offset=".6312" stop-color="#e47471"/><stop offset="1" stop-color="#d35d83"/></linearGradient><linearGradient id="g254" href="#Bbr175"><stop offset="0" stop-color="#fcab4c"/><stop offset=".156" stop-color="#f79a57"/><stop offset=".3333" stop-color="#ef8664"/><stop offset=".6454" stop-color="#e47471"/><stop offset="1" stop-color="#d45e82"/></linearGradient><linearGradient id="g255" href="#Bbr175"><stop offset="0" stop-color="#fbaa4d"/><stop offset=".1489" stop-color="#f79a57"/><stop offset=".3333" stop-color="#ef8664"/><stop offset=".6596" stop-color="#e47471"/><stop offset="1" stop-color="#d66080"/></linearGradient><linearGradient id="g256" href="#Bbr175"><stop offset="0" stop-color="#fba94e"/><stop offset=".3333" stop-color="#ef8664"/><stop offset="1" stop-color="#d7627f"/></linearGradient><linearGradient id="g257" href="#Bbr175"><stop offset="0" stop-color="#fba74f"/><stop offset=".3333" stop-color="#ef8664"/><stop offset=".6312" stop-color="#e6776f"/><stop offset="1" stop-color="#d8637e"/></linearGradient><linearGradient id="g258" href="#Bbr175"><stop offset="0" stop-color="#faa550"/><stop offset=".3333" stop-color="#ef8664"/><stop offset="1" stop-color="#da657c"/></linearGradient><linearGradient id="g259" href="#Bbr175"><stop offset="0" stop-color="#faa451"/><stop offset=".3333" stop-color="#ef8664"/><stop offset="1" stop-color="#db677b"/></linearGradient><linearGradient id="g260" href="#Bbr175"><stop offset="0" stop-color="#faa252"/><stop offset=".3333" stop-color="#ef8664"/><stop offset="1" stop-color="#dc687a"/></linearGradient><linearGradient id="g261" href="#Bbr175"><stop offset="0" stop-color="#f9a152"/><stop offset=".3333" stop-color="#ef8664"/><stop offset="1" stop-color="#dd6a78"/></linearGradient><linearGradient id="g262" href="#Bbr175"><stop offset="0" stop-color="#f9a053"/><stop offset=".3333" stop-color="#ef8664"/><stop offset="1" stop-color="#df6c77"/></linearGradient><linearGradient id="g263" href="#Bbr175"><stop offset="0" stop-color="#f89d55"/><stop offset=".3333" stop-color="#ef8664"/><stop offset="1" stop-color="#e06d76"/></linearGradient><linearGradient id="g264" href="#Bbr175"><stop offset="0" stop-color="#f89c56"/><stop offset=".3333" stop-color="#ef8664"/><stop offset="1" stop-color="#e16f75"/></linearGradient><linearGradient id="g265" href="#Bbr175"><stop offset="0" stop-color="#f79b56"/><stop offset=".3333" stop-color="#ef8664"/><stop offset="1" stop-color="#e27173"/></linearGradient><linearGradient id="g266" href="#Bbr175"><stop offset="0" stop-color="#f79958"/><stop offset=".3333" stop-color="#ef8664"/><stop offset="1" stop-color="#e37372"/></linearGradient><linearGradient id="g267" href="#Bbr175"><stop offset="0" stop-color="#f69759"/><stop offset=".3333" stop-color="#ef8664"/><stop offset="1" stop-color="#e47571"/></linearGradient><linearGradient id="g268" href="#Bbr175"><stop offset="0" stop-color="#f69659"/><stop offset=".3333" stop-color="#ef8664"/><stop offset="1" stop-color="#e6776f"/></linearGradient><linearGradient id="g269" href="#Bbr175"><stop offset="0" stop-color="#f5945b"/><stop offset=".3333" stop-color="#ef8664"/><stop offset="1" stop-color="#e7786e"/></linearGradient><linearGradient id="g270" href="#Bbr175"><stop offset="0" stop-color="#f4935c"/><stop offset=".3333" stop-color="#ef8664"/><stop offset="1" stop-color="#e87a6d"/></linearGradient><linearGradient id="g271" href="#Bbr175"><stop offset="0" stop-color="#f3905d"/><stop offset=".3333" stop-color="#ef8664"/><stop offset="1" stop-color="#e97c6b"/></linearGradient><linearGradient id="g272" href="#Bbr175"><stop offset="0" stop-color="#f38f5e"/><stop offset=".3333" stop-color="#ef8664"/><stop offset="1" stop-color="#ea7d6b"/></linearGradient><linearGradient id="g273" href="#Bbr175"><stop offset="0" stop-color="#f28d60"/><stop offset=".3333" stop-color="#ef8664"/><stop offset="1" stop-color="#eb7f69"/></linearGradient><linearGradient id="g274" href="#Bbr175"><stop offset="0" stop-color="#f18c60"/><stop offset=".3333" stop-color="#ef8664"/><stop offset="1" stop-color="#ec8168"/></linearGradient><linearGradient id="g275" href="#Bbr175"><stop offset="0" stop-color="#f08962"/><stop offset=".3333" stop-color="#ef8664"/><stop offset="1" stop-color="#ed8367"/></linearGradient><linearGradient id="g276" href="#Bbr175"><stop offset="0" stop-color="#f08863"/><stop offset=".3333" stop-color="#ef8664"/><stop offset="1" stop-color="#ee8565"/></linearGradient><linearGradient id="g277" href="#Bbr175"><stop offset="0" stop-color="#ef8664"/><stop offset=".3333" stop-color="#ef8664"/><stop offset="1" stop-color="#ef8664"/></linearGradient><linearGradient id="c278" x1="0" y1="0" x2="0" y2="1"><stop offset="0" stop-color="#bb1d3c"/><stop offset="0.03" stop-color="#c43642"/><stop offset="0.05" stop-color="#cb4748"/><stop offset="0.07" stop-color="#d45750"/><stop offset="0.1" stop-color="#da6356"/><stop offset="0.12" stop-color="#e06f5d"/><stop offset="0.15" stop-color="#e67b66"/><stop offset="0.17" stop-color="#eb856e"/><stop offset="0.2" stop-color="#ef9177"/><stop offset="0.23" stop-color="#f39a7f"/><stop offset="0.25" stop-color="#f5a387"/><stop offset="0.28" stop-color="#f7ac91"/><stop offset="0.3" stop-color="#f8b499"/><stop offset="0.33" stop-color="#f8bda3"/><stop offset="0.35" stop-color="#f7c3ac"/><stop offset="0.38" stop-color="#f6cab4"/><stop offset="0.4" stop-color="#f3d0be"/><stop offset="0.42" stop-color="#f0d5c6"/><stop offset="0.45" stop-color="#ebdad0"/><stop offset="0.47" stop-color="#e6ddd8"/><stop offset="0.5" stop-color="#e1e0df"/><stop offset="0.53" stop-color="#dadfe7"/><stop offset="0.55" stop-color="#d4deec"/><stop offset="0.57" stop-color="#cddbf2"/><stop offset="0.6" stop-color="#c6d8f6"/><stop offset="0.62" stop-color="#c0d5f9"/><stop offset="0.65" stop-color="#b7d0fc"/><stop offset="0.68" stop-color="#b0cbfe"/><stop offset="0.7" stop-color="#a8c4ff"/><stop offset="0.72" stop-color="#a0beff"/><stop offset="0.75" stop-color="#99b8fe"/><stop offset="0.78" stop-color="#90b0fc"/><stop offset="0.8" stop-color="#89a8f9"/><stop offset="0.82" stop-color="#809ff5"/><stop offset="0.85" stop-color="#7997f1"/><stop offset="0.88" stop-color="#728fec"/><stop offset="0.9" stop-color="#6984e5"/><stop offset="0.93" stop-color="#637bdf"/><stop offset="0.95" stop-color="#5b71d6"/><stop offset="0.97" stop-color="#5567cf"/><stop offset="1" stop-color="#4e5ec6"/></linearGradient><linearGradient id="c279" x1="0" y1="0" x2="0" y2="1"><stop offset="0" stop-color="#f1f938"/><stop offset="0.03" stop-color="#f5f03d"/><stop offset="0.05" stop-color="#f8e73b"/><stop offset="0.07" stop-color="#fbdc3a"/><stop offset="0.1" stop-color="#fcd33b"/><stop offset="0.12" stop-color="#fdcb3d"/><stop offset="0.15" stop-color="#fec141"/><stop offset="0.17" stop-color="#fdb945"/><stop offset="0.2" stop-color="#fcaf4a"/><stop offset="0.23" stop-color="#fba74f"/><stop offset="0.25" stop-color="#f9a053"/><stop offset="0.28" stop-color="#f69759"/><stop offset="0.3" stop-color="#f3905d"/><stop offset="0.33" stop-color="#f08863"/><stop offset="0.35" stop-color="#ec8267"/><stop offset="0.38" stop-color="#e87b6c"/><stop offset="0.4" stop-color="#e47471"/><stop offset="0.42" stop-color="#e06d76"/><stop offset="0.45" stop-color="#da667c"/><stop offset="0.47" stop-color="#d66080"/><stop offset="0.5" stop-color="#d15a85"/><stop offset="0.53" stop-color="#cb538b"/><stop offset="0.55" stop-color="#c54d90"/><stop offset="0.57" stop-color="#bf4696"/><stop offset="0.6" stop-color="#b93f9b"/><stop offset="0.62" stop-color="#b239a0"/><stop offset="0.65" stop-color="#aa32a5"/><stop offset="0.68" stop-color="#a32ca9"/><stop offset="0.7" stop-color="#9b25ad"/><stop offset="0.72" stop-color="#9320af"/><stop offset="0.75" stop-color="#8b1cb0"/><stop offset="0.78" stop-color="#821ab1"/><stop offset="0.8" stop-color="#791ab1"/><stop offset="0.82" stop-color="#701aaf"/><stop offset="0.85" stop-color="#671bad"/><stop offset="0.88" stop-color="#5e1caa"/><stop offset="0.9" stop-color="#541da7"/><stop offset="0.93" stop-color="#4b1da3"/><stop offset="0.95" stop-color="#3f1e9e"/><stop offset="0.97" stop-color="#341f99"/><stop offset="1" stop-color="#252093"/></linearGradient>
<clipPath id="cptl"><rect x="51" y="26.5" width="248.3" height="206.7"/></clipPath>
<clipPath id="cptr"><rect x="360.3" y="26.5" width="248.4" height="206.7"/></clipPath>
<clipPath id="cpbl"><rect x="51" y="332.9" width="248.3" height="206.7"/></clipPath>
<clipPath id="cpbr"><rect x="360.3" y="332.9" width="248.4" height="206.7"/></clipPath>
</defs>
<rect width="685" height="592" fill="#fff"/>
<rect x="51" y="26.5" width="248.3" height="206.7" fill="#bb1d3c"/><rect x="360.3" y="26.5" width="248.4" height="206.7" fill="#bb1d3c"/><rect x="443.1" y="26.5" width="41.4" height="4" fill="url(#g1)"/><rect x="443.1" y="29.5" width="41.4" height="4" fill="url(#g2)"/><rect x="443.1" y="32.5" width="41.4" height="4" fill="url(#g3)"/><rect x="443.1" y="35.5" width="41.4" height="4" fill="url(#g4)"/><rect x="443.1" y="38.5" width="41.4" height="4" fill="url(#g5)"/><rect x="443.1" y="41.5" width="41.4" height="4" fill="url(#g6)"/><rect x="443.1" y="44.5" width="41.4" height="4" fill="url(#g7)"/><rect x="443.1" y="47.5" width="41.4" height="4" fill="url(#g8)"/><rect x="443.1" y="50.5" width="41.4" height="4" fill="url(#g9)"/><rect x="443.1" y="53.5" width="41.4" height="4" fill="url(#g10)"/><rect x="443.1" y="56.5" width="41.4" height="4" fill="url(#g11)"/><rect x="443.1" y="59.5" width="41.4" height="4" fill="url(#g12)"/><rect x="443.1" y="62.5" width="41.4" height="4" fill="url(#g13)"/><rect x="443.1" y="65.5" width="41.4" height="4" fill="url(#g14)"/><rect x="443.1" y="68.5" width="41.4" height="4" fill="url(#g15)"/><rect x="443.1" y="71.5" width="41.4" height="4" fill="url(#g16)"/><rect x="443.1" y="74.5" width="41.4" height="4" fill="url(#g17)"/><rect x="443.1" y="77.5" width="41.4" height="4" fill="url(#g18)"/><rect x="443.1" y="80.5" width="41.4" height="4" fill="url(#g19)"/><rect x="443.1" y="83.5" width="41.4" height="4" fill="url(#g20)"/><rect x="443.1" y="86.5" width="41.4" height="4" fill="url(#g21)"/><rect x="443.1" y="89.5" width="41.4" height="4" fill="url(#g22)"/><rect x="443.1" y="92.5" width="41.4" height="4" fill="url(#g23)"/><rect x="443.1" y="95.5" width="41.4" height="4" fill="url(#g24)"/><rect x="443.1" y="98.5" width="41.4" height="4" fill="url(#g25)"/><rect x="443.1" y="101.5" width="41.4" height="4" fill="url(#g26)"/><rect x="443.1" y="104.5" width="41.4" height="4" fill="url(#g27)"/><rect x="443.1" y="107.5" width="41.4" height="4" fill="url(#g28)"/><rect x="443.1" y="110.5" width="41.4" height="4" fill="url(#g29)"/><rect x="443.1" y="113.5" width="41.4" height="4" fill="url(#g30)"/><rect x="443.1" y="116.5" width="41.4" height="4" fill="url(#g31)"/><rect x="443.1" y="119.5" width="41.4" height="4" fill="url(#g32)"/><rect x="443.1" y="122.5" width="41.4" height="4" fill="url(#g33)"/><rect x="443.1" y="125.5" width="41.4" height="4" fill="url(#g34)"/><rect x="443.1" y="128.5" width="41.4" height="4" fill="url(#g35)"/><rect x="443.1" y="131.5" width="41.4" height="4" fill="url(#g36)"/><rect x="443.1" y="134.5" width="41.4" height="4" fill="url(#g37)"/><rect x="443.1" y="137.5" width="41.4" height="4" fill="url(#g38)"/><rect x="443.1" y="140.5" width="41.4" height="4" fill="url(#g39)"/><rect x="443.1" y="143.5" width="41.4" height="4" fill="url(#g40)"/><rect x="443.1" y="146.5" width="41.4" height="4" fill="url(#g41)"/><rect x="443.1" y="149.5" width="41.4" height="4" fill="url(#g42)"/><rect x="443.1" y="152.5" width="41.4" height="4" fill="url(#g43)"/><rect x="443.1" y="155.5" width="41.4" height="4" fill="url(#g44)"/><rect x="443.1" y="158.5" width="41.4" height="4" fill="url(#g45)"/><rect x="443.1" y="161.5" width="41.4" height="4" fill="url(#g46)"/><rect x="443.1" y="164.5" width="41.4" height="4" fill="url(#g47)"/><rect x="443.1" y="167.5" width="41.4" height="4" fill="url(#g48)"/><rect x="443.1" y="170.5" width="41.4" height="4" fill="url(#g49)"/><rect x="443.1" y="173.5" width="41.4" height="4" fill="url(#g50)"/><rect x="443.1" y="176.5" width="41.4" height="4" fill="url(#g51)"/><rect x="443.1" y="179.5" width="41.4" height="4" fill="url(#g52)"/><rect x="443.1" y="182.5" width="41.4" height="4" fill="url(#g53)"/><rect x="443.1" y="185.5" width="41.4" height="4" fill="url(#g54)"/><rect x="443.1" y="188.5" width="41.4" height="4" fill="url(#g55)"/><rect x="443.1" y="191.5" width="41.4" height="4" fill="url(#g56)"/><rect x="443.1" y="194.5" width="41.4" height="4" fill="url(#g57)"/><rect x="443.1" y="197.5" width="41.4" height="4" fill="url(#g58)"/><rect x="443.1" y="200.5" width="41.4" height="4" fill="url(#g59)"/><rect x="443.1" y="203.5" width="41.4" height="4" fill="url(#g60)"/><rect x="443.1" y="206.5" width="41.4" height="4" fill="url(#g61)"/><rect x="443.1" y="209.5" width="41.4" height="4" fill="url(#g62)"/><rect x="443.1" y="212.5" width="41.4" height="4" fill="url(#g63)"/><rect x="443.1" y="215.5" width="41.4" height="4" fill="url(#g64)"/><rect x="443.1" y="218.5" width="41.4" height="4" fill="url(#g65)"/><rect x="443.1" y="221.5" width="41.4" height="4" fill="url(#g66)"/><rect x="443.1" y="224.5" width="41.4" height="4" fill="url(#g67)"/><rect x="443.1" y="227.5" width="41.4" height="4" fill="url(#g68)"/><rect x="443.1" y="230.5" width="41.4" height="2.7" fill="url(#g69)"/><rect x="51" y="332.9" width="248.3" height="3" fill="url(#g70)"/><rect x="51" y="334.9" width="248.3" height="3" fill="url(#g71)"/><rect x="51" y="336.9" width="248.3" height="3" fill="url(#g72)"/><rect x="51" y="338.9" width="248.3" height="3" fill="url(#g73)"/><rect x="51" y="340.9" width="248.3" height="3" fill="url(#g74)"/><rect x="51" y="342.9" width="248.3" height="3" fill="url(#g75)"/><rect x="51" y="344.9" width="248.3" height="3" fill="url(#g76)"/><rect x="51" y="346.9" width="248.3" height="3" fill="url(#g77)"/><rect x="51" y="348.9" width="248.3" height="3" fill="url(#g78)"/><rect x="51" y="350.9" width="248.3" height="3" fill="url(#g79)"/><rect x="51" y="352.9" width="248.3" height="3" fill="url(#g80)"/><rect x="51" y="354.9" width="248.3" height="3" fill="url(#g81)"/><rect x="51" y="356.9" width="248.3" height="3" fill="url(#g82)"/><rect x="51" y="358.9" width="248.3" height="3" fill="url(#g83)"/><rect x="51" y="360.9" width="248.3" height="3" fill="url(#g84)"/><rect x="51" y="362.9" width="248.3" height="3" fill="url(#g85)"/><rect x="51" y="364.9" width="248.3" height="3" fill="url(#g86)"/><rect x="51" y="366.9" width="248.3" height="3" fill="url(#g87)"/><rect x="51" y="368.9" width="248.3" height="3" fill="url(#g88)"/><rect x="51" y="370.9" width="248.3" height="3" fill="url(#g89)"/><rect x="51" y="372.9" width="248.3" height="3" fill="url(#g90)"/><rect x="51" y="374.9" width="248.3" height="3" fill="url(#g91)"/><rect x="51" y="376.9" width="248.3" height="3" fill="url(#g92)"/><rect x="51" y="378.9" width="248.3" height="3" fill="url(#g93)"/><rect x="51" y="380.9" width="248.3" height="3" fill="url(#g94)"/><rect x="51" y="382.9" width="248.3" height="3" fill="url(#g95)"/><rect x="51" y="384.9" width="248.3" height="3" fill="url(#g96)"/><rect x="51" y="386.9" width="248.3" height="3" fill="url(#g97)"/><rect x="51" y="388.9" width="248.3" height="3" fill="url(#g98)"/><rect x="51" y="390.9" width="248.3" height="3" fill="url(#g99)"/><rect x="51" y="392.9" width="248.3" height="3" fill="url(#g100)"/><rect x="51" y="394.9" width="248.3" height="3" fill="url(#g101)"/><rect x="51" y="396.9" width="248.3" height="3" fill="url(#g102)"/><rect x="51" y="398.9" width="248.3" height="3" fill="url(#g103)"/><rect x="51" y="400.9" width="248.3" height="3" fill="url(#g104)"/><rect x="51" y="402.9" width="248.3" height="3" fill="url(#g105)"/><rect x="51" y="404.9" width="248.3" height="3" fill="url(#g106)"/><rect x="51" y="406.9" width="248.3" height="3" fill="url(#g107)"/><rect x="51" y="408.9" width="248.3" height="3" fill="url(#g108)"/><rect x="51" y="410.9" width="248.3" height="3" fill="url(#g109)"/><rect x="51" y="412.9" width="248.3" height="3" fill="url(#g110)"/><rect x="51" y="414.9" width="248.3" height="3" fill="url(#g111)"/><rect x="51" y="416.9" width="248.3" height="3" fill="url(#g112)"/><rect x="51" y="418.9" width="248.3" height="3" fill="url(#g113)"/><rect x="51" y="420.9" width="248.3" height="3" fill="url(#g114)"/><rect x="51" y="422.9" width="248.3" height="3" fill="url(#g115)"/><rect x="51" y="424.9" width="248.3" height="3" fill="url(#g116)"/><rect x="51" y="426.9" width="248.3" height="3" fill="url(#g117)"/><rect x="51" y="428.9" width="248.3" height="3" fill="url(#g118)"/><rect x="51" y="430.9" width="248.3" height="3" fill="url(#g119)"/><rect x="51" y="432.9" width="248.3" height="3" fill="url(#g120)"/><rect x="51" y="434.9" width="248.3" height="3" fill="url(#g121)"/><rect x="51" y="436.9" width="248.3" height="3" fill="url(#g122)"/><rect x="51" y="438.9" width="248.3" height="3" fill="url(#g123)"/><rect x="51" y="440.9" width="248.3" height="3" fill="url(#g124)"/><rect x="51" y="442.9" width="248.3" height="3" fill="url(#g125)"/><rect x="51" y="444.9" width="248.3" height="3" fill="url(#g126)"/><rect x="51" y="446.9" width="248.3" height="3" fill="url(#g127)"/><rect x="51" y="448.9" width="248.3" height="3" fill="url(#g128)"/><rect x="51" y="450.9" width="248.3" height="3" fill="url(#g129)"/><rect x="51" y="452.9" width="248.3" height="3" fill="url(#g130)"/><rect x="51" y="454.9" width="248.3" height="3" fill="url(#g131)"/><rect x="51" y="456.9" width="248.3" height="3" fill="url(#g132)"/><rect x="51" y="458.9" width="248.3" height="3" fill="url(#g133)"/><rect x="51" y="460.9" width="248.3" height="3" fill="url(#g134)"/><rect x="51" y="462.9" width="248.3" height="3" fill="url(#g135)"/><rect x="51" y="464.9" width="248.3" height="3" fill="url(#g136)"/><rect x="51" y="466.9" width="248.3" height="3" fill="url(#g137)"/><rect x="51" y="468.9" width="248.3" height="3" fill="url(#g138)"/><rect x="51" y="470.9" width="248.3" height="3" fill="url(#g139)"/><rect x="51" y="472.9" width="248.3" height="3" fill="url(#g140)"/><rect x="51" y="474.9" width="248.3" height="3" fill="url(#g141)"/><rect x="51" y="476.9" width="248.3" height="3" fill="url(#g142)"/><rect x="51" y="478.9" width="248.3" height="3" fill="url(#g143)"/><rect x="51" y="480.9" width="248.3" height="3" fill="url(#g144)"/><rect x="51" y="482.9" width="248.3" height="3" fill="url(#g145)"/><rect x="51" y="484.9" width="248.3" height="3" fill="url(#g146)"/><rect x="51" y="486.9" width="248.3" height="3" fill="url(#g147)"/><rect x="51" y="488.9" width="248.3" height="3" fill="url(#g148)"/><rect x="51" y="490.9" width="248.3" height="3" fill="url(#g149)"/><rect x="51" y="492.9" width="248.3" height="3" fill="url(#g150)"/><rect x="51" y="494.9" width="248.3" height="3" fill="url(#g151)"/><rect x="51" y="496.9" width="248.3" height="3" fill="url(#g152)"/><rect x="51" y="498.9" width="248.3" height="3" fill="url(#g153)"/><rect x="51" y="500.9" width="248.3" height="3" fill="url(#g154)"/><rect x="51" y="502.9" width="248.3" height="3" fill="url(#g155)"/><rect x="51" y="504.9" width="248.3" height="3" fill="url(#g156)"/><rect x="51" y="506.9" width="248.3" height="3" fill="url(#g157)"/><rect x="51" y="508.9" width="248.3" height="3" fill="url(#g158)"/><rect x="51" y="510.9" width="248.3" height="3" fill="url(#g159)"/><rect x="51" y="512.9" width="248.3" height="3" fill="url(#g160)"/><rect x="51" y="514.9" width="248.3" height="3" fill="url(#g161)"/><rect x="51" y="516.9" width="248.3" height="3" fill="url(#g162)"/><rect x="51" y="518.9" width="248.3" height="3" fill="url(#g163)"/><rect x="51" y="520.9" width="248.3" height="3" fill="url(#g164)"/><rect x="51" y="522.9" width="248.3" height="3" fill="url(#g165)"/><rect x="51" y="524.9" width="248.3" height="3" fill="url(#g166)"/><rect x="51" y="526.9" width="248.3" height="3" fill="url(#g167)"/><rect x="51" y="528.9" width="248.3" height="3" fill="url(#g168)"/><rect x="51" y="530.9" width="248.3" height="3" fill="url(#g169)"/><rect x="51" y="532.9" width="248.3" height="3" fill="url(#g170)"/><rect x="51" y="534.9" width="248.3" height="3" fill="url(#g171)"/><rect x="51" y="536.9" width="248.3" height="3" fill="url(#g172)"/><rect x="51" y="538.9" width="248.3" height="0.7" fill="url(#g173)"/><rect x="360.3" y="332.9" width="248.4" height="3" fill="url(#g174)"/><rect x="360.3" y="334.9" width="248.4" height="3" fill="url(#g175)"/><rect x="360.3" y="336.9" width="248.4" height="3" fill="url(#g176)"/><rect x="360.3" y="338.9" width="248.4" height="3" fill="url(#g177)"/><rect x="360.3" y="340.9" width="248.4" height="3" fill="url(#g178)"/><rect x="360.3" y="342.9" width="248.4" height="3" fill="url(#g179)"/><rect x="360.3" y="344.9" width="248.4" height="3" fill="url(#g180)"/><rect x="360.3" y="346.9" width="248.4" height="3" fill="url(#g181)"/><rect x="360.3" y="348.9" width="248.4" height="3" fill="url(#g182)"/><rect x="360.3" y="350.9" width="248.4" height="3" fill="url(#g183)"/><rect x="360.3" y="352.9" width="248.4" height="3" fill="url(#g184)"/><rect x="360.3" y="354.9" width="248.4" height="3" fill="url(#g185)"/><rect x="360.3" y="356.9" width="248.4" height="3" fill="url(#g186)"/><rect x="360.3" y="358.9" width="248.4" height="3" fill="url(#g187)"/><rect x="360.3" y="360.9" width="248.4" height="3" fill="url(#g188)"/><rect x="360.3" y="362.9" width="248.4" height="3" fill="url(#g189)"/><rect x="360.3" y="364.9" width="248.4" height="3" fill="url(#g190)"/><rect x="360.3" y="366.9" width="248.4" height="3" fill="url(#g191)"/><rect x="360.3" y="368.9" width="248.4" height="3" fill="url(#g192)"/><rect x="360.3" y="370.9" width="248.4" height="3" fill="url(#g193)"/><rect x="360.3" y="372.9" width="248.4" height="3" fill="url(#g194)"/><rect x="360.3" y="374.9" width="248.4" height="3" fill="url(#g195)"/><rect x="360.3" y="376.9" width="248.4" height="3" fill="url(#g196)"/><rect x="360.3" y="378.9" width="248.4" height="3" fill="url(#g197)"/><rect x="360.3" y="380.9" width="248.4" height="3" fill="url(#g198)"/><rect x="360.3" y="382.9" width="248.4" height="3" fill="url(#g199)"/><rect x="360.3" y="384.9" width="248.4" height="3" fill="url(#g200)"/><rect x="360.3" y="386.9" width="248.4" height="3" fill="url(#g201)"/><rect x="360.3" y="388.9" width="248.4" height="3" fill="url(#g202)"/><rect x="360.3" y="390.9" width="248.4" height="3" fill="url(#g203)"/><rect x="360.3" y="392.9" width="248.4" height="3" fill="url(#g204)"/><rect x="360.3" y="394.9" width="248.4" height="3" fill="url(#g205)"/><rect x="360.3" y="396.9" width="248.4" height="3" fill="url(#g206)"/><rect x="360.3" y="398.9" width="248.4" height="3" fill="url(#g207)"/><rect x="360.3" y="400.9" width="248.4" height="3" fill="url(#g208)"/><rect x="360.3" y="402.9" width="248.4" height="3" fill="url(#g209)"/><rect x="360.3" y="404.9" width="248.4" height="3" fill="url(#g210)"/><rect x="360.3" y="406.9" width="248.4" height="3" fill="url(#g211)"/><rect x="360.3" y="408.9" width="248.4" height="3" fill="url(#g212)"/><rect x="360.3" y="410.9" width="248.4" height="3" fill="url(#g213)"/><rect x="360.3" y="412.9" width="248.4" height="3" fill="url(#g214)"/><rect x="360.3" y="414.9" width="248.4" height="3" fill="url(#g215)"/><rect x="360.3" y="416.9" width="248.4" height="3" fill="url(#g216)"/><rect x="360.3" y="418.9" width="248.4" height="3" fill="url(#g217)"/><rect x="360.3" y="420.9" width="248.4" height="3" fill="url(#g218)"/><rect x="360.3" y="422.9" width="248.4" height="3" fill="url(#g219)"/><rect x="360.3" y="424.9" width="248.4" height="3" fill="url(#g220)"/><rect x="360.3" y="426.9" width="248.4" height="3" fill="url(#g221)"/><rect x="360.3" y="428.9" width="248.4" height="3" fill="url(#g222)"/><rect x="360.3" y="430.9" width="248.4" height="3" fill="url(#g223)"/><rect x="360.3" y="432.9" width="248.4" height="3" fill="url(#g224)"/><rect x="360.3" y="434.9" width="248.4" height="3" fill="url(#g225)"/><rect x="360.3" y="436.9" width="248.4" height="3" fill="url(#g226)"/><rect x="360.3" y="438.9" width="248.4" height="3" fill="url(#g227)"/><rect x="360.3" y="440.9" width="248.4" height="3" fill="url(#g228)"/><rect x="360.3" y="442.9" width="248.4" height="3" fill="url(#g229)"/><rect x="360.3" y="444.9" width="248.4" height="3" fill="url(#g230)"/><rect x="360.3" y="446.9" width="248.4" height="3" fill="url(#g231)"/><rect x="360.3" y="448.9" width="248.4" height="3" fill="url(#g232)"/><rect x="360.3" y="450.9" width="248.4" height="3" fill="url(#g233)"/><rect x="360.3" y="452.9" width="248.4" height="3" fill="url(#g234)"/><rect x="360.3" y="454.9" width="248.4" height="3" fill="url(#g235)"/><rect x="360.3" y="456.9" width="248.4" height="3" fill="url(#g236)"/><rect x="360.3" y="458.9" width="248.4" height="3" fill="url(#g237)"/><rect x="360.3" y="460.9" width="248.4" height="3" fill="url(#g238)"/><rect x="360.3" y="462.9" width="248.4" height="3" fill="url(#g239)"/><rect x="360.3" y="464.9" width="248.4" height="3" fill="url(#g240)"/><rect x="360.3" y="466.9" width="248.4" height="3" fill="url(#g241)"/><rect x="360.3" y="468.9" width="248.4" height="3" fill="url(#g242)"/><rect x="360.3" y="470.9" width="248.4" height="3" fill="url(#g243)"/><rect x="360.3" y="472.9" width="248.4" height="3" fill="url(#g244)"/><rect x="360.3" y="474.9" width="248.4" height="3" fill="url(#g245)"/><rect x="360.3" y="476.9" width="248.4" height="3" fill="url(#g246)"/><rect x="360.3" y="478.9" width="248.4" height="3" fill="url(#g247)"/><rect x="360.3" y="480.9" width="248.4" height="3" fill="url(#g248)"/><rect x="360.3" y="482.9" width="248.4" height="3" fill="url(#g249)"/><rect x="360.3" y="484.9" width="248.4" height="3" fill="url(#g250)"/><rect x="360.3" y="486.9" width="248.4" height="3" fill="url(#g251)"/><rect x="360.3" y="488.9" width="248.4" height="3" fill="url(#g252)"/><rect x="360.3" y="490.9" width="248.4" height="3" fill="url(#g253)"/><rect x="360.3" y="492.9" width="248.4" height="3" fill="url(#g254)"/><rect x="360.3" y="494.9" width="248.4" height="3" fill="url(#g255)"/><rect x="360.3" y="496.9" width="248.4" height="3" fill="url(#g256)"/><rect x="360.3" y="498.9" width="248.4" height="3" fill="url(#g257)"/><rect x="360.3" y="500.9" width="248.4" height="3" fill="url(#g258)"/><rect x="360.3" y="502.9" width="248.4" height="3" fill="url(#g259)"/><rect x="360.3" y="504.9" width="248.4" height="3" fill="url(#g260)"/><rect x="360.3" y="506.9" width="248.4" height="3" fill="url(#g261)"/><rect x="360.3" y="508.9" width="248.4" height="3" fill="url(#g262)"/><rect x="360.3" y="510.9" width="248.4" height="3" fill="url(#g263)"/><rect x="360.3" y="512.9" width="248.4" height="3" fill="url(#g264)"/><rect x="360.3" y="514.9" width="248.4" height="3" fill="url(#g265)"/><rect x="360.3" y="516.9" width="248.4" height="3" fill="url(#g266)"/><rect x="360.3" y="518.9" width="248.4" height="3" fill="url(#g267)"/><rect x="360.3" y="520.9" width="248.4" height="3" fill="url(#g268)"/><rect x="360.3" y="522.9" width="248.4" height="3" fill="url(#g269)"/><rect x="360.3" y="524.9" width="248.4" height="3" fill="url(#g270)"/><rect x="360.3" y="526.9" width="248.4" height="3" fill="url(#g271)"/><rect x="360.3" y="528.9" width="248.4" height="3" fill="url(#g272)"/><rect x="360.3" y="530.9" width="248.4" height="3" fill="url(#g273)"/><rect x="360.3" y="532.9" width="248.4" height="3" fill="url(#g274)"/><rect x="360.3" y="534.9" width="248.4" height="3" fill="url(#g275)"/><rect x="360.3" y="536.9" width="248.4" height="3" fill="url(#g276)"/><rect x="360.3" y="538.9" width="248.4" height="0.7" fill="url(#g277)"/><rect x="621.3" y="26.5" width="12.5" height="206.7" fill="url(#c278)"/><rect x="621.3" y="332.9" width="12.5" height="206.7" fill="url(#c279)"/>
<polygon points="154.46,233.2 154.5,232.17 154.54,231.13 154.57,230.1 154.61,229.07 154.65,228.03 154.69,227 154.73,225.97 154.77,224.93 154.81,223.9 154.84,222.86 154.88,221.83 154.92,220.8 154.96,219.76 155,218.73 155.03,217.7 155.07,216.66 155.11,215.63 155.15,214.6 155.19,213.56 155.22,212.53 155.26,211.5 155.3,210.46 155.34,209.43 155.38,208.4 155.41,207.36 155.45,206.33 155.49,205.3 155.53,204.26 155.56,203.23 155.6,202.19 155.64,201.16 155.68,200.13 155.71,199.09 155.75,198.06 155.79,197.03 155.82,195.99 155.86,194.96 155.9,193.93 155.94,192.89 155.97,191.86 156.01,190.83 156.05,189.79 156.08,188.76 156.12,187.73 156.16,186.69 156.19,185.66 156.23,184.63 156.27,183.59 156.3,182.56 156.34,181.52 156.38,180.49 156.41,179.46 156.45,178.42 156.48,177.39 156.52,176.36 156.56,175.32 156.59,174.29 156.63,173.26 156.67,172.22 156.7,171.19 156.74,170.16 156.77,169.12 156.81,168.09 156.85,167.06 156.88,166.02 156.92,164.99 156.95,163.96 156.99,162.92 157.02,161.89 157.06,160.85 157.1,159.82 157.13,158.79 157.17,157.75 157.2,156.72 157.24,155.69 157.27,154.65 157.31,153.62 157.34,152.59 157.38,151.55 157.41,150.52 157.45,149.49 157.48,148.45 157.52,147.42 157.55,146.39 157.59,145.35 157.62,144.32 157.66,143.29 157.69,142.25 157.73,141.22 157.76,140.19 157.8,139.15 157.83,138.12 157.87,137.08 157.9,136.05 157.94,135.02 157.97,133.98 158.01,132.95 158.04,131.92 158.08,130.88 158.11,129.85 158.14,128.82 158.18,127.78 158.21,126.75 158.25,125.72 158.28,124.68 158.32,123.65 158.35,122.62 158.38,121.58 158.42,120.55 158.45,119.51 158.49,118.48 158.52,117.45 158.55,116.41 158.59,115.38 158.62,114.35 158.65,113.31 158.69,112.28 158.72,111.25 158.76,110.21 158.79,109.18 158.82,108.15 158.86,107.11 158.89,106.08 158.92,105.05 158.96,104.01 158.99,102.98 159.02,101.95 159.06,100.91 159.09,99.88 159.12,98.84 159.16,97.81 159.19,96.78 159.22,95.74 159.26,94.71 159.29,93.68 159.32,92.64 159.35,91.61 159.39,90.58 159.42,89.54 159.45,88.51 159.49,87.48 159.52,86.44 159.55,85.41 159.58,84.38 159.62,83.34 159.65,82.31 159.68,81.28 159.71,80.24 159.75,79.21 159.78,78.18 159.81,77.14 159.84,76.11 159.88,75.07 159.91,74.04 159.94,73.01 159.97,71.97 160.01,70.94 160.04,69.91 160.07,68.87 160.1,67.84 160.13,66.81 160.17,65.77 160.2,64.74 160.23,63.71 160.26,62.67 160.29,61.64 160.33,60.61 160.36,59.57 160.39,58.54 160.42,57.5 160.45,56.47 160.48,55.44 160.52,54.4 160.55,53.37 160.58,52.34 160.61,51.3 160.64,50.27 160.67,49.24 160.7,48.2 160.74,47.17 160.77,46.14 160.8,45.1 160.83,44.07 160.86,43.04 160.89,42 160.92,40.97 160.95,39.94 160.99,38.9 161.02,37.87 161.05,36.83 161.08,35.8 161.11,34.77 161.14,33.73 161.17,32.7 161.2,31.67 161.23,30.63 161.26,29.6 161.29,28.57 161.32,27.53 161.36,26.5 216.53,26.5 216.85,27.53 217.16,28.57 217.48,29.6 217.8,30.63 218.12,31.67 218.45,32.7 218.78,33.73 219.11,34.77 219.45,35.8 219.79,36.83 220.13,37.87 220.48,38.9 220.82,39.94 221.18,40.97 221.53,42 221.89,43.04 222.26,44.07 222.63,45.1 223,46.14 223.37,47.17 223.75,48.2 224.13,49.24 224.52,50.27 224.91,51.3 225.31,52.34 225.71,53.37 226.11,54.4 226.52,55.44 226.93,56.47 227.35,57.5 227.77,58.54 228.19,59.57 228.62,60.61 229.06,61.64 229.5,62.67 229.95,63.71 230.4,64.74 230.85,65.77 231.31,66.81 231.78,67.84 232.25,68.87 232.73,69.91 233.21,70.94 233.7,71.97 234.2,73.01 234.7,74.04 235.21,75.07 235.72,76.11 236.24,77.14 236.77,78.18 237.3,79.21 237.84,80.24 238.38,81.28 238.94,82.31 239.5,83.34 240.07,84.38 240.64,85.41 241.23,86.44 241.82,87.48 242.42,88.51 243.03,89.54 243.64,90.58 244.27,91.61 244.9,92.64 245.54,93.68 246.19,94.71 246.85,95.74 247.52,96.78 248.2,97.81 248.89,98.84 249.59,99.88 250.3,100.91 251.02,101.95 251.75,102.98 252.49,104.01 253.25,105.05 254.01,106.08 254.79,107.11 255.58,108.15 256.38,109.18 257.2,110.21 258.03,111.25 258.87,112.28 259.73,113.31 260.6,114.35 261.48,115.38 262.38,116.41 263.3,117.45 264.23,118.48 265.18,119.51 266.14,120.55 267.12,121.58 268.12,122.62 269.14,123.65 270.17,124.68 271.23,125.72 272.3,126.75 273.4,127.78 274.51,128.82 275.65,129.85 276.81,130.88 277.99,131.92 279.2,132.95 280.43,133.98 281.69,135.02 282.97,136.05 284.28,137.08 285.61,138.12 286.98,139.15 288.37,140.19 289.8,141.22 291.25,142.25 292.74,143.29 294.26,144.32 295.82,145.35 297.41,146.39 299.04,147.42 299.3,148.45 299.3,149.49 299.3,150.52 299.3,151.55 299.3,152.59 299.3,153.62 299.3,154.65 299.3,155.69 299.3,156.72 299.3,157.75 299.3,158.79 299.3,159.82 299.3,160.85 299.3,161.89 299.3,162.92 299.3,163.96 299.3,164.99 299.3,166.02 299.3,167.06 299.3,168.09 299.3,169.12 299.3,170.16 299.3,171.19 299.3,172.22 299.3,173.26 299.3,174.29 299.3,175.32 299.3,176.36 299.3,177.39 299.3,178.42 299.3,179.46 299.3,180.49 299.3,181.52 299.3,182.56 299.3,183.59 299.3,184.63 299.3,185.66 299.3,186.69 299.3,187.73 299.3,188.76 299.3,189.79 299.3,190.83 299.3,191.86 299.3,192.89 299.3,193.93 299.3,194.96 299.3,195.99 299.3,197.03 299.3,198.06 299.3,199.09 299.3,200.13 299.3,201.16 299.3,202.19 299.3,203.23 299.3,204.26 299.3,205.3 299.3,206.33 299.3,207.36 299.3,208.4 299.3,209.43 299.3,210.46 299.3,211.5 299.3,212.53 299.3,213.56 299.3,214.6 299.3,215.63 299.3,216.66 299.3,217.7 299.3,218.73 299.3,219.76 299.3,220.8 299.3,221.83 299.3,222.86 299.3,223.9 299.3,224.93 299.3,225.97 299.3,227 299.3,228.03 299.3,229.07 299.3,230.1 299.3,231.13 299.3,232.17 299.3,233.2" fill="#4e5ec6"/><polygon points="484.5,233.2 484.5,232.17 484.5,231.13 484.5,230.1 484.5,229.07 484.5,228.03 484.5,227 484.5,225.97 484.5,224.93 484.5,223.9 484.5,222.86 484.5,221.83 484.5,220.8 484.5,219.76 484.5,218.73 484.5,217.7 484.5,216.66 484.5,215.63 484.5,214.6 484.5,213.56 484.5,212.53 484.5,211.5 484.5,210.46 484.5,209.43 484.5,208.4 484.5,207.36 484.5,206.33 484.5,205.3 484.5,204.26 484.5,203.23 484.5,202.19 484.5,201.16 484.5,200.13 484.5,199.09 484.5,198.06 484.5,197.03 484.5,195.99 484.5,194.96 484.5,193.93 484.5,192.89 484.5,191.86 484.5,190.83 484.5,189.79 484.5,188.76 484.5,187.73 484.5,186.69 484.5,185.66 484.5,184.63 484.5,183.59 484.5,182.56 484.5,181.52 484.5,180.49 484.5,179.46 484.5,178.42 484.5,177.39 484.5,176.36 484.5,175.32 484.5,174.29 484.5,173.26 484.5,172.22 484.5,171.19 484.5,170.16 484.5,169.12 484.5,168.09 484.5,167.06 484.5,166.02 484.5,164.99 484.5,163.96 484.5,162.92 484.5,161.89 484.5,160.85 484.5,159.82 484.5,158.79 484.5,157.75 484.5,156.72 484.5,155.69 484.5,154.65 484.5,153.62 484.5,152.59 484.5,151.55 484.5,150.52 484.5,149.49 484.5,148.45 484.5,147.42 484.5,146.39 484.5,145.35 484.5,144.32 484.5,143.29 484.5,142.25 484.5,141.22 484.5,140.19 484.5,139.15 484.5,138.12 484.5,137.08 484.5,136.05 484.5,135.02 484.5,133.98 484.5,132.95 484.5,131.92 484.5,130.88 484.5,129.85 484.5,128.82 484.5,127.78 484.5,126.75 484.5,125.72 484.5,124.68 484.5,123.65 484.5,122.62 484.5,121.58 484.5,120.55 484.5,119.51 484.5,118.48 484.5,117.45 484.5,116.41 484.5,115.38 484.5,114.35 484.5,113.31 484.5,112.28 484.5,111.25 484.5,110.21 484.5,109.18 484.5,108.15 484.5,107.11 484.5,106.08 484.5,105.05 484.5,104.01 484.5,102.98 484.5,101.95 484.5,100.91 484.5,99.88 484.5,98.84 484.5,97.81 484.5,96.78 484.5,95.74 484.5,94.71 484.5,93.68 484.5,92.64 484.5,91.61 484.5,90.58 484.5,89.54 484.5,88.51 484.5,87.48 484.5,86.44 484.5,85.41 484.5,84.38 484.5,83.34 484.5,82.31 484.5,81.28 484.5,80.24 484.5,79.21 484.5,78.18 484.5,77.14 484.5,76.11 484.5,75.07 484.5,74.04 484.5,73.01 484.5,71.97 484.5,70.94 484.5,69.91 484.5,68.87 484.5,67.84 484.5,66.81 484.5,65.77 484.5,64.74 484.5,63.71 484.5,62.67 484.5,61.64 484.5,60.61 484.5,59.57 484.5,58.54 484.5,57.5 484.5,56.47 484.5,55.44 484.5,54.4 484.5,53.37 484.5,52.34 484.5,51.3 484.5,50.27 484.5,49.24 484.5,48.2 484.5,47.17 484.5,46.14 484.5,45.1 484.5,44.07 484.5,43.04 484.5,42 484.5,40.97 484.5,39.94 484.5,38.9 484.5,37.87 484.5,36.83 484.5,35.8 484.5,34.77 484.5,33.73 484.5,32.7 484.5,31.67 484.5,30.63 484.5,29.6 484.5,28.57 484.5,27.53 484.5,26.5 525.9,26.5 526.21,27.53 526.53,28.57 526.84,29.6 527.17,30.63 527.49,31.67 527.82,32.7 528.15,33.73 528.48,34.77 528.82,35.8 529.15,36.83 529.5,37.87 529.84,38.9 530.19,39.94 530.55,40.97 530.9,42 531.26,43.04 531.63,44.07 531.99,45.1 532.37,46.14 532.74,47.17 533.12,48.2 533.5,49.24 533.89,50.27 534.28,51.3 534.68,52.34 535.08,53.37 535.48,54.4 535.89,55.44 536.3,56.47 536.72,57.5 537.14,58.54 537.56,59.57 538,60.61 538.43,61.64 538.87,62.67 539.32,63.71 539.77,64.74 540.22,65.77 540.69,66.81 541.15,67.84 541.62,68.87 542.1,69.91 542.59,70.94 543.08,71.97 543.57,73.01 544.07,74.04 544.58,75.07 545.09,76.11 545.61,77.14 546.14,78.18 546.67,79.21 547.21,80.24 547.76,81.28 548.31,82.31 548.88,83.34 549.44,84.38 550.02,85.41 550.6,86.44 551.2,87.48 551.79,88.51 552.4,89.54 553.02,90.58 553.64,91.61 554.28,92.64 554.92,93.68 555.57,94.71 556.23,95.74 556.9,96.78 557.58,97.81 558.27,98.84 558.97,99.88 559.68,100.91 560.4,101.95 561.13,102.98 561.88,104.01 562.63,105.05 563.4,106.08 564.17,107.11 564.96,108.15 565.77,109.18 566.58,110.21 567.41,111.25 568.25,112.28 569.11,113.31 569.98,114.35 570.87,115.38 571.77,116.41 572.68,117.45 573.61,118.48 574.56,119.51 575.53,120.55 576.51,121.58 577.51,122.62 578.53,123.65 579.56,124.68 580.62,125.72 581.69,126.75 582.79,127.78 583.9,128.82 585.04,129.85 586.2,130.88 587.39,131.92 588.59,132.95 589.82,133.98 591.08,135.02 592.36,136.05 593.67,137.08 595.01,138.12 596.37,139.15 597.77,140.19 599.19,141.22 600.65,142.25 602.14,143.29 603.66,144.32 605.22,145.35 606.81,146.39 608.44,147.42 608.7,148.45 608.7,149.49 608.7,150.52 608.7,151.55 608.7,152.59 608.7,153.62 608.7,154.65 608.7,155.69 608.7,156.72 608.7,157.75 608.7,158.79 608.7,159.82 608.7,160.85 608.7,161.89 608.7,162.92 608.7,163.96 608.7,164.99 608.7,166.02 608.7,167.06 608.7,168.09 608.7,169.12 608.7,170.16 608.7,171.19 608.7,172.22 608.7,173.26 608.7,174.29 608.7,175.32 608.7,176.36 608.7,177.39 608.7,178.42 608.7,179.46 608.7,180.49 608.7,181.52 608.7,182.56 608.7,183.59 608.7,184.63 608.7,185.66 608.7,186.69 608.7,187.73 608.7,188.76 608.7,189.79 608.7,190.83 608.7,191.86 608.7,192.89 608.7,193.93 608.7,194.96 608.7,195.99 608.7,197.03 608.7,198.06 608.7,199.09 608.7,200.13 608.7,201.16 608.7,202.19 608.7,203.23 608.7,204.26 608.7,205.3 608.7,206.33 608.7,207.36 608.7,208.4 608.7,209.43 608.7,210.46 608.7,211.5 608.7,212.53 608.7,213.56 608.7,214.6 608.7,215.63 608.7,216.66 608.7,217.7 608.7,218.73 608.7,219.76 608.7,220.8 608.7,221.83 608.7,222.86 608.7,223.9 608.7,224.93 608.7,225.97 608.7,227 608.7,228.03 608.7,229.07 608.7,230.1 608.7,231.13 608.7,232.17 608.7,233.2" fill="#4e5ec6"/>
<path d="M92.38 26.5V233.2M133.77 26.5V233.2M175.15 26.5V233.2M216.53 26.5V233.2M257.92 26.5V233.2M51 212.53H299.3M51 191.86H299.3M51 171.19H299.3M51 150.52H299.3M51 129.85H299.3M51 109.18H299.3M51 88.51H299.3M51 67.84H299.3M51 47.17H299.3M401.7 26.5V233.2M443.1 26.5V233.2M484.5 26.5V233.2M525.9 26.5V233.2M567.3 26.5V233.2M360.3 212.53H608.7M360.3 191.86H608.7M360.3 171.19H608.7M360.3 150.52H608.7M360.3 129.85H608.7M360.3 109.18H608.7M360.3 88.51H608.7M360.3 67.84H608.7M360.3 47.17H608.7M92.38 332.9V539.6M133.77 332.9V539.6M175.15 332.9V539.6M216.53 332.9V539.6M257.92 332.9V539.6M51 518.93H299.3M51 498.26H299.3M51 477.59H299.3M51 456.92H299.3M51 436.25H299.3M51 415.58H299.3M51 394.91H299.3M51 374.24H299.3M51 353.57H299.3M401.7 332.9V539.6M443.1 332.9V539.6M484.5 332.9V539.6M525.9 332.9V539.6M567.3 332.9V539.6M360.3 518.93H608.7M360.3 498.26H608.7M360.3 477.59H608.7M360.3 456.92H608.7M360.3 436.25H608.7M360.3 415.58H608.7M360.3 394.91H608.7M360.3 374.24H608.7M360.3 353.57H608.7" stroke="#7e8288" stroke-opacity="0.55" stroke-width="1" fill="none"/>
<path d="M51 233.2v5M92.38 233.2v5M133.77 233.2v5M175.15 233.2v5M216.53 233.2v5M257.92 233.2v5M299.3 233.2v5M51 233.2h-5M51 212.53h-5M51 191.86h-5M51 171.19h-5M51 150.52h-5M51 129.85h-5M51 109.18h-5M51 88.51h-5M51 67.84h-5M51 47.17h-5M51 26.5h-5M360.3 233.2v5M401.7 233.2v5M443.1 233.2v5M484.5 233.2v5M525.9 233.2v5M567.3 233.2v5M608.7 233.2v5M360.3 233.2h-5M360.3 212.53h-5M360.3 191.86h-5M360.3 171.19h-5M360.3 150.52h-5M360.3 129.85h-5M360.3 109.18h-5M360.3 88.51h-5M360.3 67.84h-5M360.3 47.17h-5M360.3 26.5h-5M51 539.6v5M92.38 539.6v5M133.77 539.6v5M175.15 539.6v5M216.53 539.6v5M257.92 539.6v5M299.3 539.6v5M51 539.6h-5M51 518.93h-5M51 498.26h-5M51 477.59h-5M51 456.92h-5M51 436.25h-5M51 415.58h-5M51 394.91h-5M51 374.24h-5M51 353.57h-5M51 332.9h-5M360.3 539.6v5M401.7 539.6v5M443.1 539.6v5M484.5 539.6v5M525.9 539.6v5M567.3 539.6v5M608.7 539.6v5M360.3 539.6h-5M360.3 518.93h-5M360.3 498.26h-5M360.3 477.59h-5M360.3 456.92h-5M360.3 436.25h-5M360.3 415.58h-5M360.3 394.91h-5M360.3 374.24h-5M360.3 353.57h-5M360.3 332.9h-5M633.8 233.2h5M633.8 181.52h5M633.8 129.85h5M633.8 78.18h5M633.8 26.5h5M633.8 516.63h5M633.8 493.67h5M633.8 470.7h5M633.8 447.73h5M633.8 424.77h5M633.8 401.8h5M633.8 378.83h5M633.8 355.87h5" stroke="#222" stroke-width="1.1" fill="none"/>
<path d="M154.67 233.2L154.67 222.35L155.09 221.83L155.09 210.98L155.5 210.46L155.5 199.61L155.92 199.09L155.92 188.24L156.33 187.73L156.33 176.36L156.74 175.84L156.74 164.47L157.16 163.96L157.16 152.59L157.57 152.07L157.57 140.19L157.99 139.67L157.99 127.78L158.4 127.27L158.4 115.38L158.81 114.86L158.81 102.46L159.23 101.95L159.23 89.54L159.64 89.03L159.64 76.62L160.05 76.11L160.05 63.19L160.47 62.67L160.47 49.75L160.88 49.24L160.88 35.8L161.3 35.28L161.3 26.5M216.32 26.5L216.73 27.02L216.73 27.53L217.14 28.05L217.14 29.08L217.56 29.6L217.56 30.12L217.97 30.63L217.97 31.67L218.39 32.18L218.39 32.7L218.8 33.22L218.8 34.25L219.21 34.77L219.21 35.28L219.63 35.8L219.63 36.83L220.04 37.35L220.04 37.87L220.46 38.39L220.46 39.42L220.87 39.94L220.87 40.45L221.28 40.97L221.28 41.49L221.7 42L221.7 43.04L222.11 43.55L222.11 44.07L222.52 44.59L222.52 45.1L222.94 45.62L222.94 46.14L223.35 46.65L223.35 47.69L223.77 48.2L223.77 48.72L224.18 49.24L224.18 49.75L224.59 50.27L224.59 50.79L225.01 51.3L225.01 51.82L225.42 52.34L225.42 52.85L225.84 53.37L225.84 53.89L226.25 54.4L226.25 54.92L226.66 55.44L226.66 55.95L227.08 56.47L227.08 56.99L227.49 57.5L227.49 58.02L227.9 58.54L227.9 59.06L228.32 59.57L228.32 60.09L228.73 60.61L228.73 61.12L229.15 61.64L229.15 62.16L229.56 62.67L229.56 63.19L229.97 63.71L229.97 64.22L230.8 65.26L230.8 65.77L231.22 66.29L231.22 66.81L231.63 67.32L231.63 67.84L232.04 68.36L232.04 68.87L232.87 69.91L232.87 70.42L233.28 70.94L233.28 71.46L234.11 72.49L234.11 73.01L234.53 73.52L234.53 74.04L235.35 75.07L235.35 75.59L235.77 76.11L235.77 76.62L236.59 77.66L236.59 78.18L237.42 79.21L237.42 79.73L238.25 80.76L238.25 81.28L239.08 82.31L239.08 82.83L239.91 83.86L239.91 84.38L240.73 85.41L240.73 85.93L241.97 87.48L241.97 87.99L243.22 89.54L243.22 90.06L244.46 91.61L244.46 92.13L245.7 93.68L245.7 94.19L247.35 96.26L247.35 96.78L249.42 99.36L249.42 99.88L251.91 102.98L251.91 103.5L262.88 117.2L263.3 117.2L266.19 120.82L266.61 120.82L268.68 123.4L269.09 123.4L270.75 125.47L271.16 125.47L272.4 127.02L272.81 127.02L274.06 128.57L274.47 128.57L275.71 130.12L276.13 130.12L276.95 131.15L277.37 131.15L278.61 132.7L279.02 132.7L279.85 133.74L280.26 133.74L281.09 134.77L281.51 134.77L282.33 135.8L282.75 135.8L283.16 136.32L283.57 136.32L284.4 137.35L284.82 137.35L285.64 138.39L286.06 138.39L286.47 138.9L286.88 138.9L287.71 139.94L288.13 139.94L288.54 140.46L288.95 140.46L289.37 140.97L289.78 140.97L290.61 142.01L291.02 142.01L291.44 142.52L291.85 142.52L292.26 143.04L292.68 143.04L293.51 144.07L293.92 144.07L294.33 144.59L294.75 144.59L295.16 145.11L295.58 145.11L295.99 145.62L296.4 145.62L296.82 146.14L297.23 146.14L297.64 146.66L298.06 146.66L298.47 147.17L298.89 147.17L299.3 147.69M482.35 193.84L482.84 116.46L483.19 26.5M474.98 233.2L476.28 190.91M477.2 151.47L478.29 90.58L479.12 26.5M465.26 233.2L466.85 198.58L468.32 160.41M469.6 120.99L470.84 75.69L471.97 26.5M525.68 26.5L526.1 27.02L526.1 27.53L526.51 28.05L526.51 29.08L526.93 29.6L526.93 30.12L527.34 30.63L527.34 31.67L527.75 32.18L527.75 32.7L528.17 33.22L528.17 34.25L528.58 34.77L528.58 35.28L529 35.8L529 36.83L529.41 37.35L529.41 37.87L529.82 38.39L529.82 39.42L530.24 39.94L530.24 40.45L530.65 40.97L530.65 41.49L531.07 42L531.07 43.04L531.48 43.55L531.48 44.07L531.89 44.59L531.89 45.1L532.31 45.62L532.31 46.14L532.72 46.65L532.72 47.69L533.14 48.2L533.14 48.72L533.55 49.24L533.55 49.75L533.96 50.27L533.96 50.79L534.38 51.3L534.38 51.82L534.79 52.34L534.79 52.85L535.21 53.37L535.21 53.89L535.62 54.4L535.62 54.92L536.03 55.44L536.03 55.95L536.45 56.47L536.45 56.99L536.86 57.5L536.86 58.02L537.28 58.54L537.28 59.06L537.69 59.57L537.69 60.09L538.1 60.61L538.1 61.12L538.52 61.64L538.52 62.16L538.93 62.67L538.93 63.19L539.35 63.71L539.35 64.22L540.17 65.26L540.17 65.77L540.59 66.29L540.59 66.81L541 67.32L541 67.84L541.42 68.36L541.42 68.87L542.24 69.91L542.24 70.42L542.66 70.94L542.66 71.46L543.49 72.49L543.49 73.01L543.9 73.52L543.9 74.04L544.73 75.07L544.73 75.59L545.14 76.11L545.14 76.62L545.97 77.66L545.97 78.18L546.8 79.21L546.8 79.73L547.63 80.76L547.63 81.28L548.45 82.31L548.45 82.83L549.28 83.86L549.28 84.38L550.11 85.41L550.11 85.93L551.35 87.48L551.35 87.99L552.59 89.54L552.59 90.06L553.84 91.61L553.84 92.13L555.08 93.68L555.08 94.19L556.73 96.26L556.73 96.78L558.8 99.36L558.8 99.88L561.29 102.98L561.29 103.5L572.27 117.2L572.68 117.2L575.58 120.82L575.99 120.82L578.06 123.4L578.48 123.4L580.13 125.47L580.55 125.47L581.79 127.02L582.2 127.02L583.45 128.57L583.86 128.57L585.1 130.12L585.52 130.12L586.34 131.15L586.76 131.15L588 132.7L588.41 132.7L589.24 133.74L589.66 133.74L590.48 134.77L590.9 134.77L591.73 135.8L592.14 135.8L592.55 136.32L592.97 136.32L593.8 137.35L594.21 137.35L595.04 138.39L595.45 138.39L595.87 138.9L596.28 138.9L597.11 139.94L597.52 139.94L597.94 140.46L598.35 140.46L598.76 140.97L599.18 140.97L600.01 142.01L600.42 142.01L600.83 142.52L601.25 142.52L601.66 143.04L602.08 143.04L602.9 144.07L603.32 144.07L603.73 144.59L604.15 144.59L604.56 145.11L604.97 145.11L605.39 145.62L605.8 145.62L606.22 146.14L606.63 146.14L607.04 146.66L607.46 146.66L607.87 147.17L608.29 147.17L608.7 147.69M455.19 233.2L457.11 183.59L458.93 129.41M460.12 89.98L461.81 26.5M447.22 233.2L449.49 98.41M450.1 58.97L450.59 26.5M443.39 233.2L443.49 67.41M299.3 454.08L298.89 453.56L298.47 453.56L298.06 453.05L297.64 453.04L297.23 452.53L296.82 452.53L296.4 452.01L295.99 452.01L295.58 451.5L295.16 451.49L294.75 450.98L294.33 450.97L293.92 450.46L293.51 450.46L292.68 449.43L292.26 449.43L291.85 448.91L291.44 448.91L291.02 448.39L290.61 448.39L289.78 447.36L289.37 447.36L288.95 446.85L288.54 446.84L288.13 446.33L287.71 446.32L286.88 445.3L286.47 445.29L286.06 444.78L285.64 444.77L284.82 443.75L284.4 443.74L283.57 442.71L283.16 442.71L282.75 442.19L282.33 442.19L281.51 441.16L281.09 441.16L280.26 440.13L279.85 440.12L279.02 439.09L278.61 439.09L277.37 437.54L276.95 437.54L276.13 436.51L275.71 436.51L274.47 434.96L274.06 434.96L272.81 433.41L272.4 433.41L271.16 431.86L270.75 431.85L269.09 429.79L268.68 429.79L266.61 427.21L266.19 427.2L263.3 423.59L262.88 423.59L251.92 409.9L251.91 409.38L249.44 406.28L249.43 405.76L247.37 403.18L247.36 402.66L245.71 400.59L245.7 400.08L244.47 398.53L244.46 398.01L243.23 396.46L243.22 395.94L241.99 394.39L241.98 393.88L240.75 392.33L240.74 391.81L239.92 390.78L239.91 390.26L239.09 389.23L239.08 388.71L238.26 387.68L238.26 387.16L237.49 386.19M227.08 363.14L227.08 362.87L226.67 362.35L226.66 361.84L226.26 361.32L226.25 360.8L225.85 360.29L225.84 359.77L225.44 359.25L225.42 358.74L225.02 358.22L225.01 357.7L224.61 357.19L224.6 356.67L224.2 356.15L224.18 355.64L223.79 355.12L223.77 354.6L223.38 354.09L223.35 353.05L222.95 352.54L222.94 352.02L222.54 351.5L222.52 350.99L222.13 350.47L222.12 349.95L221.73 349.44L221.69 348.4L221.3 347.89L221.28 347.37L220.89 346.85L220.87 346.34L220.49 345.82L220.44 344.79L220.06 344.27L220.04 343.75L219.66 343.24L219.6 342.2L219.23 341.68L219.2 341.17L218.84 340.65L218.76 339.62L218.41 339.1L218.37 338.58L218.02 338.07L217.92 337.03L217.59 336.52L217.53 336L217.23 335.48L217.07 334.45L216.53 332.9M299.3 470.7L291.02 467.07L282.9 463.12L275.3 459.02L268.35 454.85L261.64 450.41L255.43 445.86L249.32 440.9L243.43 435.6L237.88 430.05L232.74 424.36L227.71 418.19L223.12 411.96L218.6 405.16L214.32 398.01L210.33 390.63L206.47 382.73M196.59 358.06L192.62 345.82L188.94 332.9M299.3 505.15L290.67 503.26M265.05 496.16L258.74 493.97L252.95 491.75L247.16 489.31L241.78 486.8L236.81 484.26L231.85 481.46L227.29 478.62L222.74 475.51L218.6 472.38L214.46 468.93L210.74 465.51L207.02 461.75L203.61 457.95L200.25 453.82L197.08 449.53L194.07 445.03L191.24 440.38L188.39 435.21L185.82 430.05L183.25 424.36L180.93 418.68L178.63 412.48L176.54 406.28L174.49 399.56L172.49 392.33L170.67 385.09L167.29 369.48L164.17 352.02L161.36 332.9M299.3 512.04L285.64 509.56L272.81 506.79L261.23 503.81L250.5 500.52M226.04 490.16L222.05 487.93L218.19 485.56L214.46 483.07L211.15 480.65L207.84 478.01L204.39 475.01L201.22 471.97L198.32 468.93L195.43 465.61L192.62 462.09L190.05 458.54L187.6 454.85L185.39 451.24L183.01 446.96L180.94 442.9L178.87 438.46L176.01 431.6L173.36 424.36L170.86 416.61L168.53 408.36L166.34 399.56L164.31 390.26L162.43 380.44L160.6 369.59L160.18 369.59L159.92 382.51L159.43 383.02L159.42 383.6L157.52 360.29L155.84 332.9M299.3 518.93L288.13 517.43L277.71 515.83L267.85 514.08L258.74 512.22L250.05 510.18L242.31 508.08L235.16 505.85L228.29 503.4M204.66 491.33L200.39 488.25L196.23 484.82L192.36 481.21L188.81 477.43L185.5 473.46L182.19 468.93L179.12 464.15L176.39 459.33L173.9 454.34L171.39 448.65L168.99 442.45L166.87 436.25L164.85 429.53L162.94 422.3L161.13 414.55L159.42 406.25L159.39 408.35L158.94 408.86L158.77 421.26L158.32 421.78L158.18 433.6L156.89 424.36L155.72 414.55L154.63 403.69L153.62 391.81L151.84 364.94L150.32 332.9M299.3 525.82L279.85 523.99L262.47 521.88L247.16 519.48L240.54 518.24L233.91 516.82L227.71 515.32L222.05 513.76L216.53 512.04L211.57 510.28L207.02 508.46L202.46 506.4L198.32 504.27L194.46 502.02M174.94 484.2L172.25 480.33L169.95 476.56L167.7 472.38L165.52 467.77L163.39 462.6L161.53 457.44L159.84 452.11L158.18 446.18L157.74 446.58L157.6 458.47L157.16 458.99L157.01 470.36L156.56 470.87L156.53 473.46L154.4 464.15L152.58 453.82L151.02 442.45L149.65 429.53L148.4 414.55L147.34 398.01L146.38 378.89L145.54 357.19L144.8 332.9M299.3 532.71L276.13 531.59L256.38 530.3L239.29 528.79L224.81 527.07L211.98 525.02L206.6 523.94L201.22 522.69L196.26 521.35L191.85 519.96L187.6 518.41L183.66 516.74M162.95 500.52L161.08 497.84L159.43 495.16L156.53 489.49L156.46 494.13L156.02 494.64L155.81 505.49L155.37 506.01L155.29 509.2L153.63 506.26L152.07 502.91L150.73 499.46L149.51 495.68L148.39 491.54L147.34 486.89L146.38 481.72L145.5 476.04L144.3 466.22L143.21 454.34L142.3 440.9L141.5 424.88L140.82 406.8L140.23 385.61L139.28 332.9M133.77 539.6L133.77 521.89M133.77 495.3L133.77 332.9M51 507.8L56.85 504.98L62.17 501.93L66.85 498.78L71.28 495.27L75.27 491.54L79.03 487.41L82.45 482.97L85.65 478.08M96.17 453.72L98.87 444L101.41 432.63L103.62 420.23L105.62 406.28L107.4 390.78L108.98 373.72L110.4 354.6L111.7 332.9M51 464.44L53.99 460.54L56.79 456.5L59.46 452.27L61.82 448.14L64.23 443.48L66.42 438.83L68.63 433.67L70.74 428.2M78.36 402.74L80.05 395.43L81.62 387.89L84.53 371.66L87.24 353.05L89.62 332.9M51 401.8L53.7 393.88L56.24 385.54M62.62 359.73L65.16 346.85L67.55 332.9M608.7 454.08L608.29 453.56L607.87 453.56L607.46 453.05L607.04 453.04L606.63 452.53L606.22 452.53L605.8 452.01L605.39 452.01L604.97 451.5L604.56 451.49L604.15 450.98L603.73 450.97L603.32 450.46L602.9 450.46L602.08 449.43L601.66 449.43L601.25 448.91L600.83 448.91L600.42 448.39L600.01 448.39L599.18 447.36L598.76 447.36L598.35 446.85L597.94 446.84L597.52 446.33L597.11 446.32L596.28 445.3L595.87 445.29L595.45 444.78L595.04 444.77L594.21 443.75L593.8 443.74L592.97 442.71L592.55 442.71L592.14 442.19L591.73 442.19L590.9 441.16L590.48 441.16L589.66 440.13L589.24 440.12L588.41 439.09L588 439.09L586.76 437.54L586.34 437.54L585.52 436.51L585.1 436.51L583.86 434.96L583.45 434.96L582.2 433.41L581.79 433.41L580.55 431.86L580.13 431.85L578.48 429.79L578.06 429.79L575.99 427.21L575.58 427.2L572.68 423.59L572.27 423.59L561.3 409.9L561.29 409.38L558.82 406.28L558.81 405.76L556.75 403.18L556.74 402.66L555.09 400.59L555.08 400.08L553.85 398.53L553.84 398.01L552.6 396.46L552.6 395.94L551.36 394.39L551.36 393.88L550.12 392.33L550.12 391.81L549.29 390.78L549.29 390.26L548.47 389.23L548.46 388.71L547.64 387.68L547.63 387.16L546.86 386.19M536.45 363.14L536.45 362.87L536.05 362.35L536.03 361.84L535.63 361.32L535.62 360.8L535.22 360.29L535.21 359.77L534.81 359.25L534.79 358.74L534.39 358.22L534.38 357.7L533.98 357.19L533.97 356.67L533.57 356.15L533.55 355.64L533.16 355.12L533.14 354.6L532.75 354.09L532.72 353.05L532.32 352.54L532.3 352.02L531.91 351.5L531.89 350.99L531.5 350.47L531.48 349.95L531.09 349.44L531.06 348.4L530.67 347.89L530.65 347.37L530.26 346.85L530.24 346.34L529.86 345.82L529.81 344.79L529.43 344.27L529.4 343.75L529.03 343.24L528.97 342.2L528.6 341.68L528.57 341.17L528.2 340.65L528.13 339.62L527.78 339.1L527.73 338.58L527.39 338.07L527.29 337.03L526.96 336.52L526.9 336L526.59 335.48L526.43 334.45L525.9 332.9M608.7 470.7L600.42 467.07L592.29 463.12L584.69 459.02L577.73 454.85L571.03 450.41L564.82 445.86L558.7 440.9L552.81 435.6L547.25 430.05L542.11 424.36L537.08 418.19L532.49 411.96L527.97 405.16L523.68 398.01L519.69 390.63L515.84 382.73M505.95 358.06L501.98 345.82L498.3 332.9M608.7 505.15L599.59 503.14L590.9 501L582.85 498.78L575.17 496.4L568.13 493.97L561.09 491.25L554.62 488.44L548.67 485.56L542.87 482.42L537.49 479.16L532.52 475.8L527.56 472.05L523 468.2L518.72 464.15L514.72 459.95L510.58 455.06L506.92 450.2L503.43 445.03L500.01 439.35L496.95 433.67L494.02 427.57L491.31 421.26L488.72 414.55L486.23 407.31L483.84 399.56L481.7 391.81L479.54 383.02L477.6 374.24L475.76 364.94L473.94 354.6L472.31 344.27L470.7 332.9M608.7 512.04L594.62 509.48L581.79 506.69L569.78 503.57L559.02 500.23M534.63 489.74L530.55 487.41L526.73 485.03L523 482.48L519.69 480.01L516.38 477.32L513.2 474.49L510.17 471.55L507.27 468.48L504.43 465.19L501.89 461.97L499.35 458.47L496.92 454.8L494.45 450.72L492.37 446.96L490.3 442.9L488.16 438.32L484.37 429.02L480.77 418.46L477.6 407.31L474.64 394.91L471.96 381.47L469.46 366.49L467.23 350.47L465.18 332.9M608.7 518.93L597.11 517.37L586.34 515.7L576.41 513.92L566.89 511.95L558.19 509.86L550.33 507.68L542.87 505.29L535.84 502.69L529.21 499.85L523.42 496.98L518.03 493.92L512.65 490.39L507.68 486.6L503.32 482.76L499.24 478.62L495.26 473.98L491.54 468.93L488.23 463.75L485.02 457.95L482.3 452.27L479.53 445.65L477.05 438.77L474.64 431.08L472.49 423.15L470.47 414.55L468.58 405.25L466.84 395.43L465.18 384.57L463.67 373.21L462.24 360.8L460.91 347.37L459.66 332.9M608.7 525.82L590.9 524.16L575.17 522.32L561.09 520.26L548.67 517.98L537.49 515.42L527.56 512.58L523 511.04L518.45 509.31L514.31 507.55L510.34 505.66M489.07 489.95L485.16 485.34L481.6 480.33L478.29 474.75L475.33 468.81L472.54 462.09L470.03 454.85L467.77 447.1L465.63 438.32L463.74 429.02L461.97 418.68L460.35 407.31L458.87 394.91L457.53 381.47L456.28 366.49L455.17 350.47L454.14 332.9M608.7 532.71L592.14 531.94L577.24 531.09L563.57 530.13L551.57 529.08L540.8 527.92L530.87 526.6L521.96 525.13L513.89 523.48L506.86 521.7L500.23 519.63L494.45 517.38L489.47 514.99L484.76 512.21L480.52 509.11L476.63 505.58L473.32 501.85L470.36 497.74L467.53 492.89L465.04 487.6L462.81 481.72L460.9 475.51L459.1 468.29L457.44 460.02L456.01 451.24L454.69 441.17L453.52 430.05L452.46 417.65L451.53 404.21L450.69 389.23L449.91 372.17L448.62 332.9M443.1 539.6L443.1 521.89M443.1 495.3L443.1 332.9M360.3 507.8L366.15 504.98L371.48 501.93L376.16 498.78L380.59 495.27L384.58 491.54L388.34 487.41L391.76 482.97L394.85 478.27M405.42 453.94L408.19 444L410.62 433.15L412.86 420.75L414.88 406.8L416.67 391.29L418.3 373.72L419.72 354.6L421.02 332.9M360.3 464.44L363.29 460.54L366.1 456.5L368.76 452.27L371.12 448.14L373.55 443.46L375.96 438.32L378.15 433.15L380.16 427.9M387.75 402.43L389.36 395.43L390.98 387.68L393.93 371.14L396.55 353.05L398.94 332.9M360.3 401.8L363.2 393.26L365.98 384M372.25 358.17L374.65 345.82L376.86 332.9" stroke="#000" stroke-width="1" fill="none" stroke-linejoin="round"/>
<path d="M299.3 391.96L295.32 385.61L291.7 379.34M276.61 346.6L271.71 332.9M299.3 436.25L294.55 431.6L290.2 426.96L286.17 422.3L282.11 417.18M263.39 386.4L260.81 380.91L258.13 374.76L255.62 368.56L253.1 361.84L250.77 355.12L248.44 347.89L244.12 332.9M608.7 391.96L604.72 385.61L600.9 378.99M585.85 346.22L581.1 332.9M608.7 436.25L603.95 431.6L599.59 426.96L595.45 422.16L591.42 417.07M572.72 386.28L569.99 380.44L567.3 374.24L564.81 368.04L562.33 361.41L557.78 347.77L553.5 332.9" stroke="#000" stroke-width="1" fill="none" stroke-dasharray="3.9 1.7"/>
<g transform="translate(482.16 213.52) rotate(-89.44)"><text font-size="16" fill="#000"><tspan x="-14.22 -6 -1.78 6.22" y="3">0.25</tspan></text></g><g transform="translate(476.74 171.19) rotate(-88.66)"><text font-size="16" fill="#000"><tspan x="-14.22 -6 -1.78 6.22" y="3">0.50</tspan></text></g><g transform="translate(468.96 140.7) rotate(-88.14)"><text font-size="16" fill="#000"><tspan x="-14.22 -6 -1.78 6.22" y="3">0.75</tspan></text></g><g transform="translate(459.53 109.7) rotate(-88.28)"><text font-size="16" fill="#000"><tspan x="-14.22 -6 -1.78 6.22" y="3">1.00</tspan></text></g><g transform="translate(449.79 78.69) rotate(-89.11)"><text font-size="16" fill="#000"><tspan x="-14.22 -6 -1.78 6.22" y="3">1.25</tspan></text></g><g transform="translate(443.5 47.69) rotate(-89.97)"><text font-size="16" fill="#000"><tspan x="-14.22 -6 -1.78 6.22" y="3">1.50</tspan></text></g><g transform="translate(284.15 362.97) rotate(65.25)"><text font-size="12.2" fill="#fff"><tspan x="-13.27" y="4.88" font-family="DejaVu Sans, sans-serif" font-weight="200">−</tspan><tspan x="-3.05 3.22 6.44" y="4.03">1.0</tspan></text></g><g transform="translate(272.75 401.79) rotate(58.69)"><text font-size="12.2" fill="#fff"><tspan x="-13.27" y="4.88" font-family="DejaVu Sans, sans-serif" font-weight="200">−</tspan><tspan x="-3.05 3.22 6.44" y="4.03">0.5</tspan></text></g><g transform="translate(232.28 374.66) rotate(65.71)"><text font-size="12.2" fill="#fff"><tspan x="-7.8 -1.53 1.7" y="4.03">0.0</tspan></text></g><g transform="translate(201.53 370.4) rotate(68.17)"><text font-size="12.2" fill="#fff"><tspan x="-7.8 -1.53 1.7" y="4.03">0.5</tspan></text></g><g transform="translate(277.86 499.71) rotate(15.47)"><text font-size="12.2" fill="#000"><tspan x="-7.8 -1.53 1.7" y="4.03">1.0</tspan></text></g><g transform="translate(238.27 495.34) rotate(22.95)"><text font-size="12.2" fill="#000"><tspan x="-7.8 -1.53 1.7" y="4.03">1.1</tspan></text></g><g transform="translate(216.47 497.37) rotate(27.05)"><text font-size="12.2" fill="#000"><tspan x="-7.8 -1.53 1.7" y="4.03">1.2</tspan></text></g><g transform="translate(184.7 493.11) rotate(42.39)"><text font-size="12.2" fill="#000"><tspan x="-7.8 -1.53 1.7" y="4.03">1.3</tspan></text></g><g transform="translate(173.31 508.63) rotate(38.07)"><text font-size="12.2" fill="#000"><tspan x="-7.8 -1.53 1.7" y="4.03">1.4</tspan></text></g><g transform="translate(133.77 508.6) rotate(90)"><text font-size="12.2" fill="#000"><tspan x="-7.8 -1.53 1.7" y="4.03">1.5</tspan></text></g><g transform="translate(90.91 465.9) rotate(-66.65)"><text font-size="12.2" fill="#000"><tspan x="-7.8 -1.53 1.7" y="4.03">1.9</tspan></text></g><g transform="translate(74.55 415.47) rotate(-73.34)"><text font-size="12.2" fill="#000"><tspan x="-7.8 -1.53 1.7" y="4.03">2.3</tspan></text></g><g transform="translate(59.43 372.63) rotate(-76.13)"><text font-size="12.2" fill="#000"><tspan x="-7.8 -1.53 1.7" y="4.03">2.7</tspan></text></g><g transform="translate(593.38 362.61) rotate(65.33)"><text font-size="12.2" fill="#fff"><tspan x="-13.27" y="4.88" font-family="DejaVu Sans, sans-serif" font-weight="200">−</tspan><tspan x="-3.05 3.22 6.44" y="4.03">1.0</tspan></text></g><g transform="translate(582.07 401.68) rotate(58.73)"><text font-size="12.2" fill="#fff"><tspan x="-13.27" y="4.88" font-family="DejaVu Sans, sans-serif" font-weight="200">−</tspan><tspan x="-3.05 3.22 6.44" y="4.03">0.5</tspan></text></g><g transform="translate(541.66 374.66) rotate(65.7)"><text font-size="12.2" fill="#fff"><tspan x="-7.8 -1.53 1.7" y="4.03">0.0</tspan></text></g><g transform="translate(510.89 370.4) rotate(68.17)"><text font-size="12.2" fill="#fff"><tspan x="-7.8 -1.53 1.7" y="4.03">0.5</tspan></text></g><g transform="translate(546.83 494.98) rotate(23.28)"><text font-size="12.2" fill="#000"><tspan x="-7.8 -1.53 1.7" y="4.03">1.1</tspan></text></g><g transform="translate(499.7 497.81) rotate(36.44)"><text font-size="12.2" fill="#000"><tspan x="-7.8 -1.53 1.7" y="4.03">1.3</tspan></text></g><g transform="translate(443.1 508.6) rotate(90)"><text font-size="12.2" fill="#000"><tspan x="-7.8 -1.53 1.7" y="4.03">1.5</tspan></text></g><g transform="translate(400.13 466.11) rotate(-66.52)"><text font-size="12.2" fill="#000"><tspan x="-7.8 -1.53 1.7" y="4.03">1.9</tspan></text></g><g transform="translate(383.96 415.16) rotate(-73.41)"><text font-size="12.2" fill="#000"><tspan x="-7.8 -1.53 1.7" y="4.03">2.3</tspan></text></g><g transform="translate(369.12 371.08) rotate(-76.37)"><text font-size="12.2" fill="#000"><tspan x="-7.8 -1.53 1.7" y="4.03">2.7</tspan></text></g>
<g fill="#111"><text font-size="16"><tspan x="33.59" y="256.92" font-family="DejaVu Sans, sans-serif" font-weight="200">−</tspan><tspan x="47 55.22 59.45" y="255.8">2.0</tspan></text><text font-size="16"><tspan x="74.98" y="256.92" font-family="DejaVu Sans, sans-serif" font-weight="200">−</tspan><tspan x="88.38 96.61 100.83" y="255.8">1.5</tspan></text><text font-size="16"><tspan x="116.36" y="256.92" font-family="DejaVu Sans, sans-serif" font-weight="200">−</tspan><tspan x="129.77 137.99 142.21" y="255.8">1.0</tspan></text><text font-size="16"><tspan x="157.74" y="256.92" font-family="DejaVu Sans, sans-serif" font-weight="200">−</tspan><tspan x="171.15 179.37 183.6" y="255.8">0.5</tspan></text><text font-size="16"><tspan x="206.31 214.53 218.76" y="255.8">0.0</tspan></text><text font-size="16"><tspan x="247.69 255.92 260.14" y="255.8">0.5</tspan></text><text font-size="16"><tspan x="289.08 297.3 301.52" y="255.8">1.0</tspan></text><text font-size="16"><tspan x="19.55 27.78 32" y="239.4">0.0</tspan></text><text font-size="16"><tspan x="19.55 27.78 32" y="218.73">0.1</tspan></text><text font-size="16"><tspan x="19.55 27.78 32" y="198.06">0.2</tspan></text><text font-size="16"><tspan x="19.55 27.78 32" y="177.39">0.3</tspan></text><text font-size="16"><tspan x="19.55 27.78 32" y="156.72">0.4</tspan></text><text font-size="16"><tspan x="19.55 27.78 32" y="136.05">0.5</tspan></text><text font-size="16"><tspan x="19.55 27.78 32" y="115.38">0.6</tspan></text><text font-size="16"><tspan x="19.55 27.78 32" y="94.71">0.7</tspan></text><text font-size="16"><tspan x="19.55 27.78 32" y="74.04">0.8</tspan></text><text font-size="16"><tspan x="19.55 27.78 32" y="53.37">0.9</tspan></text><text font-size="16"><tspan x="19.55 27.78 32" y="32.7">1.0</tspan></text><text font-size="16"><tspan x="342.89" y="256.92" font-family="DejaVu Sans, sans-serif" font-weight="200">−</tspan><tspan x="356.3 364.52 368.75" y="255.8">2.0</tspan></text><text font-size="16"><tspan x="384.29" y="256.92" font-family="DejaVu Sans, sans-serif" font-weight="200">−</tspan><tspan x="397.7 405.92 410.15" y="255.8">1.5</tspan></text><text font-size="16"><tspan x="425.69" y="256.92" font-family="DejaVu Sans, sans-serif" font-weight="200">−</tspan><tspan x="439.1 447.32 451.55" y="255.8">1.0</tspan></text><text font-size="16"><tspan x="467.09" y="256.92" font-family="DejaVu Sans, sans-serif" font-weight="200">−</tspan><tspan x="480.5 488.72 492.95" y="255.8">0.5</tspan></text><text font-size="16"><tspan x="515.68 523.9 528.12" y="255.8">0.0</tspan></text><text font-size="16"><tspan x="557.08 565.3 569.52" y="255.8">0.5</tspan></text><text font-size="16"><tspan x="598.48 606.7 610.92" y="255.8">1.0</tspan></text><text font-size="16"><tspan x="33.59" y="563.32" font-family="DejaVu Sans, sans-serif" font-weight="200">−</tspan><tspan x="47 55.22 59.45" y="562.2">2.0</tspan></text><text font-size="16"><tspan x="74.98" y="563.32" font-family="DejaVu Sans, sans-serif" font-weight="200">−</tspan><tspan x="88.38 96.61 100.83" y="562.2">1.5</tspan></text><text font-size="16"><tspan x="116.36" y="563.32" font-family="DejaVu Sans, sans-serif" font-weight="200">−</tspan><tspan x="129.77 137.99 142.21" y="562.2">1.0</tspan></text><text font-size="16"><tspan x="157.74" y="563.32" font-family="DejaVu Sans, sans-serif" font-weight="200">−</tspan><tspan x="171.15 179.37 183.6" y="562.2">0.5</tspan></text><text font-size="16"><tspan x="206.31 214.53 218.76" y="562.2">0.0</tspan></text><text font-size="16"><tspan x="247.69 255.92 260.14" y="562.2">0.5</tspan></text><text font-size="16"><tspan x="289.08 297.3 301.52" y="562.2">1.0</tspan></text><text font-size="16"><tspan x="19.55 27.78 32" y="545.8">0.0</tspan></text><text font-size="16"><tspan x="19.55 27.78 32" y="525.13">0.1</tspan></text><text font-size="16"><tspan x="19.55 27.78 32" y="504.46">0.2</tspan></text><text font-size="16"><tspan x="19.55 27.78 32" y="483.79">0.3</tspan></text><text font-size="16"><tspan x="19.55 27.78 32" y="463.12">0.4</tspan></text><text font-size="16"><tspan x="19.55 27.78 32" y="442.45">0.5</tspan></text><text font-size="16"><tspan x="19.55 27.78 32" y="421.78">0.6</tspan></text><text font-size="16"><tspan x="19.55 27.78 32" y="401.11">0.7</tspan></text><text font-size="16"><tspan x="19.55 27.78 32" y="380.44">0.8</tspan></text><text font-size="16"><tspan x="19.55 27.78 32" y="359.77">0.9</tspan></text><text font-size="16"><tspan x="19.55 27.78 32" y="339.1">1.0</tspan></text><text font-size="16"><tspan x="342.89" y="563.32" font-family="DejaVu Sans, sans-serif" font-weight="200">−</tspan><tspan x="356.3 364.52 368.75" y="562.2">2.0</tspan></text><text font-size="16"><tspan x="384.29" y="563.32" font-family="DejaVu Sans, sans-serif" font-weight="200">−</tspan><tspan x="397.7 405.92 410.15" y="562.2">1.5</tspan></text><text font-size="16"><tspan x="425.69" y="563.32" font-family="DejaVu Sans, sans-serif" font-weight="200">−</tspan><tspan x="439.1 447.32 451.55" y="562.2">1.0</tspan></text><text font-size="16"><tspan x="467.09" y="563.32" font-family="DejaVu Sans, sans-serif" font-weight="200">−</tspan><tspan x="480.5 488.72 492.95" y="562.2">0.5</tspan></text><text font-size="16"><tspan x="515.68 523.9 528.12" y="562.2">0.0</tspan></text><text font-size="16"><tspan x="557.08 565.3 569.52" y="562.2">0.5</tspan></text><text font-size="16"><tspan x="598.48 606.7 610.92" y="562.2">1.0</tspan></text><text font-size="16"><tspan x="651" y="239.6">0</tspan></text><text font-size="16"><tspan x="651.55" y="187.92" font-style="italic">π</tspan><tspan x="660.9" y="191.12" font-size="23.2">/</tspan><tspan x="668.12" y="187.92">8</tspan></text><text font-size="16"><tspan x="651.55" y="136.25" font-style="italic">π</tspan><tspan x="660.9" y="139.45" font-size="23.2">/</tspan><tspan x="668.12" y="136.25">4</tspan></text><text font-size="16"><tspan x="651" y="84.58">3</tspan><tspan x="659.55" y="84.58" font-style="italic">π</tspan><tspan x="668.9" y="87.78" font-size="23.2">/</tspan><tspan x="676.12" y="84.58">8</tspan></text><text font-size="16"><tspan x="651.55" y="32.9" font-style="italic">π</tspan><tspan x="660.9" y="36.1" font-size="23.2">/</tspan><tspan x="668.12" y="32.9">2</tspan></text><text font-size="16"><tspan x="650.04" y="523.05" font-family="DejaVu Sans, sans-serif" font-weight="200">−</tspan><tspan x="663.45 671.67 675.9" y="521.93">1.0</tspan></text><text font-size="16"><tspan x="650.04" y="500.09" font-family="DejaVu Sans, sans-serif" font-weight="200">−</tspan><tspan x="663.45 671.67 675.9" y="498.97">0.5</tspan></text><text font-size="16"><tspan x="651 659.22 663.45" y="476">0.0</tspan></text><text font-size="16"><tspan x="651 659.22 663.45" y="453.03">0.5</tspan></text><text font-size="16"><tspan x="651 659.22 663.45" y="430.07">1.0</tspan></text><text font-size="16"><tspan x="651 659.22 663.45" y="407.1">1.5</tspan></text><text font-size="16"><tspan x="651 659.22 663.45" y="384.13">2.0</tspan></text><text font-size="16"><tspan x="651 659.22 663.45" y="361.17">2.5</tspan></text><text font-size="20"><tspan x="131.07" y="16.7">0</tspan><tspan x="146.03" y="18.1" font-family="DejaVu Sans, sans-serif" font-weight="200">&lt;</tspan><tspan x="168.99" y="16.7" font-style="italic">γ</tspan><tspan x="209.23" y="16.7">1</tspan></text><text transform="translate(183.93 19.3) scale(1 1.32)" font-family="DejaVu Sans, sans-serif" font-size="18.6" stroke="#fff" stroke-width=".75">≪</text><text x="167.75" y="278.9" font-size="16" font-style="italic">θ<tspan font-size="12.6" dx="0.4" dy="2.6">ρ</tspan></text><text x="1" y="126.7" font-size="16" font-style="italic">θ</text><text font-size="20"><tspan x="460" y="16.7" font-style="italic">γ</tspan><tspan x="500.24" y="16.7">1</tspan></text><text transform="translate(474.94 19.3) scale(1 1.32)" font-family="DejaVu Sans, sans-serif" font-size="18.6" stroke="#fff" stroke-width=".75">≫</text><text x="477.1" y="278.9" font-size="16" font-style="italic">θ<tspan font-size="12.6" dx="0.4" dy="2.6">ρ</tspan></text><text font-size="20"><tspan x="131.07" y="323.1">0</tspan><tspan x="146.03" y="324.5" font-family="DejaVu Sans, sans-serif" font-weight="200">&lt;</tspan><tspan x="168.99" y="323.1" font-style="italic">γ</tspan><tspan x="209.23" y="323.1">1</tspan></text><text transform="translate(183.93 325.7) scale(1 1.32)" font-family="DejaVu Sans, sans-serif" font-size="18.6" stroke="#fff" stroke-width=".75">≪</text><text x="167.75" y="585.3" font-size="16" font-style="italic">θ<tspan font-size="12.6" dx="0.4" dy="2.6">ρ</tspan></text><text x="1" y="433.1" font-size="16" font-style="italic">θ</text><text font-size="20"><tspan x="460" y="323.1" font-style="italic">γ</tspan><tspan x="500.24" y="323.1">1</tspan></text><text transform="translate(474.94 325.7) scale(1 1.32)" font-family="DejaVu Sans, sans-serif" font-size="18.6" stroke="#fff" stroke-width=".75">≫</text><text x="477.1" y="585.3" font-size="16" font-style="italic">θ<tspan font-size="12.6" dx="0.4" dy="2.6">ρ</tspan></text><text transform="translate(627.3 16.8) scale(1.3 1)" font-size="16" text-anchor="middle" font-style="italic">α</text><text transform="translate(627.4 322.1) scale(1.3 1.18)" font-size="16" text-anchor="middle" font-style="italic">κ</text></g>
</svg></body></html>
